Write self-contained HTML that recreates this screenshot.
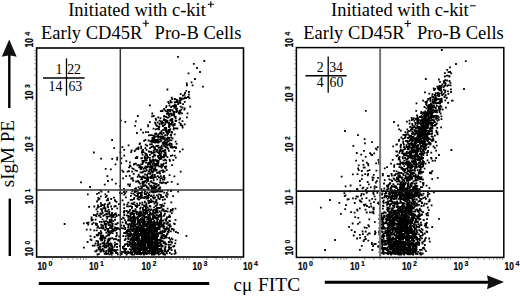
<!DOCTYPE html>
<html><head><meta charset="utf-8"><style>
html,body{margin:0;padding:0;background:#fff;width:520px;height:296px;overflow:hidden}
svg{position:absolute;left:0;top:0}
.tt{font-family:"Liberation Serif",serif;font-size:18.5px;fill:#000}
.sp{font-family:"Liberation Serif",serif;font-size:10px;fill:#000}
.qn{font-family:"Liberation Serif",serif;font-size:13.8px;fill:#000}
.tk{font-family:"Liberation Sans",sans-serif;font-weight:bold;font-size:10.3px;fill:#000;stroke:#000;stroke-width:0.2px}
.tks{font-family:"Liberation Sans",sans-serif;font-weight:bold;font-size:7px;fill:#000;stroke:#000;stroke-width:0.15px}
</style></head><body>
<svg width="520" height="296" viewBox="0 0 520 296">
<defs><filter id="bl" x="-5%" y="-5%" width="110%" height="110%"><feGaussianBlur stdDeviation="0.35"/></filter></defs>
<g fill="#000" filter="url(#bl)">
<path d="M190.6 81.4h1.8v1.8h-1.8zM185.9 82.6h1.8v1.8h-1.8zM186.0 84.4h1.8v1.8h-1.8zM191.7 84.4h1.8v1.8h-1.8zM185.4 89.9h1.8v1.8h-1.8zM184.1 92.1h1.8v1.8h-1.8zM179.8 93.2h1.8v1.8h-1.8zM183.6 93.9h1.8v1.8h-1.8zM188.0 93.7h1.8v1.8h-1.8zM182.0 94.7h1.8v1.8h-1.8zM187.1 96.1h1.8v1.8h-1.8zM170.8 96.7h1.8v1.8h-1.8zM184.1 96.5h1.8v1.8h-1.8zM185.1 97.1h1.8v1.8h-1.8zM187.7 96.2h1.8v1.8h-1.8zM179.0 97.3h1.8v1.8h-1.8zM180.8 97.6h1.8v1.8h-1.8zM182.8 97.8h1.8v1.8h-1.8zM183.7 97.3h1.8v1.8h-1.8zM188.5 97.2h1.8v1.8h-1.8zM171.4 98.2h1.8v1.8h-1.8zM173.8 98.1h1.8v1.8h-1.8zM174.5 98.5h1.8v1.8h-1.8zM180.0 98.1h1.8v1.8h-1.8zM180.9 98.2h1.8v1.8h-1.8zM169.5 99.8h1.8v1.8h-1.8zM176.1 99.1h1.8v1.8h-1.8zM178.7 99.5h1.8v1.8h-1.8zM179.8 99.3h1.8v1.8h-1.8zM176.0 100.4h1.8v1.8h-1.8zM176.8 100.4h1.8v1.8h-1.8zM179.1 100.9h1.8v1.8h-1.8zM183.9 100.9h1.8v1.8h-1.8zM167.4 101.1h1.8v1.8h-1.8zM170.0 101.5h1.8v1.8h-1.8zM170.8 101.5h1.8v1.8h-1.8zM173.9 101.2h1.8v1.8h-1.8zM175.5 101.2h1.8v1.8h-1.8zM176.9 101.1h1.8v1.8h-1.8zM178.9 101.7h1.8v1.8h-1.8zM168.0 102.3h1.8v1.8h-1.8zM179.6 102.2h1.8v1.8h-1.8zM173.9 103.6h1.8v1.8h-1.8zM177.2 103.1h1.8v1.8h-1.8zM182.2 103.3h1.8v1.8h-1.8zM168.6 104.6h1.8v1.8h-1.8zM173.2 104.9h1.8v1.8h-1.8zM174.2 104.7h1.8v1.8h-1.8zM175.2 104.4h1.8v1.8h-1.8zM165.6 105.3h1.8v1.8h-1.8zM171.8 105.2h1.8v1.8h-1.8zM173.4 105.8h1.8v1.8h-1.8zM175.0 106.0h1.8v1.8h-1.8zM179.6 105.7h1.8v1.8h-1.8zM189.3 105.8h1.8v1.8h-1.8zM165.3 106.4h1.8v1.8h-1.8zM170.3 106.1h1.8v1.8h-1.8zM173.5 107.0h1.8v1.8h-1.8zM181.5 106.6h1.8v1.8h-1.8zM163.1 108.0h1.8v1.8h-1.8zM175.6 107.7h1.8v1.8h-1.8zM176.2 107.8h1.8v1.8h-1.8zM183.8 107.4h1.8v1.8h-1.8zM166.8 109.0h1.8v1.8h-1.8zM168.1 108.9h1.8v1.8h-1.8zM170.0 108.9h1.8v1.8h-1.8zM175.1 108.4h1.8v1.8h-1.8zM180.4 108.7h1.8v1.8h-1.8zM183.4 108.8h1.8v1.8h-1.8zM161.7 109.8h1.8v1.8h-1.8zM164.3 109.4h1.8v1.8h-1.8zM166.9 109.6h1.8v1.8h-1.8zM171.8 109.6h1.8v1.8h-1.8zM176.1 109.8h1.8v1.8h-1.8zM179.0 109.7h1.8v1.8h-1.8zM159.9 110.2h1.8v1.8h-1.8zM161.6 110.3h1.8v1.8h-1.8zM165.2 110.5h1.8v1.8h-1.8zM169.2 110.5h1.8v1.8h-1.8zM172.8 111.0h1.8v1.8h-1.8zM173.5 110.9h1.8v1.8h-1.8zM175.5 111.1h1.8v1.8h-1.8zM176.3 110.4h1.8v1.8h-1.8zM178.6 110.5h1.8v1.8h-1.8zM167.1 111.3h1.8v1.8h-1.8zM172.8 111.6h1.8v1.8h-1.8zM177.8 111.9h1.8v1.8h-1.8zM178.3 111.5h1.8v1.8h-1.8zM179.6 111.4h1.8v1.8h-1.8zM151.4 112.6h1.8v1.8h-1.8zM166.0 112.7h1.8v1.8h-1.8zM166.2 113.0h1.8v1.8h-1.8zM167.7 113.1h1.8v1.8h-1.8zM169.7 112.8h1.8v1.8h-1.8zM170.6 112.7h1.8v1.8h-1.8zM173.3 113.1h1.8v1.8h-1.8zM177.9 112.4h1.8v1.8h-1.8zM178.9 112.8h1.8v1.8h-1.8zM181.1 112.5h1.8v1.8h-1.8zM186.6 112.4h1.8v1.8h-1.8zM167.7 113.9h1.8v1.8h-1.8zM168.2 113.5h1.8v1.8h-1.8zM171.3 114.0h1.8v1.8h-1.8zM172.8 113.1h1.8v1.8h-1.8zM173.3 113.4h1.8v1.8h-1.8zM136.9 115.1h1.8v1.8h-1.8zM152.8 115.1h1.8v1.8h-1.8zM163.5 115.1h1.8v1.8h-1.8zM170.5 114.6h1.8v1.8h-1.8zM173.1 114.5h1.8v1.8h-1.8zM151.2 115.5h1.8v1.8h-1.8zM163.0 115.7h1.8v1.8h-1.8zM165.3 116.1h1.8v1.8h-1.8zM168.5 115.7h1.8v1.8h-1.8zM173.8 116.0h1.8v1.8h-1.8zM174.8 115.8h1.8v1.8h-1.8zM157.3 116.4h1.8v1.8h-1.8zM166.7 116.8h1.8v1.8h-1.8zM167.4 116.7h1.8v1.8h-1.8zM186.0 116.5h1.8v1.8h-1.8zM154.8 117.8h1.8v1.8h-1.8zM159.5 117.2h1.8v1.8h-1.8zM171.2 118.0h1.8v1.8h-1.8zM174.8 117.7h1.8v1.8h-1.8zM179.2 117.6h1.8v1.8h-1.8zM155.0 118.7h1.8v1.8h-1.8zM155.2 119.0h1.8v1.8h-1.8zM163.0 119.0h1.8v1.8h-1.8zM163.2 118.3h1.8v1.8h-1.8zM164.7 118.9h1.8v1.8h-1.8zM169.6 118.9h1.8v1.8h-1.8zM170.4 118.6h1.8v1.8h-1.8zM171.6 118.6h1.8v1.8h-1.8zM178.4 118.8h1.8v1.8h-1.8zM119.9 119.7h1.8v1.8h-1.8zM158.6 119.7h1.8v1.8h-1.8zM164.0 119.6h1.8v1.8h-1.8zM166.1 119.8h1.8v1.8h-1.8zM169.3 119.7h1.8v1.8h-1.8zM175.4 119.9h1.8v1.8h-1.8zM135.0 120.5h1.8v1.8h-1.8zM160.2 120.6h1.8v1.8h-1.8zM161.5 120.4h1.8v1.8h-1.8zM166.7 120.3h1.8v1.8h-1.8zM171.1 120.4h1.8v1.8h-1.8zM174.6 120.1h1.8v1.8h-1.8zM181.6 120.2h1.8v1.8h-1.8zM149.0 121.2h1.8v1.8h-1.8zM154.3 121.8h1.8v1.8h-1.8zM156.8 121.6h1.8v1.8h-1.8zM160.7 121.4h1.8v1.8h-1.8zM162.5 122.0h1.8v1.8h-1.8zM164.9 121.2h1.8v1.8h-1.8zM166.4 121.7h1.8v1.8h-1.8zM168.3 121.9h1.8v1.8h-1.8zM171.1 122.0h1.8v1.8h-1.8zM171.8 121.2h1.8v1.8h-1.8zM178.5 121.7h1.8v1.8h-1.8zM154.5 122.7h1.8v1.8h-1.8zM158.9 122.8h1.8v1.8h-1.8zM161.0 123.0h1.8v1.8h-1.8zM168.2 122.7h1.8v1.8h-1.8zM169.5 122.9h1.8v1.8h-1.8zM173.9 123.0h1.8v1.8h-1.8zM179.9 122.9h1.8v1.8h-1.8zM158.7 123.5h1.8v1.8h-1.8zM164.3 123.2h1.8v1.8h-1.8zM168.2 124.0h1.8v1.8h-1.8zM170.7 123.6h1.8v1.8h-1.8zM172.6 123.6h1.8v1.8h-1.8zM183.8 123.4h1.8v1.8h-1.8zM134.2 125.0h1.8v1.8h-1.8zM147.2 124.2h1.8v1.8h-1.8zM155.4 124.3h1.8v1.8h-1.8zM161.8 125.1h1.8v1.8h-1.8zM162.4 124.7h1.8v1.8h-1.8zM163.5 124.3h1.8v1.8h-1.8zM168.0 124.8h1.8v1.8h-1.8zM168.7 124.4h1.8v1.8h-1.8zM172.4 125.0h1.8v1.8h-1.8zM173.7 124.2h1.8v1.8h-1.8zM179.8 124.2h1.8v1.8h-1.8zM181.4 124.7h1.8v1.8h-1.8zM147.3 125.5h1.8v1.8h-1.8zM156.1 125.1h1.8v1.8h-1.8zM158.0 125.8h1.8v1.8h-1.8zM158.4 125.9h1.8v1.8h-1.8zM168.7 125.4h1.8v1.8h-1.8zM163.8 127.0h1.8v1.8h-1.8zM165.3 127.0h1.8v1.8h-1.8zM168.2 126.1h1.8v1.8h-1.8zM181.7 126.6h1.8v1.8h-1.8zM152.6 127.7h1.8v1.8h-1.8zM156.4 128.0h1.8v1.8h-1.8zM157.8 127.4h1.8v1.8h-1.8zM163.9 127.9h1.8v1.8h-1.8zM164.3 127.2h1.8v1.8h-1.8zM173.0 127.2h1.8v1.8h-1.8zM174.7 127.5h1.8v1.8h-1.8zM176.5 127.6h1.8v1.8h-1.8zM140.0 128.7h1.8v1.8h-1.8zM154.8 128.4h1.8v1.8h-1.8zM158.2 128.5h1.8v1.8h-1.8zM162.2 128.9h1.8v1.8h-1.8zM165.3 128.1h1.8v1.8h-1.8zM167.6 129.0h1.8v1.8h-1.8zM169.4 128.2h1.8v1.8h-1.8zM172.7 128.4h1.8v1.8h-1.8zM164.3 129.3h1.8v1.8h-1.8zM165.5 129.9h1.8v1.8h-1.8zM168.9 129.3h1.8v1.8h-1.8zM160.7 130.3h1.8v1.8h-1.8zM165.1 130.3h1.8v1.8h-1.8zM166.8 130.7h1.8v1.8h-1.8zM167.1 130.7h1.8v1.8h-1.8zM168.5 130.9h1.8v1.8h-1.8zM170.6 131.0h1.8v1.8h-1.8zM142.2 131.8h1.8v1.8h-1.8zM145.0 131.2h1.8v1.8h-1.8zM147.3 131.3h1.8v1.8h-1.8zM159.5 131.4h1.8v1.8h-1.8zM165.6 131.1h1.8v1.8h-1.8zM166.2 131.8h1.8v1.8h-1.8zM168.3 131.2h1.8v1.8h-1.8zM171.2 131.6h1.8v1.8h-1.8zM154.2 132.9h1.8v1.8h-1.8zM155.2 132.4h1.8v1.8h-1.8zM159.1 132.6h1.8v1.8h-1.8zM159.6 132.8h1.8v1.8h-1.8zM160.4 132.1h1.8v1.8h-1.8zM162.7 132.1h1.8v1.8h-1.8zM166.3 132.3h1.8v1.8h-1.8zM167.3 133.0h1.8v1.8h-1.8zM154.8 133.3h1.8v1.8h-1.8zM155.2 133.2h1.8v1.8h-1.8zM157.4 133.3h1.8v1.8h-1.8zM161.0 133.4h1.8v1.8h-1.8zM170.1 133.8h1.8v1.8h-1.8zM173.8 133.5h1.8v1.8h-1.8zM148.0 134.4h1.8v1.8h-1.8zM149.8 134.3h1.8v1.8h-1.8zM150.5 134.2h1.8v1.8h-1.8zM151.8 134.5h1.8v1.8h-1.8zM153.4 134.9h1.8v1.8h-1.8zM157.0 135.1h1.8v1.8h-1.8zM164.2 134.3h1.8v1.8h-1.8zM166.2 134.3h1.8v1.8h-1.8zM169.8 134.5h1.8v1.8h-1.8zM170.2 134.5h1.8v1.8h-1.8zM153.1 135.4h1.8v1.8h-1.8zM153.1 135.6h1.8v1.8h-1.8zM155.3 135.5h1.8v1.8h-1.8zM158.7 136.0h1.8v1.8h-1.8zM159.3 135.6h1.8v1.8h-1.8zM160.9 136.0h1.8v1.8h-1.8zM162.1 135.5h1.8v1.8h-1.8zM151.5 137.1h1.8v1.8h-1.8zM153.8 136.4h1.8v1.8h-1.8zM157.2 136.8h1.8v1.8h-1.8zM160.0 137.1h1.8v1.8h-1.8zM162.1 136.2h1.8v1.8h-1.8zM163.8 136.4h1.8v1.8h-1.8zM166.7 136.6h1.8v1.8h-1.8zM167.3 136.9h1.8v1.8h-1.8zM168.2 137.1h1.8v1.8h-1.8zM170.4 136.7h1.8v1.8h-1.8zM151.9 138.0h1.8v1.8h-1.8zM152.3 137.8h1.8v1.8h-1.8zM153.2 137.5h1.8v1.8h-1.8zM160.4 138.0h1.8v1.8h-1.8zM162.0 137.9h1.8v1.8h-1.8zM162.9 137.7h1.8v1.8h-1.8zM165.9 138.1h1.8v1.8h-1.8zM167.1 137.4h1.8v1.8h-1.8zM171.7 137.4h1.8v1.8h-1.8zM144.5 139.0h1.8v1.8h-1.8zM152.8 138.5h1.8v1.8h-1.8zM154.6 139.1h1.8v1.8h-1.8zM156.5 139.0h1.8v1.8h-1.8zM157.1 139.0h1.8v1.8h-1.8zM158.8 138.4h1.8v1.8h-1.8zM164.0 138.6h1.8v1.8h-1.8zM166.7 138.9h1.8v1.8h-1.8zM143.2 139.9h1.8v1.8h-1.8zM147.7 139.6h1.8v1.8h-1.8zM151.1 139.2h1.8v1.8h-1.8zM152.7 139.9h1.8v1.8h-1.8zM153.6 139.6h1.8v1.8h-1.8zM154.2 139.6h1.8v1.8h-1.8zM156.3 139.2h1.8v1.8h-1.8zM160.3 140.0h1.8v1.8h-1.8zM164.8 139.5h1.8v1.8h-1.8zM168.8 139.2h1.8v1.8h-1.8zM170.6 139.4h1.8v1.8h-1.8zM149.6 140.2h1.8v1.8h-1.8zM150.2 140.9h1.8v1.8h-1.8zM151.8 140.1h1.8v1.8h-1.8zM154.6 141.1h1.8v1.8h-1.8zM155.1 140.7h1.8v1.8h-1.8zM156.9 140.8h1.8v1.8h-1.8zM158.7 140.7h1.8v1.8h-1.8zM163.3 140.8h1.8v1.8h-1.8zM167.7 140.4h1.8v1.8h-1.8zM174.7 140.7h1.8v1.8h-1.8zM152.1 141.3h1.8v1.8h-1.8zM153.8 141.3h1.8v1.8h-1.8zM154.1 141.6h1.8v1.8h-1.8zM156.0 141.3h1.8v1.8h-1.8zM156.7 141.6h1.8v1.8h-1.8zM157.6 141.6h1.8v1.8h-1.8zM161.7 141.7h1.8v1.8h-1.8zM163.9 141.6h1.8v1.8h-1.8zM165.5 141.4h1.8v1.8h-1.8zM166.3 141.3h1.8v1.8h-1.8zM139.2 142.5h1.8v1.8h-1.8zM163.0 142.3h1.8v1.8h-1.8zM169.1 142.6h1.8v1.8h-1.8zM170.5 143.0h1.8v1.8h-1.8zM175.7 142.9h1.8v1.8h-1.8zM138.6 143.2h1.8v1.8h-1.8zM144.8 143.7h1.8v1.8h-1.8zM149.1 143.5h1.8v1.8h-1.8zM151.0 143.3h1.8v1.8h-1.8zM162.3 143.2h1.8v1.8h-1.8zM163.7 143.6h1.8v1.8h-1.8zM164.4 143.2h1.8v1.8h-1.8zM166.0 143.2h1.8v1.8h-1.8zM167.9 143.4h1.8v1.8h-1.8zM170.8 143.7h1.8v1.8h-1.8zM127.7 144.5h1.8v1.8h-1.8zM145.7 144.8h1.8v1.8h-1.8zM146.4 144.8h1.8v1.8h-1.8zM157.4 144.7h1.8v1.8h-1.8zM160.9 144.7h1.8v1.8h-1.8zM163.1 144.9h1.8v1.8h-1.8zM166.2 144.2h1.8v1.8h-1.8zM168.4 144.5h1.8v1.8h-1.8zM169.9 145.0h1.8v1.8h-1.8zM140.2 145.6h1.8v1.8h-1.8zM151.2 145.5h1.8v1.8h-1.8zM152.4 145.3h1.8v1.8h-1.8zM155.4 145.1h1.8v1.8h-1.8zM156.5 145.3h1.8v1.8h-1.8zM160.6 145.7h1.8v1.8h-1.8zM164.3 145.5h1.8v1.8h-1.8zM171.1 145.8h1.8v1.8h-1.8zM121.5 146.3h1.8v1.8h-1.8zM137.6 146.6h1.8v1.8h-1.8zM150.6 146.3h1.8v1.8h-1.8zM153.0 146.2h1.8v1.8h-1.8zM154.0 146.8h1.8v1.8h-1.8zM157.7 147.0h1.8v1.8h-1.8zM159.0 146.4h1.8v1.8h-1.8zM159.4 146.7h1.8v1.8h-1.8zM160.3 146.8h1.8v1.8h-1.8zM164.8 146.4h1.8v1.8h-1.8zM166.1 146.2h1.8v1.8h-1.8zM166.6 147.0h1.8v1.8h-1.8zM169.8 146.2h1.8v1.8h-1.8zM170.8 146.7h1.8v1.8h-1.8zM172.0 146.7h1.8v1.8h-1.8zM173.5 146.1h1.8v1.8h-1.8zM175.2 146.6h1.8v1.8h-1.8zM136.3 147.5h1.8v1.8h-1.8zM140.3 147.5h1.8v1.8h-1.8zM144.5 147.2h1.8v1.8h-1.8zM149.2 147.3h1.8v1.8h-1.8zM153.5 147.8h1.8v1.8h-1.8zM160.3 148.0h1.8v1.8h-1.8zM161.6 147.6h1.8v1.8h-1.8zM167.3 148.0h1.8v1.8h-1.8zM175.1 147.1h1.8v1.8h-1.8zM123.3 149.0h1.8v1.8h-1.8zM135.1 148.4h1.8v1.8h-1.8zM137.5 148.2h1.8v1.8h-1.8zM142.2 148.9h1.8v1.8h-1.8zM145.6 149.0h1.8v1.8h-1.8zM153.6 148.8h1.8v1.8h-1.8zM154.5 148.3h1.8v1.8h-1.8zM156.5 149.0h1.8v1.8h-1.8zM159.1 148.9h1.8v1.8h-1.8zM164.2 148.9h1.8v1.8h-1.8zM181.8 148.4h1.8v1.8h-1.8zM130.7 149.4h1.8v1.8h-1.8zM133.8 150.1h1.8v1.8h-1.8zM141.4 149.9h1.8v1.8h-1.8zM152.8 150.0h1.8v1.8h-1.8zM155.9 149.9h1.8v1.8h-1.8zM164.5 149.2h1.8v1.8h-1.8zM168.0 150.0h1.8v1.8h-1.8zM173.6 149.9h1.8v1.8h-1.8zM141.6 150.6h1.8v1.8h-1.8zM147.9 150.5h1.8v1.8h-1.8zM148.5 151.0h1.8v1.8h-1.8zM150.4 150.8h1.8v1.8h-1.8zM155.5 150.5h1.8v1.8h-1.8zM158.5 150.3h1.8v1.8h-1.8zM159.9 150.2h1.8v1.8h-1.8zM160.4 150.8h1.8v1.8h-1.8zM162.1 150.1h1.8v1.8h-1.8zM162.5 150.3h1.8v1.8h-1.8zM163.6 150.5h1.8v1.8h-1.8zM179.0 150.8h1.8v1.8h-1.8zM119.5 151.5h1.8v1.8h-1.8zM130.3 151.2h1.8v1.8h-1.8zM140.9 151.6h1.8v1.8h-1.8zM142.6 151.3h1.8v1.8h-1.8zM152.3 151.9h1.8v1.8h-1.8zM153.7 151.6h1.8v1.8h-1.8zM156.7 151.4h1.8v1.8h-1.8zM158.2 151.6h1.8v1.8h-1.8zM160.5 152.0h1.8v1.8h-1.8zM163.5 151.7h1.8v1.8h-1.8zM164.6 151.5h1.8v1.8h-1.8zM144.2 152.5h1.8v1.8h-1.8zM150.6 152.5h1.8v1.8h-1.8zM158.0 152.2h1.8v1.8h-1.8zM160.2 152.5h1.8v1.8h-1.8zM164.8 152.6h1.8v1.8h-1.8zM141.7 153.7h1.8v1.8h-1.8zM145.5 153.1h1.8v1.8h-1.8zM149.0 153.9h1.8v1.8h-1.8zM153.6 154.1h1.8v1.8h-1.8zM158.7 153.8h1.8v1.8h-1.8zM163.1 154.1h1.8v1.8h-1.8zM164.5 153.6h1.8v1.8h-1.8zM123.3 154.7h1.8v1.8h-1.8zM144.9 154.5h1.8v1.8h-1.8zM146.2 154.5h1.8v1.8h-1.8zM153.1 154.3h1.8v1.8h-1.8zM154.4 154.8h1.8v1.8h-1.8zM158.4 154.7h1.8v1.8h-1.8zM159.8 154.2h1.8v1.8h-1.8zM165.1 154.7h1.8v1.8h-1.8zM169.9 154.9h1.8v1.8h-1.8zM171.4 154.4h1.8v1.8h-1.8zM173.8 154.7h1.8v1.8h-1.8zM136.0 155.9h1.8v1.8h-1.8zM143.8 155.8h1.8v1.8h-1.8zM151.8 155.9h1.8v1.8h-1.8zM152.6 155.8h1.8v1.8h-1.8zM157.1 155.7h1.8v1.8h-1.8zM157.3 155.1h1.8v1.8h-1.8zM159.9 155.4h1.8v1.8h-1.8zM160.4 155.6h1.8v1.8h-1.8zM163.8 155.2h1.8v1.8h-1.8zM135.3 156.8h1.8v1.8h-1.8zM136.5 156.4h1.8v1.8h-1.8zM146.2 156.5h1.8v1.8h-1.8zM147.1 156.2h1.8v1.8h-1.8zM149.0 157.0h1.8v1.8h-1.8zM157.9 157.0h1.8v1.8h-1.8zM158.6 156.9h1.8v1.8h-1.8zM160.1 156.2h1.8v1.8h-1.8zM162.0 156.1h1.8v1.8h-1.8zM162.9 156.4h1.8v1.8h-1.8zM166.5 156.3h1.8v1.8h-1.8zM174.9 156.8h1.8v1.8h-1.8zM100.2 157.7h1.8v1.8h-1.8zM111.3 157.9h1.8v1.8h-1.8zM120.5 157.5h1.8v1.8h-1.8zM134.8 157.2h1.8v1.8h-1.8zM136.1 157.3h1.8v1.8h-1.8zM140.4 157.4h1.8v1.8h-1.8zM141.2 157.3h1.8v1.8h-1.8zM143.9 157.6h1.8v1.8h-1.8zM144.2 157.3h1.8v1.8h-1.8zM146.5 157.3h1.8v1.8h-1.8zM159.2 157.7h1.8v1.8h-1.8zM160.5 157.9h1.8v1.8h-1.8zM116.2 158.7h1.8v1.8h-1.8zM144.7 158.5h1.8v1.8h-1.8zM149.0 159.0h1.8v1.8h-1.8zM152.1 158.6h1.8v1.8h-1.8zM154.7 158.8h1.8v1.8h-1.8zM158.9 158.1h1.8v1.8h-1.8zM164.2 158.7h1.8v1.8h-1.8zM168.7 158.8h1.8v1.8h-1.8zM141.5 160.0h1.8v1.8h-1.8zM144.8 159.2h1.8v1.8h-1.8zM145.8 159.3h1.8v1.8h-1.8zM151.0 159.6h1.8v1.8h-1.8zM152.0 159.9h1.8v1.8h-1.8zM153.4 159.3h1.8v1.8h-1.8zM155.4 160.0h1.8v1.8h-1.8zM156.7 159.5h1.8v1.8h-1.8zM157.8 159.8h1.8v1.8h-1.8zM162.7 159.4h1.8v1.8h-1.8zM165.3 159.6h1.8v1.8h-1.8zM169.0 160.0h1.8v1.8h-1.8zM172.4 159.3h1.8v1.8h-1.8zM125.4 160.2h1.8v1.8h-1.8zM142.2 160.1h1.8v1.8h-1.8zM143.1 160.1h1.8v1.8h-1.8zM149.2 160.8h1.8v1.8h-1.8zM153.0 160.4h1.8v1.8h-1.8zM155.9 160.1h1.8v1.8h-1.8zM129.0 161.5h1.8v1.8h-1.8zM141.8 161.8h1.8v1.8h-1.8zM142.5 161.5h1.8v1.8h-1.8zM145.1 161.6h1.8v1.8h-1.8zM145.8 161.7h1.8v1.8h-1.8zM147.9 161.9h1.8v1.8h-1.8zM149.0 161.9h1.8v1.8h-1.8zM150.1 161.5h1.8v1.8h-1.8zM152.8 161.8h1.8v1.8h-1.8zM156.5 161.2h1.8v1.8h-1.8zM157.6 161.5h1.8v1.8h-1.8zM165.2 162.1h1.8v1.8h-1.8zM120.3 162.2h1.8v1.8h-1.8zM135.0 162.7h1.8v1.8h-1.8zM149.3 162.8h1.8v1.8h-1.8zM151.6 162.4h1.8v1.8h-1.8zM156.0 162.8h1.8v1.8h-1.8zM157.4 163.0h1.8v1.8h-1.8zM162.9 162.7h1.8v1.8h-1.8zM133.0 163.6h1.8v1.8h-1.8zM133.6 163.1h1.8v1.8h-1.8zM137.8 164.0h1.8v1.8h-1.8zM140.3 163.5h1.8v1.8h-1.8zM141.5 163.2h1.8v1.8h-1.8zM147.0 163.6h1.8v1.8h-1.8zM148.1 163.4h1.8v1.8h-1.8zM149.1 163.4h1.8v1.8h-1.8zM152.0 163.7h1.8v1.8h-1.8zM154.0 163.1h1.8v1.8h-1.8zM155.2 163.2h1.8v1.8h-1.8zM157.0 164.0h1.8v1.8h-1.8zM160.4 163.6h1.8v1.8h-1.8zM161.6 163.8h1.8v1.8h-1.8zM129.0 164.6h1.8v1.8h-1.8zM136.5 164.4h1.8v1.8h-1.8zM138.9 164.9h1.8v1.8h-1.8zM149.7 164.4h1.8v1.8h-1.8zM153.3 164.9h1.8v1.8h-1.8zM154.5 164.8h1.8v1.8h-1.8zM156.2 164.8h1.8v1.8h-1.8zM161.7 164.9h1.8v1.8h-1.8zM162.2 164.2h1.8v1.8h-1.8zM171.2 164.3h1.8v1.8h-1.8zM129.7 165.5h1.8v1.8h-1.8zM139.8 166.1h1.8v1.8h-1.8zM144.7 165.5h1.8v1.8h-1.8zM147.2 165.7h1.8v1.8h-1.8zM149.2 166.0h1.8v1.8h-1.8zM151.0 165.2h1.8v1.8h-1.8zM151.3 165.9h1.8v1.8h-1.8zM158.2 165.4h1.8v1.8h-1.8zM159.8 165.8h1.8v1.8h-1.8zM160.4 165.4h1.8v1.8h-1.8zM164.0 165.9h1.8v1.8h-1.8zM165.4 165.4h1.8v1.8h-1.8zM128.2 166.5h1.8v1.8h-1.8zM138.3 166.5h1.8v1.8h-1.8zM141.3 166.6h1.8v1.8h-1.8zM143.7 166.7h1.8v1.8h-1.8zM145.7 166.6h1.8v1.8h-1.8zM146.5 166.1h1.8v1.8h-1.8zM149.1 166.6h1.8v1.8h-1.8zM150.1 166.5h1.8v1.8h-1.8zM150.5 166.5h1.8v1.8h-1.8zM151.5 167.0h1.8v1.8h-1.8zM154.4 166.7h1.8v1.8h-1.8zM160.8 166.8h1.8v1.8h-1.8zM164.7 166.9h1.8v1.8h-1.8zM131.5 167.4h1.8v1.8h-1.8zM132.6 168.0h1.8v1.8h-1.8zM139.6 167.8h1.8v1.8h-1.8zM142.7 167.9h1.8v1.8h-1.8zM144.9 167.8h1.8v1.8h-1.8zM151.0 167.4h1.8v1.8h-1.8zM152.2 167.5h1.8v1.8h-1.8zM154.1 168.0h1.8v1.8h-1.8zM164.5 167.5h1.8v1.8h-1.8zM140.2 168.3h1.8v1.8h-1.8zM148.7 168.8h1.8v1.8h-1.8zM150.4 168.8h1.8v1.8h-1.8zM152.7 169.0h1.8v1.8h-1.8zM155.8 169.0h1.8v1.8h-1.8zM121.5 169.7h1.8v1.8h-1.8zM134.5 169.5h1.8v1.8h-1.8zM136.1 170.0h1.8v1.8h-1.8zM145.9 169.5h1.8v1.8h-1.8zM153.9 169.7h1.8v1.8h-1.8zM154.8 169.4h1.8v1.8h-1.8zM160.8 169.8h1.8v1.8h-1.8zM162.0 169.4h1.8v1.8h-1.8zM165.9 169.3h1.8v1.8h-1.8zM122.5 171.0h1.8v1.8h-1.8zM126.7 170.7h1.8v1.8h-1.8zM128.1 170.2h1.8v1.8h-1.8zM131.3 170.7h1.8v1.8h-1.8zM142.3 170.7h1.8v1.8h-1.8zM143.5 170.2h1.8v1.8h-1.8zM144.6 170.5h1.8v1.8h-1.8zM147.9 170.5h1.8v1.8h-1.8zM148.5 170.7h1.8v1.8h-1.8zM150.7 170.4h1.8v1.8h-1.8zM152.3 170.4h1.8v1.8h-1.8zM158.9 170.4h1.8v1.8h-1.8zM163.7 170.4h1.8v1.8h-1.8zM179.8 170.7h1.8v1.8h-1.8zM139.7 171.5h1.8v1.8h-1.8zM141.5 171.6h1.8v1.8h-1.8zM151.8 171.2h1.8v1.8h-1.8zM156.1 171.6h1.8v1.8h-1.8zM157.6 171.4h1.8v1.8h-1.8zM158.6 171.3h1.8v1.8h-1.8zM162.3 171.1h1.8v1.8h-1.8zM132.8 172.9h1.8v1.8h-1.8zM147.2 172.7h1.8v1.8h-1.8zM149.1 172.9h1.8v1.8h-1.8zM149.6 172.2h1.8v1.8h-1.8zM156.6 172.2h1.8v1.8h-1.8zM159.2 172.8h1.8v1.8h-1.8zM137.9 173.7h1.8v1.8h-1.8zM144.1 173.6h1.8v1.8h-1.8zM146.1 174.0h1.8v1.8h-1.8zM151.8 173.6h1.8v1.8h-1.8zM153.9 173.9h1.8v1.8h-1.8zM128.8 174.9h1.8v1.8h-1.8zM137.7 174.5h1.8v1.8h-1.8zM150.8 174.8h1.8v1.8h-1.8zM151.5 175.0h1.8v1.8h-1.8zM163.2 175.1h1.8v1.8h-1.8zM168.7 174.2h1.8v1.8h-1.8zM125.3 175.3h1.8v1.8h-1.8zM136.8 176.0h1.8v1.8h-1.8zM139.0 175.7h1.8v1.8h-1.8zM139.8 175.9h1.8v1.8h-1.8zM142.3 175.4h1.8v1.8h-1.8zM146.4 175.8h1.8v1.8h-1.8zM149.9 175.8h1.8v1.8h-1.8zM150.8 175.2h1.8v1.8h-1.8zM153.9 175.3h1.8v1.8h-1.8zM156.9 175.3h1.8v1.8h-1.8zM160.0 175.2h1.8v1.8h-1.8zM173.5 175.4h1.8v1.8h-1.8zM131.6 177.1h1.8v1.8h-1.8zM140.9 176.7h1.8v1.8h-1.8zM142.0 176.2h1.8v1.8h-1.8zM142.7 176.2h1.8v1.8h-1.8zM143.6 176.3h1.8v1.8h-1.8zM147.9 176.4h1.8v1.8h-1.8zM151.7 176.7h1.8v1.8h-1.8zM153.2 176.4h1.8v1.8h-1.8zM154.8 176.3h1.8v1.8h-1.8zM158.0 176.4h1.8v1.8h-1.8zM158.4 176.4h1.8v1.8h-1.8zM162.6 176.2h1.8v1.8h-1.8zM163.7 176.9h1.8v1.8h-1.8zM122.2 177.5h1.8v1.8h-1.8zM130.3 177.6h1.8v1.8h-1.8zM143.8 177.2h1.8v1.8h-1.8zM145.1 177.3h1.8v1.8h-1.8zM147.0 177.2h1.8v1.8h-1.8zM149.6 177.2h1.8v1.8h-1.8zM150.2 177.2h1.8v1.8h-1.8zM152.5 177.5h1.8v1.8h-1.8zM159.6 177.8h1.8v1.8h-1.8zM160.7 177.2h1.8v1.8h-1.8zM131.8 178.3h1.8v1.8h-1.8zM140.2 178.5h1.8v1.8h-1.8zM141.4 178.4h1.8v1.8h-1.8zM145.8 179.0h1.8v1.8h-1.8zM146.3 178.8h1.8v1.8h-1.8zM147.2 178.9h1.8v1.8h-1.8zM156.3 178.5h1.8v1.8h-1.8zM162.0 178.7h1.8v1.8h-1.8zM163.4 178.8h1.8v1.8h-1.8zM107.0 180.1h1.8v1.8h-1.8zM132.3 180.0h1.8v1.8h-1.8zM144.5 179.9h1.8v1.8h-1.8zM152.8 179.4h1.8v1.8h-1.8zM159.4 179.7h1.8v1.8h-1.8zM135.2 180.6h1.8v1.8h-1.8zM137.1 180.1h1.8v1.8h-1.8zM141.8 181.0h1.8v1.8h-1.8zM143.3 180.8h1.8v1.8h-1.8zM144.5 180.3h1.8v1.8h-1.8zM146.9 180.1h1.8v1.8h-1.8zM149.6 181.0h1.8v1.8h-1.8zM150.3 180.2h1.8v1.8h-1.8zM170.8 180.9h1.8v1.8h-1.8zM137.6 181.4h1.8v1.8h-1.8zM138.3 181.3h1.8v1.8h-1.8zM142.1 182.1h1.8v1.8h-1.8zM143.2 181.8h1.8v1.8h-1.8zM145.6 181.6h1.8v1.8h-1.8zM151.3 181.8h1.8v1.8h-1.8zM159.1 181.8h1.8v1.8h-1.8zM161.7 181.4h1.8v1.8h-1.8zM162.6 181.6h1.8v1.8h-1.8zM164.6 182.1h1.8v1.8h-1.8zM166.8 181.3h1.8v1.8h-1.8zM139.1 182.8h1.8v1.8h-1.8zM141.4 182.4h1.8v1.8h-1.8zM142.3 182.7h1.8v1.8h-1.8zM148.0 183.0h1.8v1.8h-1.8zM152.6 182.2h1.8v1.8h-1.8zM153.8 182.5h1.8v1.8h-1.8zM155.7 182.9h1.8v1.8h-1.8zM160.9 182.1h1.8v1.8h-1.8zM165.3 182.4h1.8v1.8h-1.8zM127.2 183.6h1.8v1.8h-1.8zM129.2 183.5h1.8v1.8h-1.8zM141.9 183.9h1.8v1.8h-1.8zM154.9 183.4h1.8v1.8h-1.8zM176.8 183.2h1.8v1.8h-1.8zM142.9 185.1h1.8v1.8h-1.8zM144.1 184.2h1.8v1.8h-1.8zM145.1 184.8h1.8v1.8h-1.8zM149.1 184.7h1.8v1.8h-1.8zM149.9 184.7h1.8v1.8h-1.8zM150.6 184.8h1.8v1.8h-1.8zM153.2 184.5h1.8v1.8h-1.8zM156.6 184.9h1.8v1.8h-1.8zM157.8 184.1h1.8v1.8h-1.8zM119.2 185.3h1.8v1.8h-1.8zM128.8 185.3h1.8v1.8h-1.8zM140.2 185.4h1.8v1.8h-1.8zM145.6 185.4h1.8v1.8h-1.8zM150.3 185.7h1.8v1.8h-1.8zM152.7 185.7h1.8v1.8h-1.8zM154.4 185.9h1.8v1.8h-1.8zM155.6 185.8h1.8v1.8h-1.8zM137.7 186.2h1.8v1.8h-1.8zM140.7 186.8h1.8v1.8h-1.8zM141.1 186.2h1.8v1.8h-1.8zM146.0 186.5h1.8v1.8h-1.8zM147.0 186.6h1.8v1.8h-1.8zM150.6 186.5h1.8v1.8h-1.8zM151.6 186.7h1.8v1.8h-1.8zM153.0 186.1h1.8v1.8h-1.8zM153.7 186.5h1.8v1.8h-1.8zM154.7 186.9h1.8v1.8h-1.8zM155.2 186.4h1.8v1.8h-1.8zM158.8 186.5h1.8v1.8h-1.8zM159.3 186.5h1.8v1.8h-1.8zM123.0 187.9h1.8v1.8h-1.8zM134.1 188.0h1.8v1.8h-1.8zM135.1 187.2h1.8v1.8h-1.8zM139.5 188.0h1.8v1.8h-1.8zM141.0 187.2h1.8v1.8h-1.8zM141.1 187.2h1.8v1.8h-1.8zM147.0 187.7h1.8v1.8h-1.8zM147.9 187.5h1.8v1.8h-1.8zM151.2 187.1h1.8v1.8h-1.8zM152.7 188.1h1.8v1.8h-1.8zM154.3 188.0h1.8v1.8h-1.8zM157.6 187.7h1.8v1.8h-1.8zM158.9 187.2h1.8v1.8h-1.8zM131.3 189.0h1.8v1.8h-1.8zM138.6 188.2h1.8v1.8h-1.8zM143.0 188.7h1.8v1.8h-1.8zM143.7 188.7h1.8v1.8h-1.8zM147.9 188.4h1.8v1.8h-1.8zM151.0 188.2h1.8v1.8h-1.8zM155.0 189.1h1.8v1.8h-1.8zM157.2 189.1h1.8v1.8h-1.8zM159.0 188.9h1.8v1.8h-1.8zM99.5 189.4h1.8v1.8h-1.8zM131.2 189.9h1.8v1.8h-1.8zM135.3 189.3h1.8v1.8h-1.8zM137.0 190.0h1.8v1.8h-1.8zM141.3 189.8h1.8v1.8h-1.8zM144.1 190.1h1.8v1.8h-1.8zM150.9 189.3h1.8v1.8h-1.8zM153.4 189.3h1.8v1.8h-1.8zM154.9 189.9h1.8v1.8h-1.8zM157.1 189.6h1.8v1.8h-1.8zM161.2 190.1h1.8v1.8h-1.8zM166.9 189.8h1.8v1.8h-1.8zM170.5 189.5h1.8v1.8h-1.8zM100.5 190.8h1.8v1.8h-1.8zM107.5 191.0h1.8v1.8h-1.8zM125.5 190.7h1.8v1.8h-1.8zM133.6 190.3h1.8v1.8h-1.8zM135.3 190.1h1.8v1.8h-1.8zM150.4 190.5h1.8v1.8h-1.8zM151.8 190.9h1.8v1.8h-1.8zM152.3 190.2h1.8v1.8h-1.8zM153.6 190.9h1.8v1.8h-1.8zM156.6 190.6h1.8v1.8h-1.8zM158.5 190.4h1.8v1.8h-1.8zM159.2 190.8h1.8v1.8h-1.8zM160.1 190.6h1.8v1.8h-1.8zM161.4 190.4h1.8v1.8h-1.8zM169.9 190.2h1.8v1.8h-1.8zM177.3 190.7h1.8v1.8h-1.8zM98.0 191.9h1.8v1.8h-1.8zM119.0 192.0h1.8v1.8h-1.8zM123.2 191.1h1.8v1.8h-1.8zM134.1 191.2h1.8v1.8h-1.8zM139.2 192.1h1.8v1.8h-1.8zM141.1 191.7h1.8v1.8h-1.8zM143.7 192.0h1.8v1.8h-1.8zM146.2 191.4h1.8v1.8h-1.8zM148.7 191.4h1.8v1.8h-1.8zM151.3 191.3h1.8v1.8h-1.8zM152.7 191.8h1.8v1.8h-1.8zM154.7 191.2h1.8v1.8h-1.8zM163.3 191.8h1.8v1.8h-1.8zM165.9 191.9h1.8v1.8h-1.8zM96.1 193.0h1.8v1.8h-1.8zM121.0 192.5h1.8v1.8h-1.8zM124.3 192.5h1.8v1.8h-1.8zM130.5 192.4h1.8v1.8h-1.8zM132.6 192.7h1.8v1.8h-1.8zM136.4 192.3h1.8v1.8h-1.8zM137.4 192.3h1.8v1.8h-1.8zM140.3 192.7h1.8v1.8h-1.8zM143.9 193.1h1.8v1.8h-1.8zM147.5 192.8h1.8v1.8h-1.8zM86.9 193.4h1.8v1.8h-1.8zM104.5 193.5h1.8v1.8h-1.8zM123.4 193.8h1.8v1.8h-1.8zM133.8 194.0h1.8v1.8h-1.8zM137.0 194.0h1.8v1.8h-1.8zM145.2 193.2h1.8v1.8h-1.8zM148.0 194.1h1.8v1.8h-1.8zM148.1 193.9h1.8v1.8h-1.8zM158.1 193.5h1.8v1.8h-1.8zM160.0 194.1h1.8v1.8h-1.8zM166.8 193.6h1.8v1.8h-1.8zM105.8 195.0h1.8v1.8h-1.8zM130.0 194.9h1.8v1.8h-1.8zM135.3 194.9h1.8v1.8h-1.8zM139.8 194.6h1.8v1.8h-1.8zM141.2 194.4h1.8v1.8h-1.8zM146.4 195.1h1.8v1.8h-1.8zM150.5 194.5h1.8v1.8h-1.8zM152.9 194.4h1.8v1.8h-1.8zM156.0 194.4h1.8v1.8h-1.8zM164.9 194.5h1.8v1.8h-1.8zM99.9 195.5h1.8v1.8h-1.8zM137.0 195.7h1.8v1.8h-1.8zM139.1 196.0h1.8v1.8h-1.8zM139.8 195.2h1.8v1.8h-1.8zM143.9 196.0h1.8v1.8h-1.8zM145.0 195.7h1.8v1.8h-1.8zM147.4 195.8h1.8v1.8h-1.8zM150.0 195.3h1.8v1.8h-1.8zM157.4 195.5h1.8v1.8h-1.8zM160.2 195.7h1.8v1.8h-1.8zM162.4 196.1h1.8v1.8h-1.8zM166.1 196.0h1.8v1.8h-1.8zM172.2 195.3h1.8v1.8h-1.8zM97.5 196.9h1.8v1.8h-1.8zM104.8 196.2h1.8v1.8h-1.8zM113.0 196.7h1.8v1.8h-1.8zM125.0 196.4h1.8v1.8h-1.8zM133.4 197.0h1.8v1.8h-1.8zM138.6 196.2h1.8v1.8h-1.8zM140.9 196.6h1.8v1.8h-1.8zM141.4 196.7h1.8v1.8h-1.8zM142.4 196.8h1.8v1.8h-1.8zM146.7 196.7h1.8v1.8h-1.8zM147.9 196.4h1.8v1.8h-1.8zM152.0 196.2h1.8v1.8h-1.8zM154.2 196.5h1.8v1.8h-1.8zM157.4 196.1h1.8v1.8h-1.8zM160.1 196.3h1.8v1.8h-1.8zM161.8 196.4h1.8v1.8h-1.8zM98.5 198.0h1.8v1.8h-1.8zM107.0 197.7h1.8v1.8h-1.8zM110.3 198.1h1.8v1.8h-1.8zM136.6 197.8h1.8v1.8h-1.8zM137.3 197.9h1.8v1.8h-1.8zM139.7 197.5h1.8v1.8h-1.8zM143.4 197.3h1.8v1.8h-1.8zM145.6 197.8h1.8v1.8h-1.8zM147.1 197.7h1.8v1.8h-1.8zM152.6 197.6h1.8v1.8h-1.8zM153.5 197.1h1.8v1.8h-1.8zM157.5 197.5h1.8v1.8h-1.8zM158.8 198.1h1.8v1.8h-1.8zM97.4 198.9h1.8v1.8h-1.8zM129.7 199.0h1.8v1.8h-1.8zM131.3 199.0h1.8v1.8h-1.8zM133.0 198.2h1.8v1.8h-1.8zM138.2 198.8h1.8v1.8h-1.8zM150.0 198.4h1.8v1.8h-1.8zM155.5 199.0h1.8v1.8h-1.8zM161.9 199.0h1.8v1.8h-1.8zM164.0 198.5h1.8v1.8h-1.8zM106.0 199.5h1.8v1.8h-1.8zM107.1 199.2h1.8v1.8h-1.8zM114.0 199.2h1.8v1.8h-1.8zM121.6 199.4h1.8v1.8h-1.8zM147.3 200.0h1.8v1.8h-1.8zM148.6 199.9h1.8v1.8h-1.8zM155.6 199.8h1.8v1.8h-1.8zM96.1 200.6h1.8v1.8h-1.8zM114.5 200.2h1.8v1.8h-1.8zM115.6 201.0h1.8v1.8h-1.8zM143.9 200.7h1.8v1.8h-1.8zM149.6 201.0h1.8v1.8h-1.8zM150.6 200.3h1.8v1.8h-1.8zM151.5 200.6h1.8v1.8h-1.8zM152.3 200.8h1.8v1.8h-1.8zM154.5 200.7h1.8v1.8h-1.8zM108.6 201.8h1.8v1.8h-1.8zM127.5 201.8h1.8v1.8h-1.8zM133.5 201.4h1.8v1.8h-1.8zM141.4 201.8h1.8v1.8h-1.8zM143.9 201.4h1.8v1.8h-1.8zM148.0 202.1h1.8v1.8h-1.8zM149.3 201.1h1.8v1.8h-1.8zM150.2 201.2h1.8v1.8h-1.8zM155.4 201.5h1.8v1.8h-1.8zM170.4 201.4h1.8v1.8h-1.8zM100.0 202.3h1.8v1.8h-1.8zM108.7 202.8h1.8v1.8h-1.8zM130.7 202.6h1.8v1.8h-1.8zM132.0 202.4h1.8v1.8h-1.8zM136.2 202.8h1.8v1.8h-1.8zM139.0 202.3h1.8v1.8h-1.8zM145.6 202.6h1.8v1.8h-1.8zM153.6 202.6h1.8v1.8h-1.8zM156.5 202.4h1.8v1.8h-1.8zM163.7 202.5h1.8v1.8h-1.8zM100.4 204.1h1.8v1.8h-1.8zM104.0 203.3h1.8v1.8h-1.8zM106.9 203.5h1.8v1.8h-1.8zM118.0 203.3h1.8v1.8h-1.8zM123.2 203.6h1.8v1.8h-1.8zM126.4 203.4h1.8v1.8h-1.8zM131.9 203.2h1.8v1.8h-1.8zM133.8 203.7h1.8v1.8h-1.8zM141.4 203.8h1.8v1.8h-1.8zM145.6 203.5h1.8v1.8h-1.8zM159.3 204.0h1.8v1.8h-1.8zM161.3 203.7h1.8v1.8h-1.8zM97.0 204.6h1.8v1.8h-1.8zM101.8 204.3h1.8v1.8h-1.8zM103.2 204.3h1.8v1.8h-1.8zM135.0 204.9h1.8v1.8h-1.8zM136.7 204.7h1.8v1.8h-1.8zM138.5 204.2h1.8v1.8h-1.8zM143.2 204.5h1.8v1.8h-1.8zM145.0 204.8h1.8v1.8h-1.8zM154.8 204.9h1.8v1.8h-1.8zM156.0 204.2h1.8v1.8h-1.8zM88.2 205.9h1.8v1.8h-1.8zM93.4 205.6h1.8v1.8h-1.8zM97.9 205.9h1.8v1.8h-1.8zM100.0 205.3h1.8v1.8h-1.8zM103.5 205.7h1.8v1.8h-1.8zM106.8 205.2h1.8v1.8h-1.8zM110.2 205.6h1.8v1.8h-1.8zM113.5 205.6h1.8v1.8h-1.8zM114.7 205.1h1.8v1.8h-1.8zM126.2 205.4h1.8v1.8h-1.8zM128.0 205.4h1.8v1.8h-1.8zM129.7 205.2h1.8v1.8h-1.8zM134.9 205.1h1.8v1.8h-1.8zM136.4 205.4h1.8v1.8h-1.8zM143.3 205.4h1.8v1.8h-1.8zM144.3 205.2h1.8v1.8h-1.8zM145.7 205.5h1.8v1.8h-1.8zM148.8 205.1h1.8v1.8h-1.8zM149.5 205.6h1.8v1.8h-1.8zM160.6 205.3h1.8v1.8h-1.8zM162.7 205.1h1.8v1.8h-1.8zM96.7 206.8h1.8v1.8h-1.8zM107.2 206.4h1.8v1.8h-1.8zM131.2 206.1h1.8v1.8h-1.8zM136.0 206.2h1.8v1.8h-1.8zM139.8 206.7h1.8v1.8h-1.8zM142.0 207.0h1.8v1.8h-1.8zM144.9 207.1h1.8v1.8h-1.8zM146.8 206.7h1.8v1.8h-1.8zM153.2 206.5h1.8v1.8h-1.8zM156.1 206.8h1.8v1.8h-1.8zM157.9 206.9h1.8v1.8h-1.8zM158.7 206.9h1.8v1.8h-1.8zM160.5 206.4h1.8v1.8h-1.8zM102.3 207.4h1.8v1.8h-1.8zM103.1 207.2h1.8v1.8h-1.8zM104.6 207.2h1.8v1.8h-1.8zM116.4 207.4h1.8v1.8h-1.8zM123.3 207.2h1.8v1.8h-1.8zM130.9 207.5h1.8v1.8h-1.8zM139.2 207.7h1.8v1.8h-1.8zM156.6 207.2h1.8v1.8h-1.8zM159.0 207.2h1.8v1.8h-1.8zM166.7 207.7h1.8v1.8h-1.8zM171.9 208.0h1.8v1.8h-1.8zM174.6 207.7h1.8v1.8h-1.8zM95.6 208.4h1.8v1.8h-1.8zM100.1 208.2h1.8v1.8h-1.8zM104.5 208.1h1.8v1.8h-1.8zM107.9 209.0h1.8v1.8h-1.8zM111.1 208.1h1.8v1.8h-1.8zM129.1 209.1h1.8v1.8h-1.8zM134.6 208.3h1.8v1.8h-1.8zM142.0 208.2h1.8v1.8h-1.8zM144.9 208.2h1.8v1.8h-1.8zM145.6 208.7h1.8v1.8h-1.8zM148.0 208.7h1.8v1.8h-1.8zM148.2 208.5h1.8v1.8h-1.8zM150.1 209.0h1.8v1.8h-1.8zM150.5 208.6h1.8v1.8h-1.8zM153.0 208.9h1.8v1.8h-1.8zM154.9 208.3h1.8v1.8h-1.8zM161.8 208.2h1.8v1.8h-1.8zM162.7 208.7h1.8v1.8h-1.8zM169.9 209.1h1.8v1.8h-1.8zM100.9 209.1h1.8v1.8h-1.8zM104.4 209.8h1.8v1.8h-1.8zM123.6 210.1h1.8v1.8h-1.8zM125.8 210.0h1.8v1.8h-1.8zM131.8 209.9h1.8v1.8h-1.8zM132.6 209.8h1.8v1.8h-1.8zM134.8 209.6h1.8v1.8h-1.8zM142.2 210.1h1.8v1.8h-1.8zM143.6 209.2h1.8v1.8h-1.8zM144.6 209.3h1.8v1.8h-1.8zM146.0 210.0h1.8v1.8h-1.8zM147.0 209.5h1.8v1.8h-1.8zM152.2 209.8h1.8v1.8h-1.8zM154.8 209.6h1.8v1.8h-1.8zM156.6 209.2h1.8v1.8h-1.8zM161.1 209.6h1.8v1.8h-1.8zM161.9 209.4h1.8v1.8h-1.8zM165.0 210.1h1.8v1.8h-1.8zM171.7 209.7h1.8v1.8h-1.8zM96.7 210.8h1.8v1.8h-1.8zM101.3 210.4h1.8v1.8h-1.8zM104.5 210.4h1.8v1.8h-1.8zM105.8 210.2h1.8v1.8h-1.8zM106.4 210.6h1.8v1.8h-1.8zM108.5 211.0h1.8v1.8h-1.8zM123.0 210.9h1.8v1.8h-1.8zM127.3 210.7h1.8v1.8h-1.8zM128.7 210.8h1.8v1.8h-1.8zM132.9 210.5h1.8v1.8h-1.8zM133.9 210.3h1.8v1.8h-1.8zM136.1 211.1h1.8v1.8h-1.8zM139.1 210.6h1.8v1.8h-1.8zM139.9 210.7h1.8v1.8h-1.8zM144.6 210.9h1.8v1.8h-1.8zM146.6 210.2h1.8v1.8h-1.8zM148.9 210.8h1.8v1.8h-1.8zM152.2 211.1h1.8v1.8h-1.8zM154.9 210.6h1.8v1.8h-1.8zM155.6 210.7h1.8v1.8h-1.8zM156.5 210.7h1.8v1.8h-1.8zM159.0 210.6h1.8v1.8h-1.8zM163.5 210.5h1.8v1.8h-1.8zM166.8 210.8h1.8v1.8h-1.8zM169.5 210.8h1.8v1.8h-1.8zM101.8 211.9h1.8v1.8h-1.8zM108.2 211.8h1.8v1.8h-1.8zM111.3 212.1h1.8v1.8h-1.8zM123.2 211.7h1.8v1.8h-1.8zM126.9 211.9h1.8v1.8h-1.8zM127.7 211.6h1.8v1.8h-1.8zM131.7 211.5h1.8v1.8h-1.8zM135.3 211.9h1.8v1.8h-1.8zM136.7 211.3h1.8v1.8h-1.8zM140.8 212.0h1.8v1.8h-1.8zM142.9 212.0h1.8v1.8h-1.8zM143.2 211.9h1.8v1.8h-1.8zM144.5 211.6h1.8v1.8h-1.8zM146.6 211.2h1.8v1.8h-1.8zM149.4 211.9h1.8v1.8h-1.8zM152.8 211.7h1.8v1.8h-1.8zM153.7 211.8h1.8v1.8h-1.8zM155.2 211.7h1.8v1.8h-1.8zM156.9 211.6h1.8v1.8h-1.8zM96.4 212.9h1.8v1.8h-1.8zM99.4 212.5h1.8v1.8h-1.8zM101.0 212.7h1.8v1.8h-1.8zM105.4 213.0h1.8v1.8h-1.8zM108.2 212.9h1.8v1.8h-1.8zM110.7 213.0h1.8v1.8h-1.8zM114.1 213.0h1.8v1.8h-1.8zM114.8 212.5h1.8v1.8h-1.8zM129.6 212.9h1.8v1.8h-1.8zM130.3 212.2h1.8v1.8h-1.8zM131.8 212.7h1.8v1.8h-1.8zM133.3 212.7h1.8v1.8h-1.8zM137.7 212.4h1.8v1.8h-1.8zM138.6 212.3h1.8v1.8h-1.8zM139.5 212.8h1.8v1.8h-1.8zM140.2 212.1h1.8v1.8h-1.8zM145.2 212.6h1.8v1.8h-1.8zM146.2 212.7h1.8v1.8h-1.8zM148.9 213.0h1.8v1.8h-1.8zM149.6 212.5h1.8v1.8h-1.8zM151.8 213.1h1.8v1.8h-1.8zM154.4 212.1h1.8v1.8h-1.8zM160.1 212.1h1.8v1.8h-1.8zM164.0 212.7h1.8v1.8h-1.8zM170.9 212.2h1.8v1.8h-1.8zM93.0 214.1h1.8v1.8h-1.8zM99.5 213.7h1.8v1.8h-1.8zM103.7 213.9h1.8v1.8h-1.8zM106.2 213.3h1.8v1.8h-1.8zM113.2 214.0h1.8v1.8h-1.8zM115.1 213.6h1.8v1.8h-1.8zM117.7 213.9h1.8v1.8h-1.8zM123.4 214.1h1.8v1.8h-1.8zM131.2 213.3h1.8v1.8h-1.8zM136.0 213.5h1.8v1.8h-1.8zM136.8 213.4h1.8v1.8h-1.8zM138.9 214.0h1.8v1.8h-1.8zM140.9 214.0h1.8v1.8h-1.8zM142.0 213.6h1.8v1.8h-1.8zM142.1 213.7h1.8v1.8h-1.8zM144.2 213.5h1.8v1.8h-1.8zM148.6 214.1h1.8v1.8h-1.8zM150.2 213.7h1.8v1.8h-1.8zM151.2 213.2h1.8v1.8h-1.8zM152.2 214.1h1.8v1.8h-1.8zM159.2 213.9h1.8v1.8h-1.8zM160.3 213.6h1.8v1.8h-1.8zM163.5 214.1h1.8v1.8h-1.8zM94.9 214.3h1.8v1.8h-1.8zM97.9 214.7h1.8v1.8h-1.8zM98.4 214.7h1.8v1.8h-1.8zM102.4 215.0h1.8v1.8h-1.8zM109.3 214.3h1.8v1.8h-1.8zM110.6 214.5h1.8v1.8h-1.8zM112.1 214.2h1.8v1.8h-1.8zM115.7 215.1h1.8v1.8h-1.8zM118.7 214.4h1.8v1.8h-1.8zM125.9 214.5h1.8v1.8h-1.8zM127.6 215.0h1.8v1.8h-1.8zM129.7 214.6h1.8v1.8h-1.8zM132.9 214.5h1.8v1.8h-1.8zM137.8 214.6h1.8v1.8h-1.8zM139.0 214.6h1.8v1.8h-1.8zM140.6 214.5h1.8v1.8h-1.8zM141.8 214.3h1.8v1.8h-1.8zM143.4 215.0h1.8v1.8h-1.8zM147.3 214.1h1.8v1.8h-1.8zM153.8 214.2h1.8v1.8h-1.8zM155.9 214.3h1.8v1.8h-1.8zM157.0 214.7h1.8v1.8h-1.8zM157.8 214.4h1.8v1.8h-1.8zM159.0 215.1h1.8v1.8h-1.8zM163.0 214.9h1.8v1.8h-1.8zM168.6 214.5h1.8v1.8h-1.8zM95.5 215.5h1.8v1.8h-1.8zM105.6 215.5h1.8v1.8h-1.8zM106.8 215.8h1.8v1.8h-1.8zM108.6 215.5h1.8v1.8h-1.8zM110.7 215.4h1.8v1.8h-1.8zM112.0 215.9h1.8v1.8h-1.8zM112.3 215.6h1.8v1.8h-1.8zM127.5 215.8h1.8v1.8h-1.8zM129.2 216.0h1.8v1.8h-1.8zM131.7 216.1h1.8v1.8h-1.8zM133.6 215.6h1.8v1.8h-1.8zM136.6 215.9h1.8v1.8h-1.8zM138.8 215.7h1.8v1.8h-1.8zM139.3 215.3h1.8v1.8h-1.8zM142.8 215.3h1.8v1.8h-1.8zM145.4 215.9h1.8v1.8h-1.8zM147.6 215.3h1.8v1.8h-1.8zM152.7 215.4h1.8v1.8h-1.8zM153.1 215.6h1.8v1.8h-1.8zM154.3 215.9h1.8v1.8h-1.8zM160.0 215.3h1.8v1.8h-1.8zM160.7 215.4h1.8v1.8h-1.8zM167.9 216.1h1.8v1.8h-1.8zM169.2 215.9h1.8v1.8h-1.8zM90.7 216.6h1.8v1.8h-1.8zM99.7 216.2h1.8v1.8h-1.8zM110.6 216.9h1.8v1.8h-1.8zM114.3 216.5h1.8v1.8h-1.8zM122.2 216.7h1.8v1.8h-1.8zM127.4 216.1h1.8v1.8h-1.8zM130.1 216.9h1.8v1.8h-1.8zM131.9 216.1h1.8v1.8h-1.8zM133.1 216.6h1.8v1.8h-1.8zM134.0 216.5h1.8v1.8h-1.8zM136.0 217.1h1.8v1.8h-1.8zM137.4 216.8h1.8v1.8h-1.8zM141.4 216.6h1.8v1.8h-1.8zM143.7 216.6h1.8v1.8h-1.8zM144.1 216.6h1.8v1.8h-1.8zM145.9 216.2h1.8v1.8h-1.8zM146.5 216.2h1.8v1.8h-1.8zM147.7 216.5h1.8v1.8h-1.8zM149.3 216.3h1.8v1.8h-1.8zM152.0 216.1h1.8v1.8h-1.8zM153.3 216.9h1.8v1.8h-1.8zM155.0 216.6h1.8v1.8h-1.8zM155.3 216.6h1.8v1.8h-1.8zM156.2 217.1h1.8v1.8h-1.8zM157.7 216.2h1.8v1.8h-1.8zM166.0 216.6h1.8v1.8h-1.8zM106.1 217.6h1.8v1.8h-1.8zM123.0 217.4h1.8v1.8h-1.8zM130.5 217.7h1.8v1.8h-1.8zM132.1 217.5h1.8v1.8h-1.8zM135.2 217.2h1.8v1.8h-1.8zM136.9 217.8h1.8v1.8h-1.8zM140.1 217.9h1.8v1.8h-1.8zM142.0 218.0h1.8v1.8h-1.8zM142.5 217.7h1.8v1.8h-1.8zM143.4 217.9h1.8v1.8h-1.8zM146.6 217.7h1.8v1.8h-1.8zM147.8 217.7h1.8v1.8h-1.8zM148.8 218.0h1.8v1.8h-1.8zM149.1 217.4h1.8v1.8h-1.8zM151.5 217.7h1.8v1.8h-1.8zM155.0 217.5h1.8v1.8h-1.8zM155.1 217.3h1.8v1.8h-1.8zM156.2 217.6h1.8v1.8h-1.8zM160.1 218.1h1.8v1.8h-1.8zM160.3 217.3h1.8v1.8h-1.8zM165.9 217.7h1.8v1.8h-1.8zM90.6 218.2h1.8v1.8h-1.8zM91.9 218.9h1.8v1.8h-1.8zM94.7 218.7h1.8v1.8h-1.8zM101.6 218.4h1.8v1.8h-1.8zM108.8 219.1h1.8v1.8h-1.8zM110.8 219.0h1.8v1.8h-1.8zM114.1 218.9h1.8v1.8h-1.8zM120.6 218.2h1.8v1.8h-1.8zM127.7 218.3h1.8v1.8h-1.8zM128.7 218.2h1.8v1.8h-1.8zM132.7 218.2h1.8v1.8h-1.8zM134.2 218.1h1.8v1.8h-1.8zM136.5 218.7h1.8v1.8h-1.8zM137.2 218.6h1.8v1.8h-1.8zM139.0 218.9h1.8v1.8h-1.8zM141.0 218.9h1.8v1.8h-1.8zM141.4 219.0h1.8v1.8h-1.8zM142.3 218.8h1.8v1.8h-1.8zM143.4 218.3h1.8v1.8h-1.8zM146.2 218.6h1.8v1.8h-1.8zM148.0 218.9h1.8v1.8h-1.8zM148.9 218.9h1.8v1.8h-1.8zM149.4 219.0h1.8v1.8h-1.8zM151.0 218.2h1.8v1.8h-1.8zM152.1 218.1h1.8v1.8h-1.8zM156.2 218.4h1.8v1.8h-1.8zM157.3 218.4h1.8v1.8h-1.8zM164.4 218.4h1.8v1.8h-1.8zM165.2 218.6h1.8v1.8h-1.8zM174.6 218.9h1.8v1.8h-1.8zM90.7 219.6h1.8v1.8h-1.8zM109.3 220.0h1.8v1.8h-1.8zM110.3 219.5h1.8v1.8h-1.8zM124.1 219.4h1.8v1.8h-1.8zM127.1 219.5h1.8v1.8h-1.8zM128.2 219.7h1.8v1.8h-1.8zM129.8 219.4h1.8v1.8h-1.8zM130.9 219.7h1.8v1.8h-1.8zM131.7 219.7h1.8v1.8h-1.8zM132.3 219.9h1.8v1.8h-1.8zM134.1 219.9h1.8v1.8h-1.8zM137.5 220.0h1.8v1.8h-1.8zM140.7 219.4h1.8v1.8h-1.8zM141.6 219.2h1.8v1.8h-1.8zM143.3 219.1h1.8v1.8h-1.8zM148.1 219.4h1.8v1.8h-1.8zM148.4 220.0h1.8v1.8h-1.8zM149.7 219.9h1.8v1.8h-1.8zM150.3 219.3h1.8v1.8h-1.8zM153.4 219.8h1.8v1.8h-1.8zM156.4 220.0h1.8v1.8h-1.8zM159.0 220.0h1.8v1.8h-1.8zM160.3 219.4h1.8v1.8h-1.8zM162.0 219.5h1.8v1.8h-1.8zM162.4 219.7h1.8v1.8h-1.8zM165.2 219.9h1.8v1.8h-1.8zM168.4 219.7h1.8v1.8h-1.8zM98.9 220.9h1.8v1.8h-1.8zM100.9 220.9h1.8v1.8h-1.8zM103.1 220.4h1.8v1.8h-1.8zM105.1 220.2h1.8v1.8h-1.8zM106.7 221.1h1.8v1.8h-1.8zM108.9 220.8h1.8v1.8h-1.8zM109.9 221.0h1.8v1.8h-1.8zM112.4 220.2h1.8v1.8h-1.8zM130.0 220.5h1.8v1.8h-1.8zM132.3 221.0h1.8v1.8h-1.8zM134.3 220.2h1.8v1.8h-1.8zM136.9 220.2h1.8v1.8h-1.8zM140.7 220.3h1.8v1.8h-1.8zM142.8 220.6h1.8v1.8h-1.8zM143.2 220.7h1.8v1.8h-1.8zM144.5 220.4h1.8v1.8h-1.8zM146.5 221.1h1.8v1.8h-1.8zM147.2 220.9h1.8v1.8h-1.8zM148.9 221.1h1.8v1.8h-1.8zM149.2 221.1h1.8v1.8h-1.8zM150.3 221.0h1.8v1.8h-1.8zM153.1 220.5h1.8v1.8h-1.8zM153.4 220.9h1.8v1.8h-1.8zM156.4 220.9h1.8v1.8h-1.8zM160.5 221.1h1.8v1.8h-1.8zM168.7 220.2h1.8v1.8h-1.8zM169.1 220.2h1.8v1.8h-1.8zM86.1 222.1h1.8v1.8h-1.8zM87.7 221.8h1.8v1.8h-1.8zM92.6 221.9h1.8v1.8h-1.8zM103.6 221.6h1.8v1.8h-1.8zM107.9 222.0h1.8v1.8h-1.8zM109.9 221.8h1.8v1.8h-1.8zM110.7 221.6h1.8v1.8h-1.8zM116.8 222.1h1.8v1.8h-1.8zM121.6 221.4h1.8v1.8h-1.8zM124.8 222.0h1.8v1.8h-1.8zM125.2 221.3h1.8v1.8h-1.8zM131.0 221.7h1.8v1.8h-1.8zM133.7 221.2h1.8v1.8h-1.8zM134.1 221.5h1.8v1.8h-1.8zM136.8 222.0h1.8v1.8h-1.8zM138.5 221.1h1.8v1.8h-1.8zM139.2 221.4h1.8v1.8h-1.8zM140.5 221.3h1.8v1.8h-1.8zM141.3 221.8h1.8v1.8h-1.8zM142.5 221.6h1.8v1.8h-1.8zM143.9 222.1h1.8v1.8h-1.8zM146.7 221.6h1.8v1.8h-1.8zM147.9 221.5h1.8v1.8h-1.8zM150.9 221.6h1.8v1.8h-1.8zM151.4 221.3h1.8v1.8h-1.8zM154.0 221.7h1.8v1.8h-1.8zM155.8 221.6h1.8v1.8h-1.8zM156.8 221.9h1.8v1.8h-1.8zM158.7 221.3h1.8v1.8h-1.8zM159.9 221.4h1.8v1.8h-1.8zM160.7 221.7h1.8v1.8h-1.8zM163.7 221.9h1.8v1.8h-1.8zM166.4 221.4h1.8v1.8h-1.8zM167.1 222.0h1.8v1.8h-1.8zM82.9 222.5h1.8v1.8h-1.8zM94.9 222.6h1.8v1.8h-1.8zM96.0 223.0h1.8v1.8h-1.8zM103.7 223.1h1.8v1.8h-1.8zM105.5 222.9h1.8v1.8h-1.8zM107.7 222.1h1.8v1.8h-1.8zM111.7 222.9h1.8v1.8h-1.8zM125.1 222.4h1.8v1.8h-1.8zM128.7 223.0h1.8v1.8h-1.8zM131.0 222.4h1.8v1.8h-1.8zM131.8 223.0h1.8v1.8h-1.8zM133.4 222.6h1.8v1.8h-1.8zM137.2 222.1h1.8v1.8h-1.8zM138.5 222.6h1.8v1.8h-1.8zM139.3 222.9h1.8v1.8h-1.8zM142.0 223.0h1.8v1.8h-1.8zM142.2 222.9h1.8v1.8h-1.8zM144.0 222.5h1.8v1.8h-1.8zM145.6 222.9h1.8v1.8h-1.8zM146.9 222.9h1.8v1.8h-1.8zM147.7 222.9h1.8v1.8h-1.8zM150.0 222.9h1.8v1.8h-1.8zM152.1 222.7h1.8v1.8h-1.8zM157.4 222.6h1.8v1.8h-1.8zM158.7 222.7h1.8v1.8h-1.8zM163.0 222.6h1.8v1.8h-1.8zM165.7 223.0h1.8v1.8h-1.8zM173.2 222.7h1.8v1.8h-1.8zM87.3 223.7h1.8v1.8h-1.8zM91.2 223.2h1.8v1.8h-1.8zM95.1 223.8h1.8v1.8h-1.8zM95.7 224.1h1.8v1.8h-1.8zM100.3 223.7h1.8v1.8h-1.8zM104.8 223.9h1.8v1.8h-1.8zM111.5 223.4h1.8v1.8h-1.8zM114.5 223.3h1.8v1.8h-1.8zM115.6 223.4h1.8v1.8h-1.8zM126.4 223.4h1.8v1.8h-1.8zM127.8 223.8h1.8v1.8h-1.8zM130.0 223.8h1.8v1.8h-1.8zM130.4 223.6h1.8v1.8h-1.8zM133.1 223.5h1.8v1.8h-1.8zM135.3 223.4h1.8v1.8h-1.8zM136.2 223.3h1.8v1.8h-1.8zM142.9 223.9h1.8v1.8h-1.8zM144.6 223.4h1.8v1.8h-1.8zM145.8 223.9h1.8v1.8h-1.8zM148.0 223.6h1.8v1.8h-1.8zM149.6 223.2h1.8v1.8h-1.8zM150.8 224.0h1.8v1.8h-1.8zM152.1 223.2h1.8v1.8h-1.8zM152.2 223.4h1.8v1.8h-1.8zM154.0 223.5h1.8v1.8h-1.8zM154.2 223.5h1.8v1.8h-1.8zM155.7 223.8h1.8v1.8h-1.8zM156.1 224.0h1.8v1.8h-1.8zM158.3 224.0h1.8v1.8h-1.8zM160.3 223.5h1.8v1.8h-1.8zM161.1 223.9h1.8v1.8h-1.8zM162.2 223.7h1.8v1.8h-1.8zM169.0 223.6h1.8v1.8h-1.8zM173.8 223.1h1.8v1.8h-1.8zM101.4 224.6h1.8v1.8h-1.8zM102.5 224.9h1.8v1.8h-1.8zM104.9 224.5h1.8v1.8h-1.8zM107.7 224.1h1.8v1.8h-1.8zM109.5 224.3h1.8v1.8h-1.8zM111.5 224.8h1.8v1.8h-1.8zM120.4 224.6h1.8v1.8h-1.8zM123.1 224.7h1.8v1.8h-1.8zM129.8 224.3h1.8v1.8h-1.8zM130.7 224.9h1.8v1.8h-1.8zM131.7 224.9h1.8v1.8h-1.8zM133.3 225.0h1.8v1.8h-1.8zM134.4 224.2h1.8v1.8h-1.8zM137.6 224.4h1.8v1.8h-1.8zM138.8 224.7h1.8v1.8h-1.8zM139.8 224.4h1.8v1.8h-1.8zM140.6 224.9h1.8v1.8h-1.8zM141.7 224.2h1.8v1.8h-1.8zM142.7 225.0h1.8v1.8h-1.8zM143.7 224.7h1.8v1.8h-1.8zM144.2 224.9h1.8v1.8h-1.8zM146.6 224.7h1.8v1.8h-1.8zM148.9 224.4h1.8v1.8h-1.8zM149.6 224.9h1.8v1.8h-1.8zM151.1 225.0h1.8v1.8h-1.8zM151.5 224.1h1.8v1.8h-1.8zM153.4 225.0h1.8v1.8h-1.8zM157.8 224.6h1.8v1.8h-1.8zM158.8 224.8h1.8v1.8h-1.8zM162.7 224.5h1.8v1.8h-1.8zM167.5 224.2h1.8v1.8h-1.8zM97.1 225.6h1.8v1.8h-1.8zM100.6 226.0h1.8v1.8h-1.8zM109.6 225.2h1.8v1.8h-1.8zM111.7 225.6h1.8v1.8h-1.8zM123.2 225.4h1.8v1.8h-1.8zM127.6 225.5h1.8v1.8h-1.8zM129.8 226.0h1.8v1.8h-1.8zM130.3 226.0h1.8v1.8h-1.8zM132.0 225.4h1.8v1.8h-1.8zM134.0 225.6h1.8v1.8h-1.8zM135.7 225.9h1.8v1.8h-1.8zM136.2 226.0h1.8v1.8h-1.8zM140.0 225.6h1.8v1.8h-1.8zM140.1 225.4h1.8v1.8h-1.8zM141.9 225.4h1.8v1.8h-1.8zM142.9 225.2h1.8v1.8h-1.8zM145.2 225.1h1.8v1.8h-1.8zM147.8 225.7h1.8v1.8h-1.8zM149.0 225.7h1.8v1.8h-1.8zM149.2 226.0h1.8v1.8h-1.8zM150.8 226.1h1.8v1.8h-1.8zM151.7 225.2h1.8v1.8h-1.8zM152.4 225.3h1.8v1.8h-1.8zM153.3 225.3h1.8v1.8h-1.8zM154.2 225.4h1.8v1.8h-1.8zM157.7 225.2h1.8v1.8h-1.8zM159.3 225.7h1.8v1.8h-1.8zM160.2 225.6h1.8v1.8h-1.8zM162.0 225.6h1.8v1.8h-1.8zM163.5 225.7h1.8v1.8h-1.8zM169.0 225.5h1.8v1.8h-1.8zM170.0 225.5h1.8v1.8h-1.8zM96.5 226.7h1.8v1.8h-1.8zM102.7 226.9h1.8v1.8h-1.8zM105.0 226.3h1.8v1.8h-1.8zM109.0 227.0h1.8v1.8h-1.8zM110.6 226.1h1.8v1.8h-1.8zM114.0 226.4h1.8v1.8h-1.8zM114.7 227.1h1.8v1.8h-1.8zM116.6 226.9h1.8v1.8h-1.8zM124.3 227.0h1.8v1.8h-1.8zM127.2 226.5h1.8v1.8h-1.8zM135.6 226.9h1.8v1.8h-1.8zM136.3 227.0h1.8v1.8h-1.8zM137.1 226.2h1.8v1.8h-1.8zM138.4 226.8h1.8v1.8h-1.8zM139.9 226.2h1.8v1.8h-1.8zM140.4 226.4h1.8v1.8h-1.8zM141.2 226.2h1.8v1.8h-1.8zM142.8 226.6h1.8v1.8h-1.8zM147.0 226.6h1.8v1.8h-1.8zM148.4 226.6h1.8v1.8h-1.8zM149.2 226.7h1.8v1.8h-1.8zM150.6 226.6h1.8v1.8h-1.8zM152.2 226.7h1.8v1.8h-1.8zM153.2 226.1h1.8v1.8h-1.8zM154.2 226.2h1.8v1.8h-1.8zM155.4 226.9h1.8v1.8h-1.8zM156.1 226.7h1.8v1.8h-1.8zM157.3 226.7h1.8v1.8h-1.8zM158.9 226.6h1.8v1.8h-1.8zM162.7 227.0h1.8v1.8h-1.8zM166.0 226.5h1.8v1.8h-1.8zM168.6 226.5h1.8v1.8h-1.8zM98.6 227.2h1.8v1.8h-1.8zM100.6 227.3h1.8v1.8h-1.8zM101.4 227.2h1.8v1.8h-1.8zM102.6 227.7h1.8v1.8h-1.8zM105.5 227.9h1.8v1.8h-1.8zM107.2 227.9h1.8v1.8h-1.8zM110.8 227.6h1.8v1.8h-1.8zM116.1 227.7h1.8v1.8h-1.8zM116.9 227.7h1.8v1.8h-1.8zM117.3 227.8h1.8v1.8h-1.8zM119.0 227.9h1.8v1.8h-1.8zM121.1 227.3h1.8v1.8h-1.8zM122.4 227.7h1.8v1.8h-1.8zM129.6 227.6h1.8v1.8h-1.8zM132.5 227.1h1.8v1.8h-1.8zM133.4 227.8h1.8v1.8h-1.8zM134.8 228.0h1.8v1.8h-1.8zM136.0 227.9h1.8v1.8h-1.8zM136.4 227.8h1.8v1.8h-1.8zM138.8 227.6h1.8v1.8h-1.8zM139.7 227.3h1.8v1.8h-1.8zM140.6 227.9h1.8v1.8h-1.8zM141.9 227.4h1.8v1.8h-1.8zM142.2 227.4h1.8v1.8h-1.8zM143.2 227.5h1.8v1.8h-1.8zM145.7 227.3h1.8v1.8h-1.8zM148.1 227.4h1.8v1.8h-1.8zM148.5 227.6h1.8v1.8h-1.8zM150.5 227.4h1.8v1.8h-1.8zM153.0 227.7h1.8v1.8h-1.8zM153.7 227.2h1.8v1.8h-1.8zM154.2 227.5h1.8v1.8h-1.8zM155.9 227.4h1.8v1.8h-1.8zM157.7 227.3h1.8v1.8h-1.8zM158.6 227.1h1.8v1.8h-1.8zM163.0 227.5h1.8v1.8h-1.8zM165.7 228.1h1.8v1.8h-1.8zM167.6 228.1h1.8v1.8h-1.8zM171.4 228.0h1.8v1.8h-1.8zM85.8 228.7h1.8v1.8h-1.8zM89.6 228.8h1.8v1.8h-1.8zM107.3 228.5h1.8v1.8h-1.8zM112.0 228.2h1.8v1.8h-1.8zM112.1 228.4h1.8v1.8h-1.8zM113.5 228.2h1.8v1.8h-1.8zM115.8 228.5h1.8v1.8h-1.8zM119.0 228.4h1.8v1.8h-1.8zM124.3 228.1h1.8v1.8h-1.8zM127.3 228.8h1.8v1.8h-1.8zM128.6 228.5h1.8v1.8h-1.8zM129.8 228.9h1.8v1.8h-1.8zM130.4 228.3h1.8v1.8h-1.8zM131.7 228.3h1.8v1.8h-1.8zM132.7 228.5h1.8v1.8h-1.8zM133.8 228.8h1.8v1.8h-1.8zM134.8 228.7h1.8v1.8h-1.8zM135.2 228.8h1.8v1.8h-1.8zM136.9 228.5h1.8v1.8h-1.8zM137.6 228.2h1.8v1.8h-1.8zM138.3 228.7h1.8v1.8h-1.8zM139.3 228.2h1.8v1.8h-1.8zM140.7 228.5h1.8v1.8h-1.8zM142.0 228.7h1.8v1.8h-1.8zM142.8 229.0h1.8v1.8h-1.8zM143.8 228.2h1.8v1.8h-1.8zM145.4 228.5h1.8v1.8h-1.8zM147.0 228.8h1.8v1.8h-1.8zM148.1 228.3h1.8v1.8h-1.8zM148.8 229.0h1.8v1.8h-1.8zM149.5 228.5h1.8v1.8h-1.8zM150.8 228.7h1.8v1.8h-1.8zM151.4 228.9h1.8v1.8h-1.8zM152.4 228.7h1.8v1.8h-1.8zM155.9 228.3h1.8v1.8h-1.8zM157.1 228.2h1.8v1.8h-1.8zM158.7 228.3h1.8v1.8h-1.8zM164.0 228.1h1.8v1.8h-1.8zM164.8 228.8h1.8v1.8h-1.8zM165.2 228.5h1.8v1.8h-1.8zM168.0 228.6h1.8v1.8h-1.8zM170.9 228.2h1.8v1.8h-1.8zM172.8 228.4h1.8v1.8h-1.8zM93.4 229.5h1.8v1.8h-1.8zM95.8 229.4h1.8v1.8h-1.8zM104.1 229.3h1.8v1.8h-1.8zM110.2 229.9h1.8v1.8h-1.8zM112.2 230.1h1.8v1.8h-1.8zM113.7 229.6h1.8v1.8h-1.8zM114.7 229.4h1.8v1.8h-1.8zM125.9 229.8h1.8v1.8h-1.8zM126.6 229.6h1.8v1.8h-1.8zM131.3 229.4h1.8v1.8h-1.8zM132.2 229.3h1.8v1.8h-1.8zM134.6 229.6h1.8v1.8h-1.8zM136.1 229.8h1.8v1.8h-1.8zM136.9 230.1h1.8v1.8h-1.8zM138.5 230.0h1.8v1.8h-1.8zM139.7 230.0h1.8v1.8h-1.8zM140.7 229.9h1.8v1.8h-1.8zM141.3 229.3h1.8v1.8h-1.8zM143.9 229.5h1.8v1.8h-1.8zM144.3 229.9h1.8v1.8h-1.8zM145.4 230.0h1.8v1.8h-1.8zM146.4 229.4h1.8v1.8h-1.8zM147.7 229.5h1.8v1.8h-1.8zM149.4 230.1h1.8v1.8h-1.8zM150.9 229.7h1.8v1.8h-1.8zM152.0 230.0h1.8v1.8h-1.8zM153.5 229.2h1.8v1.8h-1.8zM155.1 229.1h1.8v1.8h-1.8zM156.3 230.0h1.8v1.8h-1.8zM161.8 229.8h1.8v1.8h-1.8zM164.3 230.1h1.8v1.8h-1.8zM168.1 229.4h1.8v1.8h-1.8zM172.9 229.6h1.8v1.8h-1.8zM99.9 230.3h1.8v1.8h-1.8zM106.8 230.1h1.8v1.8h-1.8zM107.6 230.5h1.8v1.8h-1.8zM108.2 230.6h1.8v1.8h-1.8zM111.1 230.2h1.8v1.8h-1.8zM126.4 230.6h1.8v1.8h-1.8zM128.2 230.6h1.8v1.8h-1.8zM129.4 230.9h1.8v1.8h-1.8zM131.5 230.2h1.8v1.8h-1.8zM133.4 231.0h1.8v1.8h-1.8zM135.4 230.9h1.8v1.8h-1.8zM138.0 230.5h1.8v1.8h-1.8zM138.8 230.4h1.8v1.8h-1.8zM140.1 230.3h1.8v1.8h-1.8zM141.3 230.6h1.8v1.8h-1.8zM142.3 231.1h1.8v1.8h-1.8zM143.2 230.5h1.8v1.8h-1.8zM145.5 230.7h1.8v1.8h-1.8zM148.1 231.1h1.8v1.8h-1.8zM149.2 231.1h1.8v1.8h-1.8zM150.9 230.6h1.8v1.8h-1.8zM152.0 230.1h1.8v1.8h-1.8zM152.6 230.7h1.8v1.8h-1.8zM153.5 230.5h1.8v1.8h-1.8zM154.9 230.3h1.8v1.8h-1.8zM156.0 231.0h1.8v1.8h-1.8zM159.5 230.6h1.8v1.8h-1.8zM162.0 231.0h1.8v1.8h-1.8zM163.9 230.1h1.8v1.8h-1.8zM166.8 230.7h1.8v1.8h-1.8zM169.9 230.4h1.8v1.8h-1.8zM98.1 232.0h1.8v1.8h-1.8zM105.4 231.8h1.8v1.8h-1.8zM107.6 231.1h1.8v1.8h-1.8zM110.2 231.8h1.8v1.8h-1.8zM115.8 232.1h1.8v1.8h-1.8zM123.3 232.1h1.8v1.8h-1.8zM125.3 231.1h1.8v1.8h-1.8zM133.4 232.0h1.8v1.8h-1.8zM134.9 231.5h1.8v1.8h-1.8zM135.3 231.9h1.8v1.8h-1.8zM137.1 231.7h1.8v1.8h-1.8zM140.0 231.5h1.8v1.8h-1.8zM140.8 231.6h1.8v1.8h-1.8zM141.2 231.6h1.8v1.8h-1.8zM143.1 231.4h1.8v1.8h-1.8zM143.7 231.2h1.8v1.8h-1.8zM144.1 231.3h1.8v1.8h-1.8zM146.3 231.5h1.8v1.8h-1.8zM147.2 231.7h1.8v1.8h-1.8zM148.1 232.1h1.8v1.8h-1.8zM150.9 231.6h1.8v1.8h-1.8zM152.3 232.0h1.8v1.8h-1.8zM153.6 231.6h1.8v1.8h-1.8zM158.3 231.9h1.8v1.8h-1.8zM159.8 232.0h1.8v1.8h-1.8zM160.6 231.3h1.8v1.8h-1.8zM163.5 231.3h1.8v1.8h-1.8zM167.6 231.2h1.8v1.8h-1.8zM175.1 231.1h1.8v1.8h-1.8zM177.1 232.0h1.8v1.8h-1.8zM98.4 232.6h1.8v1.8h-1.8zM99.8 232.8h1.8v1.8h-1.8zM100.5 232.1h1.8v1.8h-1.8zM109.1 232.6h1.8v1.8h-1.8zM111.7 232.2h1.8v1.8h-1.8zM125.1 232.4h1.8v1.8h-1.8zM126.1 232.6h1.8v1.8h-1.8zM127.4 232.9h1.8v1.8h-1.8zM129.8 232.2h1.8v1.8h-1.8zM130.3 233.0h1.8v1.8h-1.8zM133.7 232.3h1.8v1.8h-1.8zM134.7 232.4h1.8v1.8h-1.8zM135.6 232.9h1.8v1.8h-1.8zM138.6 232.9h1.8v1.8h-1.8zM139.6 232.9h1.8v1.8h-1.8zM140.6 232.4h1.8v1.8h-1.8zM141.5 232.8h1.8v1.8h-1.8zM142.8 233.1h1.8v1.8h-1.8zM143.6 232.5h1.8v1.8h-1.8zM144.8 232.7h1.8v1.8h-1.8zM145.6 232.2h1.8v1.8h-1.8zM147.0 232.3h1.8v1.8h-1.8zM147.5 232.1h1.8v1.8h-1.8zM148.5 232.8h1.8v1.8h-1.8zM150.5 233.0h1.8v1.8h-1.8zM151.9 232.2h1.8v1.8h-1.8zM153.0 232.8h1.8v1.8h-1.8zM153.7 233.0h1.8v1.8h-1.8zM155.4 232.5h1.8v1.8h-1.8zM156.9 232.8h1.8v1.8h-1.8zM158.4 232.6h1.8v1.8h-1.8zM159.4 232.8h1.8v1.8h-1.8zM161.3 232.9h1.8v1.8h-1.8zM166.8 232.7h1.8v1.8h-1.8zM95.8 233.9h1.8v1.8h-1.8zM97.4 233.5h1.8v1.8h-1.8zM107.3 233.3h1.8v1.8h-1.8zM129.0 233.2h1.8v1.8h-1.8zM130.6 233.6h1.8v1.8h-1.8zM132.5 233.2h1.8v1.8h-1.8zM134.0 234.1h1.8v1.8h-1.8zM135.4 233.7h1.8v1.8h-1.8zM136.7 233.1h1.8v1.8h-1.8zM137.5 233.1h1.8v1.8h-1.8zM138.6 233.8h1.8v1.8h-1.8zM140.1 233.3h1.8v1.8h-1.8zM140.9 234.0h1.8v1.8h-1.8zM141.7 233.9h1.8v1.8h-1.8zM144.2 233.8h1.8v1.8h-1.8zM146.2 234.0h1.8v1.8h-1.8zM148.7 233.9h1.8v1.8h-1.8zM152.2 233.7h1.8v1.8h-1.8zM153.4 233.6h1.8v1.8h-1.8zM155.0 233.8h1.8v1.8h-1.8zM155.1 233.3h1.8v1.8h-1.8zM157.0 233.2h1.8v1.8h-1.8zM161.8 234.0h1.8v1.8h-1.8zM162.9 234.0h1.8v1.8h-1.8zM166.0 233.5h1.8v1.8h-1.8zM166.1 233.7h1.8v1.8h-1.8zM96.4 234.8h1.8v1.8h-1.8zM97.5 234.2h1.8v1.8h-1.8zM100.0 234.7h1.8v1.8h-1.8zM101.1 234.8h1.8v1.8h-1.8zM101.4 234.5h1.8v1.8h-1.8zM102.2 235.0h1.8v1.8h-1.8zM107.3 234.5h1.8v1.8h-1.8zM108.1 234.5h1.8v1.8h-1.8zM115.9 234.3h1.8v1.8h-1.8zM122.5 235.1h1.8v1.8h-1.8zM126.7 234.8h1.8v1.8h-1.8zM127.8 235.1h1.8v1.8h-1.8zM128.9 235.0h1.8v1.8h-1.8zM131.7 235.1h1.8v1.8h-1.8zM132.9 234.3h1.8v1.8h-1.8zM135.2 234.9h1.8v1.8h-1.8zM136.1 234.3h1.8v1.8h-1.8zM137.2 235.1h1.8v1.8h-1.8zM139.9 234.3h1.8v1.8h-1.8zM140.6 234.3h1.8v1.8h-1.8zM142.0 234.8h1.8v1.8h-1.8zM142.9 234.9h1.8v1.8h-1.8zM143.3 234.6h1.8v1.8h-1.8zM144.9 235.0h1.8v1.8h-1.8zM145.4 234.9h1.8v1.8h-1.8zM146.9 234.2h1.8v1.8h-1.8zM148.1 235.0h1.8v1.8h-1.8zM150.9 234.5h1.8v1.8h-1.8zM152.8 234.8h1.8v1.8h-1.8zM153.9 234.7h1.8v1.8h-1.8zM154.8 234.6h1.8v1.8h-1.8zM156.2 234.8h1.8v1.8h-1.8zM157.2 235.0h1.8v1.8h-1.8zM162.0 235.0h1.8v1.8h-1.8zM163.7 234.7h1.8v1.8h-1.8zM185.5 235.0h1.8v1.8h-1.8zM89.6 235.2h1.8v1.8h-1.8zM93.7 236.1h1.8v1.8h-1.8zM100.2 235.2h1.8v1.8h-1.8zM105.6 235.2h1.8v1.8h-1.8zM115.3 235.4h1.8v1.8h-1.8zM118.3 235.6h1.8v1.8h-1.8zM125.0 235.4h1.8v1.8h-1.8zM127.9 235.3h1.8v1.8h-1.8zM128.1 235.6h1.8v1.8h-1.8zM129.4 235.1h1.8v1.8h-1.8zM131.6 235.7h1.8v1.8h-1.8zM135.3 235.3h1.8v1.8h-1.8zM137.1 236.0h1.8v1.8h-1.8zM138.3 235.7h1.8v1.8h-1.8zM140.6 235.9h1.8v1.8h-1.8zM141.6 235.5h1.8v1.8h-1.8zM142.3 235.7h1.8v1.8h-1.8zM143.4 235.8h1.8v1.8h-1.8zM145.0 235.7h1.8v1.8h-1.8zM146.5 236.0h1.8v1.8h-1.8zM147.6 235.2h1.8v1.8h-1.8zM149.5 235.8h1.8v1.8h-1.8zM151.7 235.8h1.8v1.8h-1.8zM152.3 235.8h1.8v1.8h-1.8zM153.9 235.3h1.8v1.8h-1.8zM154.2 235.6h1.8v1.8h-1.8zM156.0 235.7h1.8v1.8h-1.8zM156.2 235.8h1.8v1.8h-1.8zM157.2 235.3h1.8v1.8h-1.8zM160.6 235.1h1.8v1.8h-1.8zM163.3 235.1h1.8v1.8h-1.8zM164.2 235.6h1.8v1.8h-1.8zM165.2 235.2h1.8v1.8h-1.8zM99.9 236.6h1.8v1.8h-1.8zM101.5 236.1h1.8v1.8h-1.8zM102.7 236.8h1.8v1.8h-1.8zM103.1 236.5h1.8v1.8h-1.8zM104.1 236.4h1.8v1.8h-1.8zM131.3 236.7h1.8v1.8h-1.8zM132.7 236.9h1.8v1.8h-1.8zM133.2 236.1h1.8v1.8h-1.8zM134.9 236.8h1.8v1.8h-1.8zM135.8 236.4h1.8v1.8h-1.8zM137.2 236.5h1.8v1.8h-1.8zM141.1 237.0h1.8v1.8h-1.8zM143.0 236.3h1.8v1.8h-1.8zM143.7 236.5h1.8v1.8h-1.8zM145.3 236.5h1.8v1.8h-1.8zM146.9 236.7h1.8v1.8h-1.8zM147.6 236.8h1.8v1.8h-1.8zM148.8 236.3h1.8v1.8h-1.8zM149.3 237.1h1.8v1.8h-1.8zM150.2 236.4h1.8v1.8h-1.8zM151.6 236.3h1.8v1.8h-1.8zM152.2 236.4h1.8v1.8h-1.8zM153.4 236.3h1.8v1.8h-1.8zM155.4 236.9h1.8v1.8h-1.8zM159.8 236.8h1.8v1.8h-1.8zM161.1 236.7h1.8v1.8h-1.8zM161.2 236.4h1.8v1.8h-1.8zM165.0 236.6h1.8v1.8h-1.8zM165.9 236.7h1.8v1.8h-1.8zM168.2 237.1h1.8v1.8h-1.8zM99.2 237.8h1.8v1.8h-1.8zM100.7 237.9h1.8v1.8h-1.8zM101.5 237.9h1.8v1.8h-1.8zM103.6 237.7h1.8v1.8h-1.8zM104.6 237.5h1.8v1.8h-1.8zM108.2 237.8h1.8v1.8h-1.8zM109.6 237.6h1.8v1.8h-1.8zM111.5 237.2h1.8v1.8h-1.8zM114.3 237.9h1.8v1.8h-1.8zM127.1 237.2h1.8v1.8h-1.8zM129.6 237.9h1.8v1.8h-1.8zM130.2 237.5h1.8v1.8h-1.8zM131.2 237.1h1.8v1.8h-1.8zM132.5 238.0h1.8v1.8h-1.8zM134.8 237.9h1.8v1.8h-1.8zM135.3 237.6h1.8v1.8h-1.8zM136.7 237.6h1.8v1.8h-1.8zM137.8 237.7h1.8v1.8h-1.8zM138.5 237.9h1.8v1.8h-1.8zM141.0 237.5h1.8v1.8h-1.8zM142.7 237.8h1.8v1.8h-1.8zM143.6 237.9h1.8v1.8h-1.8zM144.5 237.2h1.8v1.8h-1.8zM146.0 237.6h1.8v1.8h-1.8zM146.7 237.7h1.8v1.8h-1.8zM149.7 237.5h1.8v1.8h-1.8zM150.9 237.7h1.8v1.8h-1.8zM152.6 237.7h1.8v1.8h-1.8zM153.9 237.3h1.8v1.8h-1.8zM155.0 237.2h1.8v1.8h-1.8zM156.2 237.5h1.8v1.8h-1.8zM161.3 237.4h1.8v1.8h-1.8zM162.7 237.4h1.8v1.8h-1.8zM163.5 237.5h1.8v1.8h-1.8zM170.6 237.4h1.8v1.8h-1.8zM89.7 238.6h1.8v1.8h-1.8zM100.0 238.1h1.8v1.8h-1.8zM107.3 238.6h1.8v1.8h-1.8zM108.8 238.2h1.8v1.8h-1.8zM112.8 238.5h1.8v1.8h-1.8zM115.3 238.4h1.8v1.8h-1.8zM117.6 239.0h1.8v1.8h-1.8zM124.7 238.1h1.8v1.8h-1.8zM127.5 238.3h1.8v1.8h-1.8zM129.9 239.0h1.8v1.8h-1.8zM130.1 238.4h1.8v1.8h-1.8zM131.7 239.0h1.8v1.8h-1.8zM132.7 238.8h1.8v1.8h-1.8zM134.0 238.2h1.8v1.8h-1.8zM134.4 238.9h1.8v1.8h-1.8zM135.2 238.7h1.8v1.8h-1.8zM136.6 238.3h1.8v1.8h-1.8zM138.5 238.5h1.8v1.8h-1.8zM140.8 238.3h1.8v1.8h-1.8zM141.3 238.4h1.8v1.8h-1.8zM142.5 238.1h1.8v1.8h-1.8zM143.4 239.0h1.8v1.8h-1.8zM144.7 239.0h1.8v1.8h-1.8zM145.7 239.1h1.8v1.8h-1.8zM147.5 238.1h1.8v1.8h-1.8zM148.9 238.2h1.8v1.8h-1.8zM149.1 238.5h1.8v1.8h-1.8zM151.1 238.6h1.8v1.8h-1.8zM152.1 238.1h1.8v1.8h-1.8zM152.5 238.8h1.8v1.8h-1.8zM153.8 238.4h1.8v1.8h-1.8zM155.0 238.7h1.8v1.8h-1.8zM156.0 238.2h1.8v1.8h-1.8zM156.5 238.9h1.8v1.8h-1.8zM157.9 239.1h1.8v1.8h-1.8zM158.5 238.7h1.8v1.8h-1.8zM159.8 238.8h1.8v1.8h-1.8zM169.3 239.0h1.8v1.8h-1.8zM171.6 238.4h1.8v1.8h-1.8zM90.6 239.2h1.8v1.8h-1.8zM95.6 240.0h1.8v1.8h-1.8zM100.2 239.5h1.8v1.8h-1.8zM101.3 239.4h1.8v1.8h-1.8zM103.9 239.7h1.8v1.8h-1.8zM108.5 239.6h1.8v1.8h-1.8zM117.1 239.4h1.8v1.8h-1.8zM117.7 239.8h1.8v1.8h-1.8zM118.8 239.6h1.8v1.8h-1.8zM123.9 239.3h1.8v1.8h-1.8zM129.5 239.4h1.8v1.8h-1.8zM130.3 239.1h1.8v1.8h-1.8zM132.5 240.0h1.8v1.8h-1.8zM133.7 239.3h1.8v1.8h-1.8zM135.8 239.7h1.8v1.8h-1.8zM138.2 239.1h1.8v1.8h-1.8zM139.2 239.7h1.8v1.8h-1.8zM141.1 239.9h1.8v1.8h-1.8zM141.8 239.7h1.8v1.8h-1.8zM143.3 239.7h1.8v1.8h-1.8zM145.3 239.1h1.8v1.8h-1.8zM146.4 239.3h1.8v1.8h-1.8zM147.9 240.0h1.8v1.8h-1.8zM149.0 239.4h1.8v1.8h-1.8zM149.6 239.2h1.8v1.8h-1.8zM150.5 239.6h1.8v1.8h-1.8zM151.5 239.5h1.8v1.8h-1.8zM156.0 240.0h1.8v1.8h-1.8zM156.9 239.1h1.8v1.8h-1.8zM159.2 239.8h1.8v1.8h-1.8zM160.9 240.1h1.8v1.8h-1.8zM174.7 239.4h1.8v1.8h-1.8zM86.7 241.1h1.8v1.8h-1.8zM97.3 240.4h1.8v1.8h-1.8zM106.8 240.6h1.8v1.8h-1.8zM107.1 240.6h1.8v1.8h-1.8zM118.9 240.8h1.8v1.8h-1.8zM126.8 240.7h1.8v1.8h-1.8zM127.3 241.0h1.8v1.8h-1.8zM128.3 240.9h1.8v1.8h-1.8zM131.4 240.5h1.8v1.8h-1.8zM132.4 241.1h1.8v1.8h-1.8zM136.5 240.3h1.8v1.8h-1.8zM137.6 240.9h1.8v1.8h-1.8zM140.2 240.2h1.8v1.8h-1.8zM141.3 240.4h1.8v1.8h-1.8zM143.1 240.1h1.8v1.8h-1.8zM143.8 240.5h1.8v1.8h-1.8zM145.0 240.2h1.8v1.8h-1.8zM146.4 240.6h1.8v1.8h-1.8zM147.3 240.5h1.8v1.8h-1.8zM148.7 240.6h1.8v1.8h-1.8zM150.8 240.6h1.8v1.8h-1.8zM151.9 240.9h1.8v1.8h-1.8zM153.9 241.0h1.8v1.8h-1.8zM154.3 240.3h1.8v1.8h-1.8zM155.9 240.4h1.8v1.8h-1.8zM156.5 241.1h1.8v1.8h-1.8zM161.1 240.2h1.8v1.8h-1.8zM162.6 240.5h1.8v1.8h-1.8zM167.9 241.0h1.8v1.8h-1.8zM170.5 240.9h1.8v1.8h-1.8zM97.1 241.9h1.8v1.8h-1.8zM103.2 241.4h1.8v1.8h-1.8zM107.0 241.7h1.8v1.8h-1.8zM113.9 241.7h1.8v1.8h-1.8zM129.2 241.6h1.8v1.8h-1.8zM131.2 241.9h1.8v1.8h-1.8zM132.8 241.8h1.8v1.8h-1.8zM133.4 241.1h1.8v1.8h-1.8zM134.6 241.9h1.8v1.8h-1.8zM137.4 242.0h1.8v1.8h-1.8zM138.3 241.9h1.8v1.8h-1.8zM139.4 241.7h1.8v1.8h-1.8zM140.8 241.8h1.8v1.8h-1.8zM141.2 241.7h1.8v1.8h-1.8zM142.8 241.3h1.8v1.8h-1.8zM144.4 241.9h1.8v1.8h-1.8zM145.3 241.6h1.8v1.8h-1.8zM147.6 241.4h1.8v1.8h-1.8zM148.9 241.4h1.8v1.8h-1.8zM149.8 241.5h1.8v1.8h-1.8zM151.3 241.5h1.8v1.8h-1.8zM152.8 241.9h1.8v1.8h-1.8zM154.5 241.7h1.8v1.8h-1.8zM156.0 241.6h1.8v1.8h-1.8zM157.5 241.6h1.8v1.8h-1.8zM159.6 241.6h1.8v1.8h-1.8zM164.1 241.5h1.8v1.8h-1.8zM168.0 241.2h1.8v1.8h-1.8zM168.5 241.3h1.8v1.8h-1.8zM171.1 241.8h1.8v1.8h-1.8zM94.6 242.6h1.8v1.8h-1.8zM101.6 242.3h1.8v1.8h-1.8zM103.5 242.7h1.8v1.8h-1.8zM105.5 242.4h1.8v1.8h-1.8zM107.5 243.1h1.8v1.8h-1.8zM108.2 242.8h1.8v1.8h-1.8zM109.9 242.4h1.8v1.8h-1.8zM126.7 242.9h1.8v1.8h-1.8zM129.1 242.7h1.8v1.8h-1.8zM130.2 243.0h1.8v1.8h-1.8zM134.3 242.8h1.8v1.8h-1.8zM136.8 242.3h1.8v1.8h-1.8zM137.1 243.1h1.8v1.8h-1.8zM139.1 242.8h1.8v1.8h-1.8zM140.0 242.2h1.8v1.8h-1.8zM140.4 242.2h1.8v1.8h-1.8zM141.4 242.6h1.8v1.8h-1.8zM142.2 243.1h1.8v1.8h-1.8zM144.4 242.5h1.8v1.8h-1.8zM146.6 242.6h1.8v1.8h-1.8zM147.8 243.1h1.8v1.8h-1.8zM148.4 242.8h1.8v1.8h-1.8zM149.4 243.0h1.8v1.8h-1.8zM154.0 242.2h1.8v1.8h-1.8zM154.7 242.6h1.8v1.8h-1.8zM155.1 242.7h1.8v1.8h-1.8zM156.6 242.8h1.8v1.8h-1.8zM159.2 242.1h1.8v1.8h-1.8zM162.6 242.2h1.8v1.8h-1.8zM164.5 242.5h1.8v1.8h-1.8zM174.4 242.5h1.8v1.8h-1.8zM97.5 243.7h1.8v1.8h-1.8zM99.6 243.2h1.8v1.8h-1.8zM109.4 243.4h1.8v1.8h-1.8zM110.8 243.4h1.8v1.8h-1.8zM114.0 243.9h1.8v1.8h-1.8zM115.6 243.1h1.8v1.8h-1.8zM116.4 243.2h1.8v1.8h-1.8zM124.1 243.5h1.8v1.8h-1.8zM125.3 243.3h1.8v1.8h-1.8zM128.7 244.1h1.8v1.8h-1.8zM130.9 243.1h1.8v1.8h-1.8zM131.4 243.7h1.8v1.8h-1.8zM132.5 243.9h1.8v1.8h-1.8zM133.5 243.4h1.8v1.8h-1.8zM134.2 243.2h1.8v1.8h-1.8zM135.9 243.5h1.8v1.8h-1.8zM136.9 243.5h1.8v1.8h-1.8zM138.0 243.8h1.8v1.8h-1.8zM138.9 243.2h1.8v1.8h-1.8zM139.5 243.5h1.8v1.8h-1.8zM140.2 243.6h1.8v1.8h-1.8zM141.7 244.0h1.8v1.8h-1.8zM142.9 244.0h1.8v1.8h-1.8zM143.5 243.3h1.8v1.8h-1.8zM144.4 243.9h1.8v1.8h-1.8zM147.1 244.0h1.8v1.8h-1.8zM148.3 243.9h1.8v1.8h-1.8zM149.2 243.3h1.8v1.8h-1.8zM151.2 243.3h1.8v1.8h-1.8zM153.3 243.1h1.8v1.8h-1.8zM156.2 244.0h1.8v1.8h-1.8zM157.4 243.2h1.8v1.8h-1.8zM159.8 244.0h1.8v1.8h-1.8zM160.3 243.4h1.8v1.8h-1.8zM164.5 243.6h1.8v1.8h-1.8zM165.7 243.5h1.8v1.8h-1.8zM167.9 243.7h1.8v1.8h-1.8zM169.8 243.7h1.8v1.8h-1.8zM91.8 244.7h1.8v1.8h-1.8zM93.7 244.8h1.8v1.8h-1.8zM96.6 244.5h1.8v1.8h-1.8zM102.4 244.6h1.8v1.8h-1.8zM104.3 244.5h1.8v1.8h-1.8zM105.6 244.6h1.8v1.8h-1.8zM107.9 244.3h1.8v1.8h-1.8zM109.6 245.0h1.8v1.8h-1.8zM119.0 245.1h1.8v1.8h-1.8zM124.0 244.3h1.8v1.8h-1.8zM127.0 244.8h1.8v1.8h-1.8zM131.9 244.9h1.8v1.8h-1.8zM133.2 244.6h1.8v1.8h-1.8zM134.3 244.4h1.8v1.8h-1.8zM135.3 244.6h1.8v1.8h-1.8zM139.0 244.7h1.8v1.8h-1.8zM140.1 244.9h1.8v1.8h-1.8zM143.0 244.7h1.8v1.8h-1.8zM143.1 245.0h1.8v1.8h-1.8zM144.9 244.7h1.8v1.8h-1.8zM147.0 244.6h1.8v1.8h-1.8zM147.2 244.9h1.8v1.8h-1.8zM149.7 244.5h1.8v1.8h-1.8zM151.0 244.5h1.8v1.8h-1.8zM151.2 244.2h1.8v1.8h-1.8zM152.6 245.1h1.8v1.8h-1.8zM153.9 244.6h1.8v1.8h-1.8zM155.8 244.3h1.8v1.8h-1.8zM157.1 244.8h1.8v1.8h-1.8zM158.7 244.9h1.8v1.8h-1.8zM160.2 244.5h1.8v1.8h-1.8zM161.6 244.7h1.8v1.8h-1.8zM173.4 245.1h1.8v1.8h-1.8zM98.7 245.3h1.8v1.8h-1.8zM99.7 245.7h1.8v1.8h-1.8zM102.2 245.2h1.8v1.8h-1.8zM103.3 245.2h1.8v1.8h-1.8zM105.9 245.2h1.8v1.8h-1.8zM107.3 245.5h1.8v1.8h-1.8zM111.0 245.2h1.8v1.8h-1.8zM111.3 245.8h1.8v1.8h-1.8zM113.6 245.6h1.8v1.8h-1.8zM122.0 245.9h1.8v1.8h-1.8zM123.2 245.5h1.8v1.8h-1.8zM127.1 245.3h1.8v1.8h-1.8zM129.8 245.6h1.8v1.8h-1.8zM131.5 245.5h1.8v1.8h-1.8zM132.1 245.9h1.8v1.8h-1.8zM134.5 245.7h1.8v1.8h-1.8zM137.0 245.6h1.8v1.8h-1.8zM138.8 245.5h1.8v1.8h-1.8zM141.0 245.7h1.8v1.8h-1.8zM143.5 246.0h1.8v1.8h-1.8zM144.3 245.8h1.8v1.8h-1.8zM147.1 245.9h1.8v1.8h-1.8zM148.0 245.8h1.8v1.8h-1.8zM150.1 245.2h1.8v1.8h-1.8zM153.0 246.0h1.8v1.8h-1.8zM153.7 245.7h1.8v1.8h-1.8zM154.2 245.2h1.8v1.8h-1.8zM156.1 245.2h1.8v1.8h-1.8zM156.2 246.0h1.8v1.8h-1.8zM157.9 245.1h1.8v1.8h-1.8zM158.8 245.1h1.8v1.8h-1.8zM160.9 245.1h1.8v1.8h-1.8zM161.8 245.5h1.8v1.8h-1.8zM164.5 246.1h1.8v1.8h-1.8zM168.2 245.8h1.8v1.8h-1.8zM172.4 245.6h1.8v1.8h-1.8zM83.0 246.7h1.8v1.8h-1.8zM97.6 246.8h1.8v1.8h-1.8zM98.9 246.9h1.8v1.8h-1.8zM103.8 246.8h1.8v1.8h-1.8zM105.3 246.5h1.8v1.8h-1.8zM108.5 247.1h1.8v1.8h-1.8zM111.8 247.0h1.8v1.8h-1.8zM116.1 246.1h1.8v1.8h-1.8zM122.0 246.9h1.8v1.8h-1.8zM131.4 246.2h1.8v1.8h-1.8zM134.2 246.6h1.8v1.8h-1.8zM135.6 247.0h1.8v1.8h-1.8zM136.8 246.4h1.8v1.8h-1.8zM139.9 246.7h1.8v1.8h-1.8zM140.6 246.5h1.8v1.8h-1.8zM141.3 246.6h1.8v1.8h-1.8zM142.9 247.0h1.8v1.8h-1.8zM143.7 247.0h1.8v1.8h-1.8zM144.6 246.1h1.8v1.8h-1.8zM145.9 247.0h1.8v1.8h-1.8zM146.4 246.9h1.8v1.8h-1.8zM147.7 247.1h1.8v1.8h-1.8zM148.4 246.1h1.8v1.8h-1.8zM149.9 246.2h1.8v1.8h-1.8zM150.2 246.6h1.8v1.8h-1.8zM151.8 246.5h1.8v1.8h-1.8zM153.6 246.3h1.8v1.8h-1.8zM154.5 246.3h1.8v1.8h-1.8zM156.8 246.7h1.8v1.8h-1.8zM167.9 246.4h1.8v1.8h-1.8zM170.2 246.8h1.8v1.8h-1.8zM97.9 247.4h1.8v1.8h-1.8zM101.7 247.7h1.8v1.8h-1.8zM110.0 247.6h1.8v1.8h-1.8zM110.2 247.7h1.8v1.8h-1.8zM122.8 247.8h1.8v1.8h-1.8zM124.1 247.9h1.8v1.8h-1.8zM125.3 248.0h1.8v1.8h-1.8zM131.9 248.0h1.8v1.8h-1.8zM132.4 247.7h1.8v1.8h-1.8zM133.6 247.5h1.8v1.8h-1.8zM134.6 247.4h1.8v1.8h-1.8zM135.6 247.1h1.8v1.8h-1.8zM136.7 247.3h1.8v1.8h-1.8zM137.9 247.4h1.8v1.8h-1.8zM138.7 247.5h1.8v1.8h-1.8zM140.1 247.2h1.8v1.8h-1.8zM140.8 247.4h1.8v1.8h-1.8zM142.0 247.6h1.8v1.8h-1.8zM142.9 247.3h1.8v1.8h-1.8zM143.2 247.3h1.8v1.8h-1.8zM144.7 247.1h1.8v1.8h-1.8zM146.5 247.3h1.8v1.8h-1.8zM148.4 247.3h1.8v1.8h-1.8zM149.7 247.2h1.8v1.8h-1.8zM150.2 247.4h1.8v1.8h-1.8zM151.1 247.6h1.8v1.8h-1.8zM152.5 247.5h1.8v1.8h-1.8zM153.8 247.4h1.8v1.8h-1.8zM154.8 247.8h1.8v1.8h-1.8zM155.4 247.1h1.8v1.8h-1.8zM156.9 248.1h1.8v1.8h-1.8zM157.9 247.9h1.8v1.8h-1.8zM158.8 248.0h1.8v1.8h-1.8zM159.9 247.9h1.8v1.8h-1.8zM160.4 247.3h1.8v1.8h-1.8zM163.9 247.4h1.8v1.8h-1.8zM169.1 247.6h1.8v1.8h-1.8zM98.0 248.5h1.8v1.8h-1.8zM98.4 249.0h1.8v1.8h-1.8zM99.4 248.8h1.8v1.8h-1.8zM100.9 249.0h1.8v1.8h-1.8zM107.4 248.6h1.8v1.8h-1.8zM108.1 248.2h1.8v1.8h-1.8zM110.0 249.0h1.8v1.8h-1.8zM111.3 248.7h1.8v1.8h-1.8zM113.4 249.0h1.8v1.8h-1.8zM116.6 249.0h1.8v1.8h-1.8zM123.7 248.3h1.8v1.8h-1.8zM124.7 248.8h1.8v1.8h-1.8zM128.9 248.2h1.8v1.8h-1.8zM130.1 249.0h1.8v1.8h-1.8zM131.0 248.3h1.8v1.8h-1.8zM131.2 248.7h1.8v1.8h-1.8zM132.5 248.8h1.8v1.8h-1.8zM133.9 248.1h1.8v1.8h-1.8zM134.6 248.5h1.8v1.8h-1.8zM135.4 248.7h1.8v1.8h-1.8zM136.6 248.4h1.8v1.8h-1.8zM138.1 248.9h1.8v1.8h-1.8zM139.0 248.8h1.8v1.8h-1.8zM139.7 248.2h1.8v1.8h-1.8zM142.1 248.8h1.8v1.8h-1.8zM143.3 248.1h1.8v1.8h-1.8zM145.1 248.8h1.8v1.8h-1.8zM146.1 248.4h1.8v1.8h-1.8zM149.0 248.1h1.8v1.8h-1.8zM149.9 248.8h1.8v1.8h-1.8zM150.4 248.5h1.8v1.8h-1.8zM151.9 248.9h1.8v1.8h-1.8zM152.6 248.8h1.8v1.8h-1.8zM153.3 248.4h1.8v1.8h-1.8zM154.3 249.0h1.8v1.8h-1.8zM155.1 248.3h1.8v1.8h-1.8zM157.2 248.8h1.8v1.8h-1.8zM158.6 248.5h1.8v1.8h-1.8zM160.0 248.9h1.8v1.8h-1.8zM164.1 248.1h1.8v1.8h-1.8zM168.0 248.5h1.8v1.8h-1.8zM170.7 249.1h1.8v1.8h-1.8zM95.8 249.2h1.8v1.8h-1.8zM100.6 249.2h1.8v1.8h-1.8zM102.7 249.2h1.8v1.8h-1.8zM107.7 250.0h1.8v1.8h-1.8zM108.6 249.6h1.8v1.8h-1.8zM109.2 249.9h1.8v1.8h-1.8zM111.6 249.5h1.8v1.8h-1.8zM112.1 249.5h1.8v1.8h-1.8zM114.0 249.8h1.8v1.8h-1.8zM114.7 249.3h1.8v1.8h-1.8zM123.6 249.1h1.8v1.8h-1.8zM133.1 249.2h1.8v1.8h-1.8zM135.3 249.8h1.8v1.8h-1.8zM138.7 249.3h1.8v1.8h-1.8zM139.5 249.3h1.8v1.8h-1.8zM140.2 249.1h1.8v1.8h-1.8zM142.1 249.3h1.8v1.8h-1.8zM142.2 249.6h1.8v1.8h-1.8zM143.7 249.3h1.8v1.8h-1.8zM144.8 249.2h1.8v1.8h-1.8zM146.1 249.3h1.8v1.8h-1.8zM147.1 249.8h1.8v1.8h-1.8zM148.4 249.8h1.8v1.8h-1.8zM149.3 250.1h1.8v1.8h-1.8zM150.9 249.2h1.8v1.8h-1.8zM151.9 250.1h1.8v1.8h-1.8zM152.7 249.8h1.8v1.8h-1.8zM154.0 249.6h1.8v1.8h-1.8zM154.8 249.6h1.8v1.8h-1.8zM155.6 249.7h1.8v1.8h-1.8zM156.3 249.8h1.8v1.8h-1.8zM158.8 249.8h1.8v1.8h-1.8zM159.4 250.1h1.8v1.8h-1.8zM161.8 249.5h1.8v1.8h-1.8zM164.2 249.3h1.8v1.8h-1.8zM166.6 249.6h1.8v1.8h-1.8zM167.3 249.6h1.8v1.8h-1.8zM174.1 249.4h1.8v1.8h-1.8zM94.3 250.4h1.8v1.8h-1.8zM95.6 250.4h1.8v1.8h-1.8zM99.6 250.9h1.8v1.8h-1.8zM100.7 250.3h1.8v1.8h-1.8zM103.0 250.8h1.8v1.8h-1.8zM105.4 250.1h1.8v1.8h-1.8zM108.5 250.2h1.8v1.8h-1.8zM109.9 250.6h1.8v1.8h-1.8zM110.8 250.8h1.8v1.8h-1.8zM113.4 250.1h1.8v1.8h-1.8zM115.0 250.6h1.8v1.8h-1.8zM120.7 251.0h1.8v1.8h-1.8zM123.7 250.6h1.8v1.8h-1.8zM125.0 250.9h1.8v1.8h-1.8zM127.1 250.8h1.8v1.8h-1.8zM130.0 250.8h1.8v1.8h-1.8zM132.1 250.9h1.8v1.8h-1.8zM133.4 250.3h1.8v1.8h-1.8zM134.7 250.9h1.8v1.8h-1.8zM135.5 250.4h1.8v1.8h-1.8zM136.3 250.5h1.8v1.8h-1.8zM137.4 250.6h1.8v1.8h-1.8zM138.5 251.1h1.8v1.8h-1.8zM139.1 250.4h1.8v1.8h-1.8zM143.0 250.9h1.8v1.8h-1.8zM143.4 250.3h1.8v1.8h-1.8zM144.2 250.2h1.8v1.8h-1.8zM146.5 250.6h1.8v1.8h-1.8zM147.8 250.6h1.8v1.8h-1.8zM150.7 250.4h1.8v1.8h-1.8zM151.5 250.9h1.8v1.8h-1.8zM153.0 250.3h1.8v1.8h-1.8zM154.3 250.8h1.8v1.8h-1.8zM156.4 251.0h1.8v1.8h-1.8zM158.6 250.1h1.8v1.8h-1.8zM161.0 250.6h1.8v1.8h-1.8zM163.9 250.3h1.8v1.8h-1.8zM165.4 251.0h1.8v1.8h-1.8zM166.9 250.2h1.8v1.8h-1.8zM174.3 250.8h1.8v1.8h-1.8zM104.9 251.8h1.8v1.8h-1.8zM107.6 251.4h1.8v1.8h-1.8zM115.0 251.8h1.8v1.8h-1.8zM115.3 252.1h1.8v1.8h-1.8zM116.4 251.9h1.8v1.8h-1.8zM122.2 251.3h1.8v1.8h-1.8zM125.3 251.7h1.8v1.8h-1.8zM128.8 251.6h1.8v1.8h-1.8zM129.9 252.0h1.8v1.8h-1.8zM130.5 251.7h1.8v1.8h-1.8zM131.2 252.1h1.8v1.8h-1.8zM134.3 251.2h1.8v1.8h-1.8zM135.7 251.8h1.8v1.8h-1.8zM136.4 251.7h1.8v1.8h-1.8zM137.5 251.2h1.8v1.8h-1.8zM138.2 251.2h1.8v1.8h-1.8zM139.3 251.7h1.8v1.8h-1.8zM140.2 251.9h1.8v1.8h-1.8zM142.0 251.7h1.8v1.8h-1.8zM142.5 251.9h1.8v1.8h-1.8zM143.8 251.4h1.8v1.8h-1.8zM144.5 251.7h1.8v1.8h-1.8zM145.9 251.9h1.8v1.8h-1.8zM146.4 251.8h1.8v1.8h-1.8zM147.9 251.9h1.8v1.8h-1.8zM148.3 252.0h1.8v1.8h-1.8zM150.7 251.9h1.8v1.8h-1.8zM151.8 251.7h1.8v1.8h-1.8zM152.9 251.7h1.8v1.8h-1.8zM157.8 251.1h1.8v1.8h-1.8zM160.8 251.9h1.8v1.8h-1.8zM161.9 251.5h1.8v1.8h-1.8zM168.9 251.9h1.8v1.8h-1.8zM103.8 253.0h1.8v1.8h-1.8zM106.8 252.7h1.8v1.8h-1.8zM109.9 252.3h1.8v1.8h-1.8zM111.7 252.2h1.8v1.8h-1.8zM120.8 253.1h1.8v1.8h-1.8zM124.2 252.2h1.8v1.8h-1.8zM126.2 252.8h1.8v1.8h-1.8zM127.3 252.2h1.8v1.8h-1.8zM129.6 252.8h1.8v1.8h-1.8zM133.9 252.3h1.8v1.8h-1.8zM134.9 252.7h1.8v1.8h-1.8zM137.0 253.0h1.8v1.8h-1.8zM137.8 252.6h1.8v1.8h-1.8zM138.8 252.5h1.8v1.8h-1.8zM139.3 252.5h1.8v1.8h-1.8zM140.6 252.9h1.8v1.8h-1.8zM141.4 252.2h1.8v1.8h-1.8zM142.6 252.2h1.8v1.8h-1.8zM144.1 252.2h1.8v1.8h-1.8zM145.2 252.8h1.8v1.8h-1.8zM146.2 252.3h1.8v1.8h-1.8zM148.3 252.6h1.8v1.8h-1.8zM149.7 252.5h1.8v1.8h-1.8zM152.1 252.2h1.8v1.8h-1.8zM153.4 252.9h1.8v1.8h-1.8zM154.6 252.6h1.8v1.8h-1.8zM156.1 252.5h1.8v1.8h-1.8zM156.6 252.3h1.8v1.8h-1.8zM157.4 252.5h1.8v1.8h-1.8zM159.5 252.6h1.8v1.8h-1.8zM162.3 252.8h1.8v1.8h-1.8zM163.2 252.4h1.8v1.8h-1.8zM166.1 252.5h1.8v1.8h-1.8zM173.6 253.0h1.8v1.8h-1.8zM174.8 252.3h1.8v1.8h-1.8zM96.6 253.6h1.8v1.8h-1.8zM98.0 253.3h1.8v1.8h-1.8zM105.6 253.2h1.8v1.8h-1.8zM108.6 253.4h1.8v1.8h-1.8zM110.8 253.6h1.8v1.8h-1.8zM117.0 253.5h1.8v1.8h-1.8zM125.6 253.6h1.8v1.8h-1.8zM131.2 253.6h1.8v1.8h-1.8zM133.1 253.7h1.8v1.8h-1.8zM136.2 253.2h1.8v1.8h-1.8zM138.4 253.2h1.8v1.8h-1.8zM139.8 253.5h1.8v1.8h-1.8zM142.9 253.7h1.8v1.8h-1.8zM143.3 253.6h1.8v1.8h-1.8zM145.9 253.3h1.8v1.8h-1.8zM151.0 253.6h1.8v1.8h-1.8zM151.8 253.7h1.8v1.8h-1.8zM153.1 253.4h1.8v1.8h-1.8zM153.6 253.8h1.8v1.8h-1.8zM157.8 253.7h1.8v1.8h-1.8zM162.5 253.5h1.8v1.8h-1.8zM164.0 253.7h1.8v1.8h-1.8zM164.2 253.6h1.8v1.8h-1.8zM170.7 253.2h1.8v1.8h-1.8zM177.1 55.9h1.8v1.8h-1.8zM203.4 60.1h1.8v1.8h-1.8zM192.9 62.9h1.8v1.8h-1.8zM196.1 67.1h1.8v1.8h-1.8zM187.6 72.4h1.8v1.8h-1.8zM199.1 71.1h1.8v1.8h-1.8zM194.1 78.1h1.8v1.8h-1.8zM202.1 85.7h1.8v1.8h-1.8zM188.1 91.1h1.8v1.8h-1.8zM63.7 223.1h1.8v1.8h-1.8zM166.5 88.6h1.8v1.8h-1.8zM149.0 104.4h1.8v1.8h-1.8zM124.4 120.9h1.8v1.8h-1.8zM136.0 132.1h1.8v1.8h-1.8zM111.2 139.1h1.8v1.8h-1.8zM113.3 147.2h1.8v1.8h-1.8zM93.0 151.6h1.8v1.8h-1.8zM116.3 156.7h1.8v1.8h-1.8zM104.8 167.9h1.8v1.8h-1.8zM109.9 168.5h1.8v1.8h-1.8zM106.5 175.3h1.8v1.8h-1.8zM114.6 163.5h1.8v1.8h-1.8zM80.1 181.4h1.8v1.8h-1.8zM89.2 186.1h1.8v1.8h-1.8zM103.8 183.8h1.8v1.8h-1.8zM111.2 178.7h1.8v1.8h-1.8zM114.9 182.8h1.8v1.8h-1.8z"/>
<path d="M449.1 66.5h1.8v1.8h-1.8zM446.3 69.0h1.8v1.8h-1.8zM449.3 71.1h1.8v1.8h-1.8zM447.5 71.3h1.8v1.8h-1.8zM444.0 72.2h1.8v1.8h-1.8zM450.3 72.5h1.8v1.8h-1.8zM445.8 74.8h1.8v1.8h-1.8zM446.3 74.8h1.8v1.8h-1.8zM448.3 75.1h1.8v1.8h-1.8zM443.9 75.6h1.8v1.8h-1.8zM448.6 75.6h1.8v1.8h-1.8zM438.0 78.6h1.8v1.8h-1.8zM444.2 79.2h1.8v1.8h-1.8zM446.1 79.6h1.8v1.8h-1.8zM439.1 81.0h1.8v1.8h-1.8zM442.9 80.3h1.8v1.8h-1.8zM443.2 80.3h1.8v1.8h-1.8zM448.6 80.1h1.8v1.8h-1.8zM443.1 82.0h1.8v1.8h-1.8zM444.3 81.8h1.8v1.8h-1.8zM449.5 82.0h1.8v1.8h-1.8zM444.7 83.0h1.8v1.8h-1.8zM441.4 83.4h1.8v1.8h-1.8zM438.7 85.1h1.8v1.8h-1.8zM440.7 85.0h1.8v1.8h-1.8zM444.2 84.5h1.8v1.8h-1.8zM446.4 85.0h1.8v1.8h-1.8zM447.6 84.2h1.8v1.8h-1.8zM449.7 84.5h1.8v1.8h-1.8zM436.4 85.7h1.8v1.8h-1.8zM438.4 85.2h1.8v1.8h-1.8zM440.3 85.6h1.8v1.8h-1.8zM443.3 85.3h1.8v1.8h-1.8zM437.6 86.4h1.8v1.8h-1.8zM438.2 86.2h1.8v1.8h-1.8zM440.2 86.5h1.8v1.8h-1.8zM442.6 86.5h1.8v1.8h-1.8zM432.8 87.5h1.8v1.8h-1.8zM434.2 88.0h1.8v1.8h-1.8zM436.9 87.8h1.8v1.8h-1.8zM438.0 87.8h1.8v1.8h-1.8zM439.9 87.3h1.8v1.8h-1.8zM438.1 88.2h1.8v1.8h-1.8zM439.9 88.4h1.8v1.8h-1.8zM442.9 89.0h1.8v1.8h-1.8zM450.0 88.5h1.8v1.8h-1.8zM433.3 89.1h1.8v1.8h-1.8zM438.4 89.4h1.8v1.8h-1.8zM440.2 89.6h1.8v1.8h-1.8zM444.5 89.7h1.8v1.8h-1.8zM441.0 90.9h1.8v1.8h-1.8zM447.0 90.4h1.8v1.8h-1.8zM424.0 91.5h1.8v1.8h-1.8zM436.8 92.0h1.8v1.8h-1.8zM444.1 91.5h1.8v1.8h-1.8zM450.1 91.1h1.8v1.8h-1.8zM428.4 92.7h1.8v1.8h-1.8zM434.8 92.2h1.8v1.8h-1.8zM437.4 92.8h1.8v1.8h-1.8zM438.2 92.4h1.8v1.8h-1.8zM440.2 92.5h1.8v1.8h-1.8zM442.7 93.0h1.8v1.8h-1.8zM447.5 92.9h1.8v1.8h-1.8zM431.6 93.2h1.8v1.8h-1.8zM433.8 94.0h1.8v1.8h-1.8zM434.2 94.1h1.8v1.8h-1.8zM436.9 93.2h1.8v1.8h-1.8zM438.1 93.1h1.8v1.8h-1.8zM441.7 93.5h1.8v1.8h-1.8zM434.2 95.0h1.8v1.8h-1.8zM436.2 94.7h1.8v1.8h-1.8zM438.4 94.7h1.8v1.8h-1.8zM441.3 94.3h1.8v1.8h-1.8zM444.7 94.2h1.8v1.8h-1.8zM431.3 95.2h1.8v1.8h-1.8zM432.2 96.1h1.8v1.8h-1.8zM438.1 95.1h1.8v1.8h-1.8zM443.8 95.7h1.8v1.8h-1.8zM429.8 97.0h1.8v1.8h-1.8zM434.8 96.8h1.8v1.8h-1.8zM443.5 96.3h1.8v1.8h-1.8zM445.8 96.7h1.8v1.8h-1.8zM427.2 97.9h1.8v1.8h-1.8zM429.1 97.2h1.8v1.8h-1.8zM433.6 97.3h1.8v1.8h-1.8zM435.6 97.6h1.8v1.8h-1.8zM440.8 97.8h1.8v1.8h-1.8zM445.8 97.2h1.8v1.8h-1.8zM427.3 98.8h1.8v1.8h-1.8zM429.4 98.8h1.8v1.8h-1.8zM432.0 98.5h1.8v1.8h-1.8zM434.1 98.5h1.8v1.8h-1.8zM436.1 98.2h1.8v1.8h-1.8zM437.7 98.5h1.8v1.8h-1.8zM438.2 98.3h1.8v1.8h-1.8zM439.9 98.2h1.8v1.8h-1.8zM422.2 99.8h1.8v1.8h-1.8zM429.5 99.9h1.8v1.8h-1.8zM431.7 99.9h1.8v1.8h-1.8zM433.9 99.2h1.8v1.8h-1.8zM435.5 99.4h1.8v1.8h-1.8zM439.4 99.2h1.8v1.8h-1.8zM440.8 99.6h1.8v1.8h-1.8zM444.4 99.5h1.8v1.8h-1.8zM451.1 99.7h1.8v1.8h-1.8zM451.8 99.7h1.8v1.8h-1.8zM426.1 100.5h1.8v1.8h-1.8zM433.1 100.9h1.8v1.8h-1.8zM434.0 101.0h1.8v1.8h-1.8zM438.9 100.9h1.8v1.8h-1.8zM439.9 100.4h1.8v1.8h-1.8zM441.0 101.0h1.8v1.8h-1.8zM424.5 101.1h1.8v1.8h-1.8zM425.8 101.8h1.8v1.8h-1.8zM431.9 101.8h1.8v1.8h-1.8zM432.6 102.1h1.8v1.8h-1.8zM434.5 101.9h1.8v1.8h-1.8zM435.6 102.0h1.8v1.8h-1.8zM437.6 101.8h1.8v1.8h-1.8zM439.4 101.4h1.8v1.8h-1.8zM447.2 102.0h1.8v1.8h-1.8zM415.6 102.5h1.8v1.8h-1.8zM425.2 103.1h1.8v1.8h-1.8zM429.9 102.4h1.8v1.8h-1.8zM430.1 102.9h1.8v1.8h-1.8zM435.3 102.6h1.8v1.8h-1.8zM436.6 102.3h1.8v1.8h-1.8zM438.4 102.5h1.8v1.8h-1.8zM439.2 102.7h1.8v1.8h-1.8zM429.0 103.9h1.8v1.8h-1.8zM426.0 104.4h1.8v1.8h-1.8zM428.0 104.2h1.8v1.8h-1.8zM428.9 104.9h1.8v1.8h-1.8zM430.8 104.2h1.8v1.8h-1.8zM431.2 104.3h1.8v1.8h-1.8zM432.5 104.5h1.8v1.8h-1.8zM433.1 104.5h1.8v1.8h-1.8zM436.0 105.0h1.8v1.8h-1.8zM439.7 105.0h1.8v1.8h-1.8zM427.1 105.5h1.8v1.8h-1.8zM427.5 105.6h1.8v1.8h-1.8zM429.0 105.7h1.8v1.8h-1.8zM429.4 105.9h1.8v1.8h-1.8zM431.5 105.5h1.8v1.8h-1.8zM432.8 105.9h1.8v1.8h-1.8zM438.1 105.8h1.8v1.8h-1.8zM439.1 105.7h1.8v1.8h-1.8zM440.4 105.9h1.8v1.8h-1.8zM423.6 106.1h1.8v1.8h-1.8zM427.5 107.0h1.8v1.8h-1.8zM428.5 107.0h1.8v1.8h-1.8zM429.6 106.9h1.8v1.8h-1.8zM431.1 106.6h1.8v1.8h-1.8zM431.5 106.9h1.8v1.8h-1.8zM432.8 106.5h1.8v1.8h-1.8zM434.6 106.6h1.8v1.8h-1.8zM445.0 106.8h1.8v1.8h-1.8zM425.5 107.5h1.8v1.8h-1.8zM427.6 107.5h1.8v1.8h-1.8zM430.0 107.5h1.8v1.8h-1.8zM434.9 107.5h1.8v1.8h-1.8zM438.1 107.6h1.8v1.8h-1.8zM428.0 108.7h1.8v1.8h-1.8zM428.6 109.0h1.8v1.8h-1.8zM430.0 108.8h1.8v1.8h-1.8zM430.3 108.1h1.8v1.8h-1.8zM432.3 109.1h1.8v1.8h-1.8zM438.8 108.5h1.8v1.8h-1.8zM439.4 108.1h1.8v1.8h-1.8zM441.7 108.6h1.8v1.8h-1.8zM415.3 110.0h1.8v1.8h-1.8zM427.1 109.5h1.8v1.8h-1.8zM431.2 109.3h1.8v1.8h-1.8zM432.5 109.1h1.8v1.8h-1.8zM433.8 109.8h1.8v1.8h-1.8zM435.6 109.4h1.8v1.8h-1.8zM436.5 109.5h1.8v1.8h-1.8zM438.7 109.5h1.8v1.8h-1.8zM420.4 110.9h1.8v1.8h-1.8zM424.4 110.5h1.8v1.8h-1.8zM426.8 110.3h1.8v1.8h-1.8zM427.2 110.1h1.8v1.8h-1.8zM429.0 111.0h1.8v1.8h-1.8zM429.4 110.8h1.8v1.8h-1.8zM430.9 110.4h1.8v1.8h-1.8zM431.1 110.4h1.8v1.8h-1.8zM433.3 110.4h1.8v1.8h-1.8zM434.7 111.1h1.8v1.8h-1.8zM435.7 110.5h1.8v1.8h-1.8zM420.5 111.4h1.8v1.8h-1.8zM422.9 111.4h1.8v1.8h-1.8zM423.6 111.4h1.8v1.8h-1.8zM424.3 111.8h1.8v1.8h-1.8zM425.7 111.8h1.8v1.8h-1.8zM426.8 111.2h1.8v1.8h-1.8zM428.0 111.9h1.8v1.8h-1.8zM428.1 111.9h1.8v1.8h-1.8zM429.7 111.3h1.8v1.8h-1.8zM431.5 111.9h1.8v1.8h-1.8zM432.5 111.4h1.8v1.8h-1.8zM436.0 111.5h1.8v1.8h-1.8zM438.7 111.3h1.8v1.8h-1.8zM420.2 112.3h1.8v1.8h-1.8zM422.3 112.3h1.8v1.8h-1.8zM423.7 112.7h1.8v1.8h-1.8zM424.6 112.2h1.8v1.8h-1.8zM426.5 112.3h1.8v1.8h-1.8zM427.8 113.0h1.8v1.8h-1.8zM428.4 112.7h1.8v1.8h-1.8zM429.6 112.1h1.8v1.8h-1.8zM430.6 112.4h1.8v1.8h-1.8zM439.8 112.8h1.8v1.8h-1.8zM421.7 113.1h1.8v1.8h-1.8zM424.0 113.5h1.8v1.8h-1.8zM425.0 113.6h1.8v1.8h-1.8zM426.1 113.6h1.8v1.8h-1.8zM429.9 113.3h1.8v1.8h-1.8zM431.1 113.5h1.8v1.8h-1.8zM416.2 114.5h1.8v1.8h-1.8zM420.6 115.0h1.8v1.8h-1.8zM423.1 114.9h1.8v1.8h-1.8zM425.2 115.1h1.8v1.8h-1.8zM427.2 114.6h1.8v1.8h-1.8zM429.6 114.6h1.8v1.8h-1.8zM433.2 115.0h1.8v1.8h-1.8zM435.0 114.9h1.8v1.8h-1.8zM435.5 114.8h1.8v1.8h-1.8zM416.4 115.3h1.8v1.8h-1.8zM419.5 116.1h1.8v1.8h-1.8zM420.7 115.1h1.8v1.8h-1.8zM423.1 115.5h1.8v1.8h-1.8zM424.4 115.3h1.8v1.8h-1.8zM425.4 115.5h1.8v1.8h-1.8zM426.8 115.1h1.8v1.8h-1.8zM427.4 115.9h1.8v1.8h-1.8zM429.3 115.2h1.8v1.8h-1.8zM430.7 115.2h1.8v1.8h-1.8zM431.8 115.3h1.8v1.8h-1.8zM433.5 115.7h1.8v1.8h-1.8zM435.1 116.0h1.8v1.8h-1.8zM436.9 115.2h1.8v1.8h-1.8zM440.5 115.5h1.8v1.8h-1.8zM410.7 116.9h1.8v1.8h-1.8zM416.9 117.0h1.8v1.8h-1.8zM418.9 116.1h1.8v1.8h-1.8zM420.9 116.4h1.8v1.8h-1.8zM421.6 116.6h1.8v1.8h-1.8zM423.6 116.6h1.8v1.8h-1.8zM425.0 116.7h1.8v1.8h-1.8zM427.4 116.2h1.8v1.8h-1.8zM428.6 116.8h1.8v1.8h-1.8zM429.3 116.4h1.8v1.8h-1.8zM430.4 116.9h1.8v1.8h-1.8zM431.5 116.2h1.8v1.8h-1.8zM432.9 116.8h1.8v1.8h-1.8zM435.5 116.4h1.8v1.8h-1.8zM437.9 116.5h1.8v1.8h-1.8zM413.0 117.4h1.8v1.8h-1.8zM415.5 117.6h1.8v1.8h-1.8zM417.2 118.0h1.8v1.8h-1.8zM422.7 117.9h1.8v1.8h-1.8zM426.1 117.9h1.8v1.8h-1.8zM426.3 118.1h1.8v1.8h-1.8zM427.8 117.4h1.8v1.8h-1.8zM428.4 117.8h1.8v1.8h-1.8zM430.4 117.5h1.8v1.8h-1.8zM435.1 118.0h1.8v1.8h-1.8zM436.8 117.5h1.8v1.8h-1.8zM412.4 118.3h1.8v1.8h-1.8zM415.0 118.3h1.8v1.8h-1.8zM415.2 118.4h1.8v1.8h-1.8zM417.8 119.0h1.8v1.8h-1.8zM420.9 119.0h1.8v1.8h-1.8zM421.7 118.3h1.8v1.8h-1.8zM422.4 118.4h1.8v1.8h-1.8zM423.6 118.8h1.8v1.8h-1.8zM424.6 118.2h1.8v1.8h-1.8zM425.3 118.1h1.8v1.8h-1.8zM427.1 119.1h1.8v1.8h-1.8zM431.3 118.7h1.8v1.8h-1.8zM437.9 118.9h1.8v1.8h-1.8zM440.6 118.2h1.8v1.8h-1.8zM408.6 119.7h1.8v1.8h-1.8zM411.0 119.1h1.8v1.8h-1.8zM413.4 119.9h1.8v1.8h-1.8zM416.6 119.6h1.8v1.8h-1.8zM417.3 120.1h1.8v1.8h-1.8zM419.6 119.5h1.8v1.8h-1.8zM421.4 119.9h1.8v1.8h-1.8zM424.5 119.7h1.8v1.8h-1.8zM425.3 119.4h1.8v1.8h-1.8zM426.2 119.1h1.8v1.8h-1.8zM427.3 119.2h1.8v1.8h-1.8zM428.9 119.2h1.8v1.8h-1.8zM429.8 119.7h1.8v1.8h-1.8zM431.3 119.3h1.8v1.8h-1.8zM433.1 119.3h1.8v1.8h-1.8zM436.5 119.8h1.8v1.8h-1.8zM406.0 120.8h1.8v1.8h-1.8zM416.3 120.4h1.8v1.8h-1.8zM420.1 120.3h1.8v1.8h-1.8zM421.5 120.2h1.8v1.8h-1.8zM422.7 120.3h1.8v1.8h-1.8zM424.0 120.6h1.8v1.8h-1.8zM425.9 120.4h1.8v1.8h-1.8zM426.6 120.7h1.8v1.8h-1.8zM427.4 120.5h1.8v1.8h-1.8zM429.4 120.2h1.8v1.8h-1.8zM433.4 120.2h1.8v1.8h-1.8zM414.4 121.9h1.8v1.8h-1.8zM416.6 121.6h1.8v1.8h-1.8zM417.6 121.8h1.8v1.8h-1.8zM419.1 121.8h1.8v1.8h-1.8zM419.6 121.7h1.8v1.8h-1.8zM421.6 122.1h1.8v1.8h-1.8zM423.3 121.8h1.8v1.8h-1.8zM425.0 121.9h1.8v1.8h-1.8zM426.8 121.6h1.8v1.8h-1.8zM427.2 121.4h1.8v1.8h-1.8zM428.2 121.8h1.8v1.8h-1.8zM429.5 121.2h1.8v1.8h-1.8zM430.8 121.9h1.8v1.8h-1.8zM431.9 121.8h1.8v1.8h-1.8zM434.0 121.3h1.8v1.8h-1.8zM408.7 122.6h1.8v1.8h-1.8zM414.8 122.8h1.8v1.8h-1.8zM417.0 123.0h1.8v1.8h-1.8zM419.3 122.6h1.8v1.8h-1.8zM421.0 122.9h1.8v1.8h-1.8zM421.7 122.3h1.8v1.8h-1.8zM422.8 122.8h1.8v1.8h-1.8zM424.8 122.5h1.8v1.8h-1.8zM425.1 122.7h1.8v1.8h-1.8zM428.4 122.9h1.8v1.8h-1.8zM430.1 122.4h1.8v1.8h-1.8zM432.3 122.3h1.8v1.8h-1.8zM436.0 122.4h1.8v1.8h-1.8zM411.4 123.1h1.8v1.8h-1.8zM414.7 123.2h1.8v1.8h-1.8zM420.0 123.4h1.8v1.8h-1.8zM421.1 123.5h1.8v1.8h-1.8zM422.0 124.0h1.8v1.8h-1.8zM422.3 123.2h1.8v1.8h-1.8zM425.8 123.6h1.8v1.8h-1.8zM426.7 123.4h1.8v1.8h-1.8zM427.3 123.8h1.8v1.8h-1.8zM431.2 123.9h1.8v1.8h-1.8zM434.2 124.0h1.8v1.8h-1.8zM435.3 123.2h1.8v1.8h-1.8zM397.3 124.6h1.8v1.8h-1.8zM411.6 124.5h1.8v1.8h-1.8zM413.7 125.1h1.8v1.8h-1.8zM416.3 125.0h1.8v1.8h-1.8zM420.5 124.2h1.8v1.8h-1.8zM421.6 124.1h1.8v1.8h-1.8zM422.6 124.6h1.8v1.8h-1.8zM424.5 124.5h1.8v1.8h-1.8zM425.4 124.9h1.8v1.8h-1.8zM426.5 124.3h1.8v1.8h-1.8zM427.5 124.3h1.8v1.8h-1.8zM430.3 124.2h1.8v1.8h-1.8zM433.1 124.7h1.8v1.8h-1.8zM434.6 124.8h1.8v1.8h-1.8zM409.2 125.9h1.8v1.8h-1.8zM416.4 125.6h1.8v1.8h-1.8zM418.2 126.1h1.8v1.8h-1.8zM420.4 126.0h1.8v1.8h-1.8zM421.2 125.9h1.8v1.8h-1.8zM422.8 125.1h1.8v1.8h-1.8zM423.4 126.0h1.8v1.8h-1.8zM424.3 125.5h1.8v1.8h-1.8zM427.0 125.7h1.8v1.8h-1.8zM431.5 125.4h1.8v1.8h-1.8zM411.2 126.6h1.8v1.8h-1.8zM412.6 126.4h1.8v1.8h-1.8zM413.5 126.1h1.8v1.8h-1.8zM415.1 127.1h1.8v1.8h-1.8zM417.0 127.0h1.8v1.8h-1.8zM418.6 126.6h1.8v1.8h-1.8zM420.9 126.9h1.8v1.8h-1.8zM421.7 126.3h1.8v1.8h-1.8zM423.0 126.6h1.8v1.8h-1.8zM423.9 126.8h1.8v1.8h-1.8zM425.1 126.5h1.8v1.8h-1.8zM426.0 126.5h1.8v1.8h-1.8zM427.1 127.0h1.8v1.8h-1.8zM429.5 126.5h1.8v1.8h-1.8zM431.0 126.6h1.8v1.8h-1.8zM436.3 126.9h1.8v1.8h-1.8zM440.2 126.4h1.8v1.8h-1.8zM410.6 127.6h1.8v1.8h-1.8zM414.8 127.1h1.8v1.8h-1.8zM417.4 127.7h1.8v1.8h-1.8zM420.1 127.8h1.8v1.8h-1.8zM420.9 128.0h1.8v1.8h-1.8zM421.9 127.6h1.8v1.8h-1.8zM423.0 127.4h1.8v1.8h-1.8zM423.1 127.5h1.8v1.8h-1.8zM424.1 128.0h1.8v1.8h-1.8zM425.5 127.5h1.8v1.8h-1.8zM426.5 127.1h1.8v1.8h-1.8zM429.0 127.7h1.8v1.8h-1.8zM430.7 128.0h1.8v1.8h-1.8zM431.7 127.4h1.8v1.8h-1.8zM398.2 128.5h1.8v1.8h-1.8zM406.4 128.4h1.8v1.8h-1.8zM409.9 129.0h1.8v1.8h-1.8zM411.5 128.3h1.8v1.8h-1.8zM417.9 128.2h1.8v1.8h-1.8zM418.3 128.5h1.8v1.8h-1.8zM420.0 128.4h1.8v1.8h-1.8zM420.5 128.1h1.8v1.8h-1.8zM421.1 129.0h1.8v1.8h-1.8zM423.0 128.6h1.8v1.8h-1.8zM423.3 128.4h1.8v1.8h-1.8zM424.8 128.4h1.8v1.8h-1.8zM400.0 129.7h1.8v1.8h-1.8zM407.5 129.9h1.8v1.8h-1.8zM413.5 129.3h1.8v1.8h-1.8zM414.3 129.3h1.8v1.8h-1.8zM415.3 129.4h1.8v1.8h-1.8zM417.9 129.1h1.8v1.8h-1.8zM420.3 129.7h1.8v1.8h-1.8zM422.3 130.0h1.8v1.8h-1.8zM423.7 129.6h1.8v1.8h-1.8zM424.9 129.4h1.8v1.8h-1.8zM426.6 129.8h1.8v1.8h-1.8zM427.8 129.9h1.8v1.8h-1.8zM429.3 129.3h1.8v1.8h-1.8zM431.1 130.1h1.8v1.8h-1.8zM435.4 129.8h1.8v1.8h-1.8zM408.9 130.3h1.8v1.8h-1.8zM411.3 130.5h1.8v1.8h-1.8zM413.8 130.5h1.8v1.8h-1.8zM415.5 130.9h1.8v1.8h-1.8zM417.0 130.2h1.8v1.8h-1.8zM418.1 130.4h1.8v1.8h-1.8zM418.7 131.0h1.8v1.8h-1.8zM419.7 130.5h1.8v1.8h-1.8zM420.3 131.0h1.8v1.8h-1.8zM421.1 130.6h1.8v1.8h-1.8zM423.1 131.1h1.8v1.8h-1.8zM424.3 130.2h1.8v1.8h-1.8zM425.2 130.3h1.8v1.8h-1.8zM428.0 130.1h1.8v1.8h-1.8zM429.3 130.2h1.8v1.8h-1.8zM431.0 130.5h1.8v1.8h-1.8zM435.5 130.8h1.8v1.8h-1.8zM404.5 131.3h1.8v1.8h-1.8zM406.8 131.6h1.8v1.8h-1.8zM412.2 131.7h1.8v1.8h-1.8zM415.2 131.3h1.8v1.8h-1.8zM416.5 132.1h1.8v1.8h-1.8zM417.1 131.9h1.8v1.8h-1.8zM418.5 131.5h1.8v1.8h-1.8zM420.0 131.1h1.8v1.8h-1.8zM421.7 131.2h1.8v1.8h-1.8zM422.3 131.4h1.8v1.8h-1.8zM424.8 131.6h1.8v1.8h-1.8zM426.9 131.7h1.8v1.8h-1.8zM428.3 131.9h1.8v1.8h-1.8zM435.9 131.7h1.8v1.8h-1.8zM436.5 131.5h1.8v1.8h-1.8zM411.0 132.8h1.8v1.8h-1.8zM412.1 132.8h1.8v1.8h-1.8zM414.0 132.8h1.8v1.8h-1.8zM415.6 132.1h1.8v1.8h-1.8zM416.3 133.0h1.8v1.8h-1.8zM417.3 132.7h1.8v1.8h-1.8zM418.6 133.1h1.8v1.8h-1.8zM420.1 132.2h1.8v1.8h-1.8zM420.6 132.5h1.8v1.8h-1.8zM422.0 133.1h1.8v1.8h-1.8zM423.0 132.2h1.8v1.8h-1.8zM423.9 132.8h1.8v1.8h-1.8zM424.2 133.0h1.8v1.8h-1.8zM425.3 132.9h1.8v1.8h-1.8zM426.9 132.1h1.8v1.8h-1.8zM428.1 132.5h1.8v1.8h-1.8zM428.1 132.2h1.8v1.8h-1.8zM430.5 133.0h1.8v1.8h-1.8zM431.3 132.6h1.8v1.8h-1.8zM402.5 134.0h1.8v1.8h-1.8zM404.8 134.1h1.8v1.8h-1.8zM405.1 133.6h1.8v1.8h-1.8zM407.1 133.8h1.8v1.8h-1.8zM411.8 133.2h1.8v1.8h-1.8zM414.1 133.8h1.8v1.8h-1.8zM417.8 133.8h1.8v1.8h-1.8zM418.6 133.3h1.8v1.8h-1.8zM419.1 133.7h1.8v1.8h-1.8zM420.6 133.8h1.8v1.8h-1.8zM422.4 133.5h1.8v1.8h-1.8zM423.7 134.0h1.8v1.8h-1.8zM424.7 133.9h1.8v1.8h-1.8zM427.0 133.3h1.8v1.8h-1.8zM428.6 133.3h1.8v1.8h-1.8zM436.7 133.5h1.8v1.8h-1.8zM357.0 134.3h1.8v1.8h-1.8zM357.1 134.2h1.8v1.8h-1.8zM404.3 134.1h1.8v1.8h-1.8zM408.5 134.4h1.8v1.8h-1.8zM410.1 135.0h1.8v1.8h-1.8zM416.8 134.3h1.8v1.8h-1.8zM418.4 134.8h1.8v1.8h-1.8zM419.7 134.7h1.8v1.8h-1.8zM422.0 134.2h1.8v1.8h-1.8zM422.2 134.2h1.8v1.8h-1.8zM423.2 134.3h1.8v1.8h-1.8zM424.5 134.1h1.8v1.8h-1.8zM425.8 134.3h1.8v1.8h-1.8zM434.0 134.7h1.8v1.8h-1.8zM404.6 136.0h1.8v1.8h-1.8zM409.4 135.7h1.8v1.8h-1.8zM410.2 135.1h1.8v1.8h-1.8zM411.9 136.0h1.8v1.8h-1.8zM412.6 135.4h1.8v1.8h-1.8zM416.4 135.8h1.8v1.8h-1.8zM417.1 135.6h1.8v1.8h-1.8zM418.8 135.6h1.8v1.8h-1.8zM421.1 135.4h1.8v1.8h-1.8zM423.3 136.0h1.8v1.8h-1.8zM424.3 135.5h1.8v1.8h-1.8zM425.6 135.5h1.8v1.8h-1.8zM426.6 135.1h1.8v1.8h-1.8zM430.7 135.6h1.8v1.8h-1.8zM431.8 135.8h1.8v1.8h-1.8zM400.5 136.6h1.8v1.8h-1.8zM403.9 137.1h1.8v1.8h-1.8zM406.9 136.9h1.8v1.8h-1.8zM408.5 136.3h1.8v1.8h-1.8zM410.1 136.1h1.8v1.8h-1.8zM415.7 136.9h1.8v1.8h-1.8zM418.3 136.1h1.8v1.8h-1.8zM419.3 136.1h1.8v1.8h-1.8zM422.7 136.5h1.8v1.8h-1.8zM425.7 136.9h1.8v1.8h-1.8zM427.5 137.1h1.8v1.8h-1.8zM402.0 137.9h1.8v1.8h-1.8zM407.6 137.1h1.8v1.8h-1.8zM410.1 137.9h1.8v1.8h-1.8zM411.8 137.4h1.8v1.8h-1.8zM412.7 137.2h1.8v1.8h-1.8zM413.9 137.7h1.8v1.8h-1.8zM414.8 137.2h1.8v1.8h-1.8zM416.3 137.7h1.8v1.8h-1.8zM418.1 137.5h1.8v1.8h-1.8zM418.8 137.4h1.8v1.8h-1.8zM420.2 137.4h1.8v1.8h-1.8zM422.0 137.2h1.8v1.8h-1.8zM423.9 137.2h1.8v1.8h-1.8zM425.1 137.9h1.8v1.8h-1.8zM425.6 138.0h1.8v1.8h-1.8zM432.2 137.7h1.8v1.8h-1.8zM363.7 138.3h1.8v1.8h-1.8zM398.3 138.8h1.8v1.8h-1.8zM409.8 138.1h1.8v1.8h-1.8zM410.3 138.3h1.8v1.8h-1.8zM411.5 138.8h1.8v1.8h-1.8zM414.2 138.2h1.8v1.8h-1.8zM415.8 138.8h1.8v1.8h-1.8zM417.6 138.7h1.8v1.8h-1.8zM418.2 138.9h1.8v1.8h-1.8zM419.2 138.9h1.8v1.8h-1.8zM420.5 138.1h1.8v1.8h-1.8zM423.4 139.1h1.8v1.8h-1.8zM427.2 138.9h1.8v1.8h-1.8zM428.7 138.2h1.8v1.8h-1.8zM429.3 138.2h1.8v1.8h-1.8zM398.0 140.0h1.8v1.8h-1.8zM405.0 139.9h1.8v1.8h-1.8zM406.3 139.9h1.8v1.8h-1.8zM408.6 139.5h1.8v1.8h-1.8zM409.6 139.4h1.8v1.8h-1.8zM411.1 139.2h1.8v1.8h-1.8zM412.6 139.2h1.8v1.8h-1.8zM415.0 140.0h1.8v1.8h-1.8zM416.6 139.8h1.8v1.8h-1.8zM417.7 139.7h1.8v1.8h-1.8zM418.4 139.8h1.8v1.8h-1.8zM420.8 139.2h1.8v1.8h-1.8zM421.5 140.0h1.8v1.8h-1.8zM423.0 139.2h1.8v1.8h-1.8zM423.3 139.7h1.8v1.8h-1.8zM425.5 139.5h1.8v1.8h-1.8zM430.6 139.2h1.8v1.8h-1.8zM431.3 139.3h1.8v1.8h-1.8zM432.7 139.4h1.8v1.8h-1.8zM402.4 140.4h1.8v1.8h-1.8zM408.4 140.3h1.8v1.8h-1.8zM411.4 140.5h1.8v1.8h-1.8zM413.6 140.7h1.8v1.8h-1.8zM414.6 140.2h1.8v1.8h-1.8zM417.0 140.4h1.8v1.8h-1.8zM417.7 140.8h1.8v1.8h-1.8zM418.5 140.8h1.8v1.8h-1.8zM420.1 140.9h1.8v1.8h-1.8zM422.2 140.2h1.8v1.8h-1.8zM423.2 140.1h1.8v1.8h-1.8zM424.2 140.7h1.8v1.8h-1.8zM426.6 140.5h1.8v1.8h-1.8zM431.2 140.2h1.8v1.8h-1.8zM434.9 141.1h1.8v1.8h-1.8zM371.1 141.3h1.8v1.8h-1.8zM402.3 141.8h1.8v1.8h-1.8zM406.7 141.4h1.8v1.8h-1.8zM410.4 142.0h1.8v1.8h-1.8zM413.6 141.8h1.8v1.8h-1.8zM415.8 141.6h1.8v1.8h-1.8zM416.6 141.3h1.8v1.8h-1.8zM418.0 141.3h1.8v1.8h-1.8zM419.2 141.4h1.8v1.8h-1.8zM420.2 141.9h1.8v1.8h-1.8zM421.8 141.9h1.8v1.8h-1.8zM422.9 141.7h1.8v1.8h-1.8zM423.9 141.4h1.8v1.8h-1.8zM428.0 141.3h1.8v1.8h-1.8zM428.9 142.0h1.8v1.8h-1.8zM429.1 142.1h1.8v1.8h-1.8zM364.1 142.5h1.8v1.8h-1.8zM407.4 142.6h1.8v1.8h-1.8zM409.0 142.7h1.8v1.8h-1.8zM410.9 142.5h1.8v1.8h-1.8zM411.2 142.8h1.8v1.8h-1.8zM413.6 142.1h1.8v1.8h-1.8zM414.3 142.9h1.8v1.8h-1.8zM415.4 142.1h1.8v1.8h-1.8zM419.0 142.5h1.8v1.8h-1.8zM419.3 142.7h1.8v1.8h-1.8zM420.3 142.3h1.8v1.8h-1.8zM422.8 142.1h1.8v1.8h-1.8zM424.0 142.3h1.8v1.8h-1.8zM427.9 143.0h1.8v1.8h-1.8zM429.8 142.8h1.8v1.8h-1.8zM395.4 143.7h1.8v1.8h-1.8zM396.1 143.5h1.8v1.8h-1.8zM400.1 143.8h1.8v1.8h-1.8zM403.0 143.6h1.8v1.8h-1.8zM408.8 143.1h1.8v1.8h-1.8zM409.2 143.7h1.8v1.8h-1.8zM410.2 143.6h1.8v1.8h-1.8zM411.7 143.7h1.8v1.8h-1.8zM412.7 143.3h1.8v1.8h-1.8zM414.2 143.3h1.8v1.8h-1.8zM417.6 143.9h1.8v1.8h-1.8zM421.8 143.4h1.8v1.8h-1.8zM422.4 143.9h1.8v1.8h-1.8zM423.5 143.2h1.8v1.8h-1.8zM424.4 144.1h1.8v1.8h-1.8zM425.8 143.3h1.8v1.8h-1.8zM426.1 143.4h1.8v1.8h-1.8zM429.4 143.8h1.8v1.8h-1.8zM352.4 144.9h1.8v1.8h-1.8zM399.9 144.8h1.8v1.8h-1.8zM405.6 144.2h1.8v1.8h-1.8zM408.2 144.7h1.8v1.8h-1.8zM411.0 144.7h1.8v1.8h-1.8zM411.7 144.8h1.8v1.8h-1.8zM412.8 144.6h1.8v1.8h-1.8zM413.3 144.8h1.8v1.8h-1.8zM415.0 144.4h1.8v1.8h-1.8zM416.8 144.6h1.8v1.8h-1.8zM419.8 144.7h1.8v1.8h-1.8zM425.2 144.7h1.8v1.8h-1.8zM435.9 144.8h1.8v1.8h-1.8zM392.3 145.5h1.8v1.8h-1.8zM399.6 145.2h1.8v1.8h-1.8zM403.7 146.0h1.8v1.8h-1.8zM406.0 146.1h1.8v1.8h-1.8zM407.5 145.7h1.8v1.8h-1.8zM409.0 145.9h1.8v1.8h-1.8zM412.0 145.1h1.8v1.8h-1.8zM412.3 145.7h1.8v1.8h-1.8zM413.4 145.9h1.8v1.8h-1.8zM415.7 146.1h1.8v1.8h-1.8zM416.3 145.7h1.8v1.8h-1.8zM417.2 145.8h1.8v1.8h-1.8zM419.8 145.3h1.8v1.8h-1.8zM420.1 145.7h1.8v1.8h-1.8zM421.5 145.3h1.8v1.8h-1.8zM423.9 145.4h1.8v1.8h-1.8zM424.2 145.6h1.8v1.8h-1.8zM432.7 145.6h1.8v1.8h-1.8zM376.9 146.2h1.8v1.8h-1.8zM399.8 146.7h1.8v1.8h-1.8zM403.1 146.3h1.8v1.8h-1.8zM408.9 146.6h1.8v1.8h-1.8zM410.5 146.9h1.8v1.8h-1.8zM412.5 146.4h1.8v1.8h-1.8zM414.7 146.6h1.8v1.8h-1.8zM415.8 147.0h1.8v1.8h-1.8zM419.8 147.0h1.8v1.8h-1.8zM422.4 146.1h1.8v1.8h-1.8zM423.2 147.0h1.8v1.8h-1.8zM427.5 146.3h1.8v1.8h-1.8zM433.9 146.9h1.8v1.8h-1.8zM375.0 147.8h1.8v1.8h-1.8zM404.3 147.4h1.8v1.8h-1.8zM407.1 147.5h1.8v1.8h-1.8zM411.2 147.4h1.8v1.8h-1.8zM416.3 147.4h1.8v1.8h-1.8zM417.7 148.1h1.8v1.8h-1.8zM418.6 147.5h1.8v1.8h-1.8zM420.7 147.8h1.8v1.8h-1.8zM423.1 147.9h1.8v1.8h-1.8zM425.2 147.3h1.8v1.8h-1.8zM375.9 148.6h1.8v1.8h-1.8zM399.9 148.9h1.8v1.8h-1.8zM402.4 148.8h1.8v1.8h-1.8zM404.0 148.2h1.8v1.8h-1.8zM406.7 148.4h1.8v1.8h-1.8zM407.9 148.5h1.8v1.8h-1.8zM410.7 148.5h1.8v1.8h-1.8zM411.4 148.2h1.8v1.8h-1.8zM413.0 148.9h1.8v1.8h-1.8zM413.2 148.5h1.8v1.8h-1.8zM415.3 148.9h1.8v1.8h-1.8zM417.2 148.4h1.8v1.8h-1.8zM419.6 148.9h1.8v1.8h-1.8zM422.1 148.9h1.8v1.8h-1.8zM423.2 148.1h1.8v1.8h-1.8zM424.6 148.6h1.8v1.8h-1.8zM363.0 149.9h1.8v1.8h-1.8zM400.2 149.9h1.8v1.8h-1.8zM401.9 149.9h1.8v1.8h-1.8zM410.6 149.7h1.8v1.8h-1.8zM411.1 149.2h1.8v1.8h-1.8zM413.0 150.0h1.8v1.8h-1.8zM413.4 150.0h1.8v1.8h-1.8zM414.3 149.4h1.8v1.8h-1.8zM415.5 149.2h1.8v1.8h-1.8zM422.0 149.8h1.8v1.8h-1.8zM422.4 149.6h1.8v1.8h-1.8zM427.1 150.0h1.8v1.8h-1.8zM435.2 149.7h1.8v1.8h-1.8zM395.4 150.4h1.8v1.8h-1.8zM396.1 150.8h1.8v1.8h-1.8zM399.0 150.2h1.8v1.8h-1.8zM401.9 151.0h1.8v1.8h-1.8zM406.0 151.1h1.8v1.8h-1.8zM409.1 150.5h1.8v1.8h-1.8zM410.4 150.4h1.8v1.8h-1.8zM411.9 150.5h1.8v1.8h-1.8zM414.3 150.1h1.8v1.8h-1.8zM415.8 150.6h1.8v1.8h-1.8zM416.8 150.1h1.8v1.8h-1.8zM417.7 150.5h1.8v1.8h-1.8zM419.9 150.7h1.8v1.8h-1.8zM420.6 150.9h1.8v1.8h-1.8zM423.1 150.7h1.8v1.8h-1.8zM426.9 150.7h1.8v1.8h-1.8zM398.5 151.9h1.8v1.8h-1.8zM408.0 151.4h1.8v1.8h-1.8zM408.7 152.0h1.8v1.8h-1.8zM410.2 151.7h1.8v1.8h-1.8zM411.9 151.3h1.8v1.8h-1.8zM412.8 151.8h1.8v1.8h-1.8zM414.2 151.1h1.8v1.8h-1.8zM415.6 151.6h1.8v1.8h-1.8zM416.5 151.4h1.8v1.8h-1.8zM421.0 151.6h1.8v1.8h-1.8zM423.7 152.0h1.8v1.8h-1.8zM426.1 152.0h1.8v1.8h-1.8zM427.0 151.2h1.8v1.8h-1.8zM430.4 151.7h1.8v1.8h-1.8zM355.9 152.1h1.8v1.8h-1.8zM369.2 152.3h1.8v1.8h-1.8zM373.3 152.4h1.8v1.8h-1.8zM401.2 152.2h1.8v1.8h-1.8zM402.4 153.0h1.8v1.8h-1.8zM404.1 152.6h1.8v1.8h-1.8zM405.8 152.8h1.8v1.8h-1.8zM406.6 152.6h1.8v1.8h-1.8zM407.2 152.2h1.8v1.8h-1.8zM409.2 153.0h1.8v1.8h-1.8zM410.6 152.7h1.8v1.8h-1.8zM415.0 152.5h1.8v1.8h-1.8zM416.0 152.2h1.8v1.8h-1.8zM420.8 152.4h1.8v1.8h-1.8zM422.6 152.7h1.8v1.8h-1.8zM360.3 153.8h1.8v1.8h-1.8zM370.1 153.5h1.8v1.8h-1.8zM371.3 154.1h1.8v1.8h-1.8zM403.2 153.7h1.8v1.8h-1.8zM404.2 153.9h1.8v1.8h-1.8zM416.2 153.8h1.8v1.8h-1.8zM418.9 153.1h1.8v1.8h-1.8zM420.5 153.3h1.8v1.8h-1.8zM395.7 155.1h1.8v1.8h-1.8zM396.9 154.3h1.8v1.8h-1.8zM403.0 154.1h1.8v1.8h-1.8zM403.8 154.8h1.8v1.8h-1.8zM404.7 154.3h1.8v1.8h-1.8zM405.9 154.7h1.8v1.8h-1.8zM407.5 155.0h1.8v1.8h-1.8zM408.9 154.1h1.8v1.8h-1.8zM410.3 154.1h1.8v1.8h-1.8zM413.4 154.2h1.8v1.8h-1.8zM414.7 154.1h1.8v1.8h-1.8zM417.2 154.6h1.8v1.8h-1.8zM420.5 154.8h1.8v1.8h-1.8zM422.5 154.1h1.8v1.8h-1.8zM426.2 154.3h1.8v1.8h-1.8zM364.8 156.0h1.8v1.8h-1.8zM395.8 155.2h1.8v1.8h-1.8zM398.7 156.0h1.8v1.8h-1.8zM407.8 155.2h1.8v1.8h-1.8zM409.1 155.8h1.8v1.8h-1.8zM410.2 155.3h1.8v1.8h-1.8zM411.4 155.1h1.8v1.8h-1.8zM412.6 155.7h1.8v1.8h-1.8zM413.4 155.7h1.8v1.8h-1.8zM414.8 155.7h1.8v1.8h-1.8zM416.4 155.6h1.8v1.8h-1.8zM417.6 155.4h1.8v1.8h-1.8zM418.2 155.7h1.8v1.8h-1.8zM420.8 156.0h1.8v1.8h-1.8zM378.9 156.5h1.8v1.8h-1.8zM397.9 157.0h1.8v1.8h-1.8zM401.8 156.3h1.8v1.8h-1.8zM404.2 157.1h1.8v1.8h-1.8zM407.2 156.2h1.8v1.8h-1.8zM408.4 156.7h1.8v1.8h-1.8zM409.4 156.5h1.8v1.8h-1.8zM410.4 156.4h1.8v1.8h-1.8zM411.9 156.8h1.8v1.8h-1.8zM412.6 157.1h1.8v1.8h-1.8zM413.1 157.0h1.8v1.8h-1.8zM414.2 156.8h1.8v1.8h-1.8zM417.0 156.3h1.8v1.8h-1.8zM417.7 156.7h1.8v1.8h-1.8zM418.2 156.9h1.8v1.8h-1.8zM420.0 156.7h1.8v1.8h-1.8zM420.2 156.4h1.8v1.8h-1.8zM430.2 157.0h1.8v1.8h-1.8zM435.3 157.1h1.8v1.8h-1.8zM398.4 157.8h1.8v1.8h-1.8zM402.0 157.5h1.8v1.8h-1.8zM407.1 157.5h1.8v1.8h-1.8zM410.3 157.5h1.8v1.8h-1.8zM411.6 158.0h1.8v1.8h-1.8zM419.0 157.7h1.8v1.8h-1.8zM419.6 157.8h1.8v1.8h-1.8zM420.7 157.2h1.8v1.8h-1.8zM422.2 157.1h1.8v1.8h-1.8zM430.7 157.7h1.8v1.8h-1.8zM377.5 158.9h1.8v1.8h-1.8zM391.8 159.0h1.8v1.8h-1.8zM397.8 158.4h1.8v1.8h-1.8zM398.7 158.8h1.8v1.8h-1.8zM405.4 158.6h1.8v1.8h-1.8zM406.4 158.2h1.8v1.8h-1.8zM413.7 158.4h1.8v1.8h-1.8zM415.6 158.3h1.8v1.8h-1.8zM416.9 158.2h1.8v1.8h-1.8zM417.3 159.0h1.8v1.8h-1.8zM420.0 158.5h1.8v1.8h-1.8zM420.9 158.4h1.8v1.8h-1.8zM355.2 159.7h1.8v1.8h-1.8zM362.0 159.7h1.8v1.8h-1.8zM379.1 160.0h1.8v1.8h-1.8zM403.5 159.8h1.8v1.8h-1.8zM412.7 159.8h1.8v1.8h-1.8zM413.8 159.4h1.8v1.8h-1.8zM414.3 159.6h1.8v1.8h-1.8zM416.8 159.2h1.8v1.8h-1.8zM418.8 159.3h1.8v1.8h-1.8zM422.0 159.8h1.8v1.8h-1.8zM426.6 159.4h1.8v1.8h-1.8zM431.7 160.0h1.8v1.8h-1.8zM434.2 159.8h1.8v1.8h-1.8zM399.4 160.6h1.8v1.8h-1.8zM405.9 161.1h1.8v1.8h-1.8zM406.3 160.4h1.8v1.8h-1.8zM408.0 160.6h1.8v1.8h-1.8zM410.8 160.3h1.8v1.8h-1.8zM411.1 161.0h1.8v1.8h-1.8zM412.2 160.8h1.8v1.8h-1.8zM413.4 161.0h1.8v1.8h-1.8zM414.8 160.4h1.8v1.8h-1.8zM419.3 160.4h1.8v1.8h-1.8zM365.9 161.7h1.8v1.8h-1.8zM377.9 161.3h1.8v1.8h-1.8zM402.0 161.4h1.8v1.8h-1.8zM404.4 162.1h1.8v1.8h-1.8zM405.7 161.5h1.8v1.8h-1.8zM409.0 161.9h1.8v1.8h-1.8zM411.9 161.1h1.8v1.8h-1.8zM413.7 161.4h1.8v1.8h-1.8zM414.4 161.9h1.8v1.8h-1.8zM415.2 161.5h1.8v1.8h-1.8zM418.0 161.8h1.8v1.8h-1.8zM419.0 161.4h1.8v1.8h-1.8zM421.0 161.5h1.8v1.8h-1.8zM421.6 161.7h1.8v1.8h-1.8zM423.0 161.1h1.8v1.8h-1.8zM428.0 161.7h1.8v1.8h-1.8zM367.1 162.9h1.8v1.8h-1.8zM375.3 162.5h1.8v1.8h-1.8zM390.1 162.8h1.8v1.8h-1.8zM398.5 163.0h1.8v1.8h-1.8zM399.8 162.3h1.8v1.8h-1.8zM401.3 162.3h1.8v1.8h-1.8zM402.3 162.9h1.8v1.8h-1.8zM403.3 162.5h1.8v1.8h-1.8zM404.6 162.6h1.8v1.8h-1.8zM405.5 163.0h1.8v1.8h-1.8zM407.2 162.3h1.8v1.8h-1.8zM409.7 163.0h1.8v1.8h-1.8zM412.8 162.1h1.8v1.8h-1.8zM413.5 162.7h1.8v1.8h-1.8zM418.8 162.5h1.8v1.8h-1.8zM421.4 163.0h1.8v1.8h-1.8zM422.6 162.5h1.8v1.8h-1.8zM424.7 162.7h1.8v1.8h-1.8zM362.5 163.9h1.8v1.8h-1.8zM378.5 163.1h1.8v1.8h-1.8zM396.5 163.3h1.8v1.8h-1.8zM398.4 163.5h1.8v1.8h-1.8zM399.3 164.0h1.8v1.8h-1.8zM402.2 163.2h1.8v1.8h-1.8zM404.8 163.2h1.8v1.8h-1.8zM406.1 163.7h1.8v1.8h-1.8zM407.7 163.5h1.8v1.8h-1.8zM408.7 164.0h1.8v1.8h-1.8zM410.7 163.6h1.8v1.8h-1.8zM412.8 163.3h1.8v1.8h-1.8zM413.2 163.2h1.8v1.8h-1.8zM414.9 163.7h1.8v1.8h-1.8zM415.2 163.2h1.8v1.8h-1.8zM416.7 163.2h1.8v1.8h-1.8zM419.8 163.4h1.8v1.8h-1.8zM420.6 163.6h1.8v1.8h-1.8zM422.4 163.9h1.8v1.8h-1.8zM357.8 164.5h1.8v1.8h-1.8zM367.5 164.4h1.8v1.8h-1.8zM393.4 164.2h1.8v1.8h-1.8zM407.0 164.8h1.8v1.8h-1.8zM407.5 164.4h1.8v1.8h-1.8zM408.5 164.7h1.8v1.8h-1.8zM411.5 164.6h1.8v1.8h-1.8zM415.2 164.9h1.8v1.8h-1.8zM417.6 164.8h1.8v1.8h-1.8zM419.3 165.0h1.8v1.8h-1.8zM393.2 166.0h1.8v1.8h-1.8zM403.4 165.3h1.8v1.8h-1.8zM406.8 165.8h1.8v1.8h-1.8zM410.1 165.3h1.8v1.8h-1.8zM411.8 165.3h1.8v1.8h-1.8zM413.4 165.5h1.8v1.8h-1.8zM417.4 165.7h1.8v1.8h-1.8zM418.7 165.2h1.8v1.8h-1.8zM422.3 165.5h1.8v1.8h-1.8zM362.8 166.8h1.8v1.8h-1.8zM363.8 166.6h1.8v1.8h-1.8zM386.2 166.2h1.8v1.8h-1.8zM398.5 166.2h1.8v1.8h-1.8zM400.3 166.6h1.8v1.8h-1.8zM401.3 166.9h1.8v1.8h-1.8zM407.0 166.8h1.8v1.8h-1.8zM408.3 166.2h1.8v1.8h-1.8zM410.1 166.9h1.8v1.8h-1.8zM410.6 166.9h1.8v1.8h-1.8zM411.3 166.3h1.8v1.8h-1.8zM415.0 166.3h1.8v1.8h-1.8zM415.8 166.7h1.8v1.8h-1.8zM418.9 166.2h1.8v1.8h-1.8zM420.8 166.3h1.8v1.8h-1.8zM357.2 167.6h1.8v1.8h-1.8zM383.8 167.5h1.8v1.8h-1.8zM400.6 168.0h1.8v1.8h-1.8zM401.4 167.4h1.8v1.8h-1.8zM402.2 168.1h1.8v1.8h-1.8zM404.9 168.0h1.8v1.8h-1.8zM406.4 167.3h1.8v1.8h-1.8zM409.3 167.5h1.8v1.8h-1.8zM410.5 167.2h1.8v1.8h-1.8zM414.0 167.4h1.8v1.8h-1.8zM419.8 167.6h1.8v1.8h-1.8zM423.7 167.7h1.8v1.8h-1.8zM402.0 169.0h1.8v1.8h-1.8zM403.0 168.2h1.8v1.8h-1.8zM406.9 168.8h1.8v1.8h-1.8zM409.5 168.4h1.8v1.8h-1.8zM413.4 169.0h1.8v1.8h-1.8zM418.9 168.9h1.8v1.8h-1.8zM419.9 168.7h1.8v1.8h-1.8zM357.9 169.2h1.8v1.8h-1.8zM360.9 170.1h1.8v1.8h-1.8zM366.8 170.0h1.8v1.8h-1.8zM368.6 169.3h1.8v1.8h-1.8zM375.5 169.8h1.8v1.8h-1.8zM378.8 169.8h1.8v1.8h-1.8zM393.2 170.0h1.8v1.8h-1.8zM403.2 170.0h1.8v1.8h-1.8zM404.3 169.3h1.8v1.8h-1.8zM408.5 170.1h1.8v1.8h-1.8zM409.8 169.9h1.8v1.8h-1.8zM411.5 169.3h1.8v1.8h-1.8zM414.3 169.8h1.8v1.8h-1.8zM416.8 169.2h1.8v1.8h-1.8zM395.7 170.5h1.8v1.8h-1.8zM406.9 170.7h1.8v1.8h-1.8zM407.5 170.2h1.8v1.8h-1.8zM409.1 171.1h1.8v1.8h-1.8zM409.2 170.7h1.8v1.8h-1.8zM418.9 170.6h1.8v1.8h-1.8zM420.2 170.9h1.8v1.8h-1.8zM422.3 170.9h1.8v1.8h-1.8zM431.4 170.3h1.8v1.8h-1.8zM397.7 171.5h1.8v1.8h-1.8zM398.2 172.0h1.8v1.8h-1.8zM400.0 171.9h1.8v1.8h-1.8zM400.5 171.9h1.8v1.8h-1.8zM403.8 171.6h1.8v1.8h-1.8zM405.0 171.6h1.8v1.8h-1.8zM409.2 171.5h1.8v1.8h-1.8zM410.9 171.7h1.8v1.8h-1.8zM411.4 171.4h1.8v1.8h-1.8zM412.7 171.6h1.8v1.8h-1.8zM417.7 171.2h1.8v1.8h-1.8zM419.7 171.7h1.8v1.8h-1.8zM421.1 171.8h1.8v1.8h-1.8zM429.0 172.1h1.8v1.8h-1.8zM429.9 171.5h1.8v1.8h-1.8zM367.3 173.1h1.8v1.8h-1.8zM381.9 172.9h1.8v1.8h-1.8zM390.6 173.1h1.8v1.8h-1.8zM396.8 172.9h1.8v1.8h-1.8zM398.1 172.8h1.8v1.8h-1.8zM400.7 172.2h1.8v1.8h-1.8zM406.3 172.7h1.8v1.8h-1.8zM409.9 172.8h1.8v1.8h-1.8zM410.2 172.3h1.8v1.8h-1.8zM412.2 172.8h1.8v1.8h-1.8zM413.7 172.4h1.8v1.8h-1.8zM417.8 172.7h1.8v1.8h-1.8zM419.0 172.3h1.8v1.8h-1.8zM419.6 172.8h1.8v1.8h-1.8zM430.5 172.4h1.8v1.8h-1.8zM351.9 173.4h1.8v1.8h-1.8zM356.6 173.2h1.8v1.8h-1.8zM364.3 173.2h1.8v1.8h-1.8zM372.8 173.9h1.8v1.8h-1.8zM394.9 173.3h1.8v1.8h-1.8zM402.2 173.2h1.8v1.8h-1.8zM407.2 173.2h1.8v1.8h-1.8zM409.2 174.0h1.8v1.8h-1.8zM411.0 173.8h1.8v1.8h-1.8zM411.6 173.6h1.8v1.8h-1.8zM414.9 174.1h1.8v1.8h-1.8zM361.4 174.4h1.8v1.8h-1.8zM366.9 174.4h1.8v1.8h-1.8zM382.0 174.5h1.8v1.8h-1.8zM386.9 174.9h1.8v1.8h-1.8zM387.8 175.1h1.8v1.8h-1.8zM391.0 174.8h1.8v1.8h-1.8zM393.4 174.4h1.8v1.8h-1.8zM394.2 174.2h1.8v1.8h-1.8zM397.4 174.9h1.8v1.8h-1.8zM399.1 174.7h1.8v1.8h-1.8zM402.7 174.2h1.8v1.8h-1.8zM404.8 174.5h1.8v1.8h-1.8zM409.0 174.9h1.8v1.8h-1.8zM409.5 174.7h1.8v1.8h-1.8zM412.9 174.9h1.8v1.8h-1.8zM417.2 174.7h1.8v1.8h-1.8zM340.8 175.7h1.8v1.8h-1.8zM388.0 175.1h1.8v1.8h-1.8zM399.0 176.1h1.8v1.8h-1.8zM399.3 175.9h1.8v1.8h-1.8zM407.5 175.4h1.8v1.8h-1.8zM408.9 175.3h1.8v1.8h-1.8zM410.7 175.7h1.8v1.8h-1.8zM413.0 175.1h1.8v1.8h-1.8zM414.8 175.4h1.8v1.8h-1.8zM416.6 176.0h1.8v1.8h-1.8zM417.8 176.0h1.8v1.8h-1.8zM371.6 176.6h1.8v1.8h-1.8zM372.6 176.9h1.8v1.8h-1.8zM377.1 176.9h1.8v1.8h-1.8zM396.0 176.7h1.8v1.8h-1.8zM397.7 176.5h1.8v1.8h-1.8zM400.4 176.5h1.8v1.8h-1.8zM401.6 176.6h1.8v1.8h-1.8zM404.8 176.2h1.8v1.8h-1.8zM406.0 176.5h1.8v1.8h-1.8zM407.6 176.9h1.8v1.8h-1.8zM408.6 176.6h1.8v1.8h-1.8zM409.5 176.6h1.8v1.8h-1.8zM411.4 176.4h1.8v1.8h-1.8zM414.5 176.8h1.8v1.8h-1.8zM416.3 176.2h1.8v1.8h-1.8zM418.0 176.1h1.8v1.8h-1.8zM418.4 177.0h1.8v1.8h-1.8zM419.2 176.4h1.8v1.8h-1.8zM420.6 176.3h1.8v1.8h-1.8zM436.8 176.9h1.8v1.8h-1.8zM392.7 177.5h1.8v1.8h-1.8zM395.9 178.1h1.8v1.8h-1.8zM397.6 177.6h1.8v1.8h-1.8zM400.9 177.4h1.8v1.8h-1.8zM403.9 177.8h1.8v1.8h-1.8zM404.8 177.8h1.8v1.8h-1.8zM406.2 177.3h1.8v1.8h-1.8zM408.7 177.4h1.8v1.8h-1.8zM411.4 177.4h1.8v1.8h-1.8zM416.7 177.3h1.8v1.8h-1.8zM418.4 178.1h1.8v1.8h-1.8zM420.2 177.4h1.8v1.8h-1.8zM361.0 178.3h1.8v1.8h-1.8zM371.8 179.1h1.8v1.8h-1.8zM388.4 178.4h1.8v1.8h-1.8zM393.4 178.4h1.8v1.8h-1.8zM397.5 178.4h1.8v1.8h-1.8zM401.7 178.9h1.8v1.8h-1.8zM406.5 178.4h1.8v1.8h-1.8zM409.0 178.9h1.8v1.8h-1.8zM410.7 178.2h1.8v1.8h-1.8zM414.8 178.3h1.8v1.8h-1.8zM420.2 178.2h1.8v1.8h-1.8zM422.0 178.6h1.8v1.8h-1.8zM431.3 178.3h1.8v1.8h-1.8zM359.0 180.1h1.8v1.8h-1.8zM383.8 179.3h1.8v1.8h-1.8zM390.4 179.2h1.8v1.8h-1.8zM394.5 179.5h1.8v1.8h-1.8zM397.7 180.1h1.8v1.8h-1.8zM398.6 179.7h1.8v1.8h-1.8zM402.8 179.2h1.8v1.8h-1.8zM403.5 180.1h1.8v1.8h-1.8zM406.0 179.7h1.8v1.8h-1.8zM407.5 179.1h1.8v1.8h-1.8zM408.5 179.2h1.8v1.8h-1.8zM413.8 179.7h1.8v1.8h-1.8zM414.9 179.6h1.8v1.8h-1.8zM415.7 179.4h1.8v1.8h-1.8zM416.7 179.3h1.8v1.8h-1.8zM366.8 181.1h1.8v1.8h-1.8zM376.0 180.3h1.8v1.8h-1.8zM391.2 180.1h1.8v1.8h-1.8zM395.9 180.7h1.8v1.8h-1.8zM398.5 180.8h1.8v1.8h-1.8zM401.2 181.0h1.8v1.8h-1.8zM403.4 180.4h1.8v1.8h-1.8zM407.2 180.1h1.8v1.8h-1.8zM412.5 180.4h1.8v1.8h-1.8zM419.5 180.7h1.8v1.8h-1.8zM374.9 181.6h1.8v1.8h-1.8zM399.7 181.5h1.8v1.8h-1.8zM402.6 182.1h1.8v1.8h-1.8zM405.0 181.8h1.8v1.8h-1.8zM407.5 181.5h1.8v1.8h-1.8zM410.6 182.0h1.8v1.8h-1.8zM422.1 181.9h1.8v1.8h-1.8zM422.6 182.1h1.8v1.8h-1.8zM383.1 182.6h1.8v1.8h-1.8zM388.9 182.2h1.8v1.8h-1.8zM389.4 182.2h1.8v1.8h-1.8zM400.1 182.4h1.8v1.8h-1.8zM404.0 182.8h1.8v1.8h-1.8zM404.2 182.6h1.8v1.8h-1.8zM406.6 183.0h1.8v1.8h-1.8zM407.5 183.0h1.8v1.8h-1.8zM411.5 182.4h1.8v1.8h-1.8zM413.6 182.7h1.8v1.8h-1.8zM415.5 182.2h1.8v1.8h-1.8zM367.9 183.4h1.8v1.8h-1.8zM387.9 183.7h1.8v1.8h-1.8zM388.8 183.3h1.8v1.8h-1.8zM392.4 183.3h1.8v1.8h-1.8zM396.9 183.2h1.8v1.8h-1.8zM398.9 183.6h1.8v1.8h-1.8zM400.0 183.8h1.8v1.8h-1.8zM401.1 183.2h1.8v1.8h-1.8zM402.0 183.5h1.8v1.8h-1.8zM402.5 184.0h1.8v1.8h-1.8zM403.5 183.6h1.8v1.8h-1.8zM404.1 183.7h1.8v1.8h-1.8zM407.7 183.2h1.8v1.8h-1.8zM410.0 183.3h1.8v1.8h-1.8zM422.4 184.1h1.8v1.8h-1.8zM349.7 184.6h1.8v1.8h-1.8zM359.4 184.5h1.8v1.8h-1.8zM385.9 184.7h1.8v1.8h-1.8zM387.4 184.4h1.8v1.8h-1.8zM390.9 185.1h1.8v1.8h-1.8zM393.5 184.7h1.8v1.8h-1.8zM400.7 184.7h1.8v1.8h-1.8zM402.0 184.7h1.8v1.8h-1.8zM403.2 184.7h1.8v1.8h-1.8zM407.0 184.5h1.8v1.8h-1.8zM407.2 185.0h1.8v1.8h-1.8zM409.4 185.1h1.8v1.8h-1.8zM410.8 184.6h1.8v1.8h-1.8zM414.6 184.3h1.8v1.8h-1.8zM416.4 185.0h1.8v1.8h-1.8zM425.6 184.7h1.8v1.8h-1.8zM344.7 185.4h1.8v1.8h-1.8zM373.7 185.4h1.8v1.8h-1.8zM387.2 185.9h1.8v1.8h-1.8zM392.6 185.8h1.8v1.8h-1.8zM395.3 185.4h1.8v1.8h-1.8zM399.8 185.5h1.8v1.8h-1.8zM400.2 186.0h1.8v1.8h-1.8zM401.2 186.0h1.8v1.8h-1.8zM402.6 185.4h1.8v1.8h-1.8zM406.7 185.8h1.8v1.8h-1.8zM407.9 185.6h1.8v1.8h-1.8zM410.0 185.6h1.8v1.8h-1.8zM412.9 186.1h1.8v1.8h-1.8zM413.9 185.6h1.8v1.8h-1.8zM415.0 185.6h1.8v1.8h-1.8zM362.5 186.7h1.8v1.8h-1.8zM369.9 186.4h1.8v1.8h-1.8zM375.6 186.3h1.8v1.8h-1.8zM386.6 186.6h1.8v1.8h-1.8zM389.8 186.8h1.8v1.8h-1.8zM390.6 186.5h1.8v1.8h-1.8zM393.6 186.3h1.8v1.8h-1.8zM399.1 186.2h1.8v1.8h-1.8zM400.6 186.9h1.8v1.8h-1.8zM401.8 186.3h1.8v1.8h-1.8zM403.1 186.1h1.8v1.8h-1.8zM406.7 187.1h1.8v1.8h-1.8zM408.9 186.9h1.8v1.8h-1.8zM412.2 186.7h1.8v1.8h-1.8zM413.5 186.7h1.8v1.8h-1.8zM414.3 186.3h1.8v1.8h-1.8zM415.7 186.6h1.8v1.8h-1.8zM420.0 186.2h1.8v1.8h-1.8zM421.4 186.3h1.8v1.8h-1.8zM356.2 188.1h1.8v1.8h-1.8zM361.5 187.5h1.8v1.8h-1.8zM366.5 187.2h1.8v1.8h-1.8zM373.6 187.6h1.8v1.8h-1.8zM383.4 187.6h1.8v1.8h-1.8zM387.7 187.9h1.8v1.8h-1.8zM395.3 187.3h1.8v1.8h-1.8zM396.3 187.3h1.8v1.8h-1.8zM399.0 187.3h1.8v1.8h-1.8zM400.0 187.7h1.8v1.8h-1.8zM402.6 187.1h1.8v1.8h-1.8zM404.0 187.5h1.8v1.8h-1.8zM405.5 187.4h1.8v1.8h-1.8zM406.6 187.5h1.8v1.8h-1.8zM408.5 187.6h1.8v1.8h-1.8zM412.2 187.5h1.8v1.8h-1.8zM413.8 187.3h1.8v1.8h-1.8zM415.1 187.5h1.8v1.8h-1.8zM416.9 187.9h1.8v1.8h-1.8zM428.5 187.3h1.8v1.8h-1.8zM356.0 188.8h1.8v1.8h-1.8zM356.6 188.4h1.8v1.8h-1.8zM365.0 189.0h1.8v1.8h-1.8zM380.4 188.3h1.8v1.8h-1.8zM386.1 189.0h1.8v1.8h-1.8zM390.0 188.6h1.8v1.8h-1.8zM396.8 188.7h1.8v1.8h-1.8zM398.5 189.1h1.8v1.8h-1.8zM399.3 188.4h1.8v1.8h-1.8zM400.7 188.4h1.8v1.8h-1.8zM401.2 188.6h1.8v1.8h-1.8zM403.1 188.2h1.8v1.8h-1.8zM404.8 188.8h1.8v1.8h-1.8zM406.7 188.4h1.8v1.8h-1.8zM409.8 188.9h1.8v1.8h-1.8zM410.4 189.0h1.8v1.8h-1.8zM411.8 188.6h1.8v1.8h-1.8zM412.8 188.4h1.8v1.8h-1.8zM414.7 189.0h1.8v1.8h-1.8zM415.7 188.2h1.8v1.8h-1.8zM416.1 188.2h1.8v1.8h-1.8zM418.9 188.2h1.8v1.8h-1.8zM364.9 190.1h1.8v1.8h-1.8zM380.3 189.9h1.8v1.8h-1.8zM382.5 189.9h1.8v1.8h-1.8zM389.4 189.8h1.8v1.8h-1.8zM391.1 189.3h1.8v1.8h-1.8zM393.7 189.2h1.8v1.8h-1.8zM394.1 190.0h1.8v1.8h-1.8zM398.5 189.3h1.8v1.8h-1.8zM399.7 189.7h1.8v1.8h-1.8zM400.8 190.0h1.8v1.8h-1.8zM403.2 189.7h1.8v1.8h-1.8zM405.1 189.2h1.8v1.8h-1.8zM407.0 190.0h1.8v1.8h-1.8zM409.1 189.8h1.8v1.8h-1.8zM411.3 189.6h1.8v1.8h-1.8zM412.5 189.2h1.8v1.8h-1.8zM413.2 190.0h1.8v1.8h-1.8zM415.6 189.6h1.8v1.8h-1.8zM417.0 189.5h1.8v1.8h-1.8zM349.3 190.5h1.8v1.8h-1.8zM366.5 190.4h1.8v1.8h-1.8zM372.6 190.6h1.8v1.8h-1.8zM388.5 191.0h1.8v1.8h-1.8zM390.2 190.7h1.8v1.8h-1.8zM392.6 190.5h1.8v1.8h-1.8zM394.6 190.5h1.8v1.8h-1.8zM395.9 190.8h1.8v1.8h-1.8zM397.1 191.1h1.8v1.8h-1.8zM398.5 190.5h1.8v1.8h-1.8zM400.1 191.1h1.8v1.8h-1.8zM401.8 190.5h1.8v1.8h-1.8zM402.6 190.6h1.8v1.8h-1.8zM403.3 190.4h1.8v1.8h-1.8zM404.2 190.8h1.8v1.8h-1.8zM405.1 190.1h1.8v1.8h-1.8zM406.9 190.3h1.8v1.8h-1.8zM407.8 190.4h1.8v1.8h-1.8zM411.0 190.6h1.8v1.8h-1.8zM411.7 191.0h1.8v1.8h-1.8zM412.5 190.7h1.8v1.8h-1.8zM414.3 191.0h1.8v1.8h-1.8zM415.2 190.1h1.8v1.8h-1.8zM417.2 190.5h1.8v1.8h-1.8zM418.8 190.3h1.8v1.8h-1.8zM365.8 191.9h1.8v1.8h-1.8zM376.5 192.0h1.8v1.8h-1.8zM385.0 191.4h1.8v1.8h-1.8zM390.4 191.9h1.8v1.8h-1.8zM391.9 191.8h1.8v1.8h-1.8zM392.8 191.4h1.8v1.8h-1.8zM394.0 191.8h1.8v1.8h-1.8zM395.2 191.4h1.8v1.8h-1.8zM398.8 191.2h1.8v1.8h-1.8zM399.8 191.8h1.8v1.8h-1.8zM401.1 191.8h1.8v1.8h-1.8zM404.0 191.1h1.8v1.8h-1.8zM405.0 191.2h1.8v1.8h-1.8zM405.2 192.0h1.8v1.8h-1.8zM407.0 191.3h1.8v1.8h-1.8zM407.9 191.3h1.8v1.8h-1.8zM408.6 191.8h1.8v1.8h-1.8zM411.0 191.9h1.8v1.8h-1.8zM414.1 191.4h1.8v1.8h-1.8zM414.5 191.8h1.8v1.8h-1.8zM415.7 191.2h1.8v1.8h-1.8zM416.6 191.8h1.8v1.8h-1.8zM418.0 191.2h1.8v1.8h-1.8zM418.8 191.8h1.8v1.8h-1.8zM427.0 191.5h1.8v1.8h-1.8zM432.9 191.4h1.8v1.8h-1.8zM343.5 192.2h1.8v1.8h-1.8zM360.8 192.9h1.8v1.8h-1.8zM372.4 192.2h1.8v1.8h-1.8zM381.5 192.6h1.8v1.8h-1.8zM384.1 192.9h1.8v1.8h-1.8zM385.5 192.5h1.8v1.8h-1.8zM388.2 192.5h1.8v1.8h-1.8zM392.8 192.4h1.8v1.8h-1.8zM393.3 192.5h1.8v1.8h-1.8zM398.0 192.9h1.8v1.8h-1.8zM398.8 193.0h1.8v1.8h-1.8zM401.3 193.0h1.8v1.8h-1.8zM402.5 193.1h1.8v1.8h-1.8zM404.8 192.8h1.8v1.8h-1.8zM405.5 192.6h1.8v1.8h-1.8zM407.0 192.7h1.8v1.8h-1.8zM407.4 192.8h1.8v1.8h-1.8zM409.1 192.6h1.8v1.8h-1.8zM410.4 192.3h1.8v1.8h-1.8zM413.8 193.0h1.8v1.8h-1.8zM414.5 192.8h1.8v1.8h-1.8zM416.4 192.3h1.8v1.8h-1.8zM422.6 192.8h1.8v1.8h-1.8zM428.4 192.9h1.8v1.8h-1.8zM363.0 193.5h1.8v1.8h-1.8zM372.8 193.2h1.8v1.8h-1.8zM381.1 193.8h1.8v1.8h-1.8zM388.3 193.5h1.8v1.8h-1.8zM389.3 193.3h1.8v1.8h-1.8zM391.6 193.5h1.8v1.8h-1.8zM394.0 193.9h1.8v1.8h-1.8zM394.4 193.3h1.8v1.8h-1.8zM396.1 193.2h1.8v1.8h-1.8zM396.8 193.4h1.8v1.8h-1.8zM398.1 193.9h1.8v1.8h-1.8zM399.1 193.5h1.8v1.8h-1.8zM402.8 193.6h1.8v1.8h-1.8zM403.5 194.0h1.8v1.8h-1.8zM404.9 193.2h1.8v1.8h-1.8zM407.0 194.0h1.8v1.8h-1.8zM409.0 194.1h1.8v1.8h-1.8zM409.1 193.1h1.8v1.8h-1.8zM410.7 193.6h1.8v1.8h-1.8zM412.4 193.6h1.8v1.8h-1.8zM413.3 194.1h1.8v1.8h-1.8zM416.1 193.1h1.8v1.8h-1.8zM417.2 193.4h1.8v1.8h-1.8zM419.0 193.8h1.8v1.8h-1.8zM420.0 193.3h1.8v1.8h-1.8zM426.9 193.8h1.8v1.8h-1.8zM344.6 194.4h1.8v1.8h-1.8zM360.1 194.8h1.8v1.8h-1.8zM379.1 194.4h1.8v1.8h-1.8zM384.0 194.9h1.8v1.8h-1.8zM385.7 194.9h1.8v1.8h-1.8zM391.3 194.9h1.8v1.8h-1.8zM392.3 195.1h1.8v1.8h-1.8zM395.7 195.0h1.8v1.8h-1.8zM396.1 194.3h1.8v1.8h-1.8zM399.0 194.3h1.8v1.8h-1.8zM399.7 194.5h1.8v1.8h-1.8zM400.1 194.3h1.8v1.8h-1.8zM401.5 194.2h1.8v1.8h-1.8zM402.8 195.0h1.8v1.8h-1.8zM403.8 195.0h1.8v1.8h-1.8zM405.7 194.4h1.8v1.8h-1.8zM406.4 194.3h1.8v1.8h-1.8zM407.4 194.6h1.8v1.8h-1.8zM408.3 194.6h1.8v1.8h-1.8zM409.9 194.3h1.8v1.8h-1.8zM410.4 194.5h1.8v1.8h-1.8zM412.5 194.9h1.8v1.8h-1.8zM414.2 194.4h1.8v1.8h-1.8zM416.1 194.6h1.8v1.8h-1.8zM417.5 194.4h1.8v1.8h-1.8zM418.9 194.8h1.8v1.8h-1.8zM421.0 194.4h1.8v1.8h-1.8zM421.6 194.5h1.8v1.8h-1.8zM343.8 195.3h1.8v1.8h-1.8zM355.6 195.5h1.8v1.8h-1.8zM356.9 195.7h1.8v1.8h-1.8zM373.7 195.5h1.8v1.8h-1.8zM386.5 195.2h1.8v1.8h-1.8zM388.3 195.6h1.8v1.8h-1.8zM389.8 195.2h1.8v1.8h-1.8zM391.4 196.1h1.8v1.8h-1.8zM392.2 195.3h1.8v1.8h-1.8zM393.1 195.5h1.8v1.8h-1.8zM394.6 195.8h1.8v1.8h-1.8zM395.1 195.2h1.8v1.8h-1.8zM396.3 195.8h1.8v1.8h-1.8zM399.1 195.5h1.8v1.8h-1.8zM400.5 196.1h1.8v1.8h-1.8zM401.5 195.5h1.8v1.8h-1.8zM403.8 196.1h1.8v1.8h-1.8zM404.3 195.8h1.8v1.8h-1.8zM405.1 195.9h1.8v1.8h-1.8zM406.7 195.4h1.8v1.8h-1.8zM407.3 195.3h1.8v1.8h-1.8zM408.9 195.5h1.8v1.8h-1.8zM411.1 195.6h1.8v1.8h-1.8zM412.8 195.1h1.8v1.8h-1.8zM415.5 195.3h1.8v1.8h-1.8zM417.7 195.9h1.8v1.8h-1.8zM426.7 195.6h1.8v1.8h-1.8zM381.4 197.1h1.8v1.8h-1.8zM383.4 196.4h1.8v1.8h-1.8zM385.6 196.4h1.8v1.8h-1.8zM388.0 196.8h1.8v1.8h-1.8zM389.8 196.2h1.8v1.8h-1.8zM390.9 196.5h1.8v1.8h-1.8zM394.3 196.2h1.8v1.8h-1.8zM395.4 196.8h1.8v1.8h-1.8zM398.8 196.1h1.8v1.8h-1.8zM400.0 196.2h1.8v1.8h-1.8zM400.3 196.7h1.8v1.8h-1.8zM403.0 197.0h1.8v1.8h-1.8zM403.8 196.3h1.8v1.8h-1.8zM405.4 197.1h1.8v1.8h-1.8zM407.8 196.3h1.8v1.8h-1.8zM408.2 196.7h1.8v1.8h-1.8zM409.2 197.1h1.8v1.8h-1.8zM410.3 196.7h1.8v1.8h-1.8zM413.6 196.3h1.8v1.8h-1.8zM418.0 196.5h1.8v1.8h-1.8zM424.1 196.4h1.8v1.8h-1.8zM352.1 197.4h1.8v1.8h-1.8zM354.9 197.7h1.8v1.8h-1.8zM361.2 197.7h1.8v1.8h-1.8zM365.6 197.2h1.8v1.8h-1.8zM371.3 198.0h1.8v1.8h-1.8zM386.8 198.0h1.8v1.8h-1.8zM389.8 198.0h1.8v1.8h-1.8zM390.9 197.5h1.8v1.8h-1.8zM391.8 197.5h1.8v1.8h-1.8zM392.3 197.7h1.8v1.8h-1.8zM394.1 197.7h1.8v1.8h-1.8zM394.8 197.8h1.8v1.8h-1.8zM395.8 198.0h1.8v1.8h-1.8zM398.1 198.0h1.8v1.8h-1.8zM398.8 197.4h1.8v1.8h-1.8zM399.8 197.9h1.8v1.8h-1.8zM400.2 198.1h1.8v1.8h-1.8zM401.9 197.7h1.8v1.8h-1.8zM404.0 198.0h1.8v1.8h-1.8zM404.2 198.0h1.8v1.8h-1.8zM405.5 197.2h1.8v1.8h-1.8zM406.8 197.3h1.8v1.8h-1.8zM407.4 197.2h1.8v1.8h-1.8zM410.6 197.6h1.8v1.8h-1.8zM411.7 197.1h1.8v1.8h-1.8zM419.3 198.0h1.8v1.8h-1.8zM422.4 197.3h1.8v1.8h-1.8zM425.0 198.0h1.8v1.8h-1.8zM346.6 198.6h1.8v1.8h-1.8zM347.8 198.3h1.8v1.8h-1.8zM374.5 198.5h1.8v1.8h-1.8zM390.0 198.6h1.8v1.8h-1.8zM390.3 198.2h1.8v1.8h-1.8zM392.7 198.2h1.8v1.8h-1.8zM393.3 198.2h1.8v1.8h-1.8zM400.3 198.2h1.8v1.8h-1.8zM401.2 198.1h1.8v1.8h-1.8zM402.7 198.4h1.8v1.8h-1.8zM403.3 198.4h1.8v1.8h-1.8zM405.8 198.2h1.8v1.8h-1.8zM406.9 198.1h1.8v1.8h-1.8zM408.0 198.3h1.8v1.8h-1.8zM411.7 199.0h1.8v1.8h-1.8zM412.3 198.9h1.8v1.8h-1.8zM413.8 198.2h1.8v1.8h-1.8zM415.9 198.6h1.8v1.8h-1.8zM420.6 198.2h1.8v1.8h-1.8zM428.7 198.7h1.8v1.8h-1.8zM358.9 199.5h1.8v1.8h-1.8zM368.6 199.6h1.8v1.8h-1.8zM382.9 199.4h1.8v1.8h-1.8zM388.7 200.0h1.8v1.8h-1.8zM390.1 200.0h1.8v1.8h-1.8zM399.5 199.1h1.8v1.8h-1.8zM402.7 199.3h1.8v1.8h-1.8zM404.6 199.6h1.8v1.8h-1.8zM406.7 199.6h1.8v1.8h-1.8zM408.6 200.0h1.8v1.8h-1.8zM412.4 199.9h1.8v1.8h-1.8zM428.8 200.0h1.8v1.8h-1.8zM359.5 200.3h1.8v1.8h-1.8zM360.5 200.9h1.8v1.8h-1.8zM378.7 200.9h1.8v1.8h-1.8zM382.2 200.7h1.8v1.8h-1.8zM386.9 200.5h1.8v1.8h-1.8zM387.3 201.1h1.8v1.8h-1.8zM390.6 200.6h1.8v1.8h-1.8zM391.6 200.5h1.8v1.8h-1.8zM396.1 200.4h1.8v1.8h-1.8zM399.6 200.7h1.8v1.8h-1.8zM404.4 200.5h1.8v1.8h-1.8zM405.5 200.4h1.8v1.8h-1.8zM408.7 200.8h1.8v1.8h-1.8zM411.5 200.4h1.8v1.8h-1.8zM412.3 200.2h1.8v1.8h-1.8zM414.1 200.6h1.8v1.8h-1.8zM417.6 200.6h1.8v1.8h-1.8zM419.0 200.1h1.8v1.8h-1.8zM419.5 200.3h1.8v1.8h-1.8zM427.7 200.7h1.8v1.8h-1.8zM338.4 202.0h1.8v1.8h-1.8zM353.8 202.1h1.8v1.8h-1.8zM373.1 201.3h1.8v1.8h-1.8zM378.2 201.6h1.8v1.8h-1.8zM382.7 202.0h1.8v1.8h-1.8zM384.8 201.7h1.8v1.8h-1.8zM385.8 201.4h1.8v1.8h-1.8zM391.6 201.7h1.8v1.8h-1.8zM393.7 201.3h1.8v1.8h-1.8zM394.6 201.7h1.8v1.8h-1.8zM395.7 201.7h1.8v1.8h-1.8zM396.3 201.6h1.8v1.8h-1.8zM400.0 201.9h1.8v1.8h-1.8zM400.3 201.2h1.8v1.8h-1.8zM401.9 202.1h1.8v1.8h-1.8zM406.3 201.2h1.8v1.8h-1.8zM407.8 202.1h1.8v1.8h-1.8zM408.8 201.4h1.8v1.8h-1.8zM410.5 202.1h1.8v1.8h-1.8zM412.8 201.2h1.8v1.8h-1.8zM413.9 202.1h1.8v1.8h-1.8zM420.8 201.6h1.8v1.8h-1.8zM421.1 202.1h1.8v1.8h-1.8zM369.9 202.7h1.8v1.8h-1.8zM377.0 202.2h1.8v1.8h-1.8zM378.1 203.0h1.8v1.8h-1.8zM387.2 202.4h1.8v1.8h-1.8zM390.9 202.9h1.8v1.8h-1.8zM393.0 202.4h1.8v1.8h-1.8zM394.2 202.8h1.8v1.8h-1.8zM395.3 202.9h1.8v1.8h-1.8zM396.5 202.5h1.8v1.8h-1.8zM398.1 202.3h1.8v1.8h-1.8zM402.7 202.7h1.8v1.8h-1.8zM403.6 202.5h1.8v1.8h-1.8zM406.1 203.1h1.8v1.8h-1.8zM407.3 202.8h1.8v1.8h-1.8zM410.7 202.9h1.8v1.8h-1.8zM412.5 202.7h1.8v1.8h-1.8zM413.4 202.5h1.8v1.8h-1.8zM415.8 202.6h1.8v1.8h-1.8zM416.1 203.1h1.8v1.8h-1.8zM423.7 202.7h1.8v1.8h-1.8zM425.8 203.0h1.8v1.8h-1.8zM363.0 203.9h1.8v1.8h-1.8zM364.6 203.5h1.8v1.8h-1.8zM378.8 203.3h1.8v1.8h-1.8zM386.1 204.0h1.8v1.8h-1.8zM386.5 203.5h1.8v1.8h-1.8zM387.3 203.2h1.8v1.8h-1.8zM389.1 203.2h1.8v1.8h-1.8zM390.4 203.3h1.8v1.8h-1.8zM396.8 204.1h1.8v1.8h-1.8zM401.6 203.2h1.8v1.8h-1.8zM402.8 203.9h1.8v1.8h-1.8zM405.5 203.7h1.8v1.8h-1.8zM408.0 203.3h1.8v1.8h-1.8zM412.7 203.9h1.8v1.8h-1.8zM413.7 203.7h1.8v1.8h-1.8zM418.1 204.0h1.8v1.8h-1.8zM345.1 204.3h1.8v1.8h-1.8zM363.7 204.6h1.8v1.8h-1.8zM366.1 205.1h1.8v1.8h-1.8zM382.2 204.8h1.8v1.8h-1.8zM389.1 204.9h1.8v1.8h-1.8zM392.1 204.9h1.8v1.8h-1.8zM393.6 204.5h1.8v1.8h-1.8zM396.4 204.1h1.8v1.8h-1.8zM401.6 204.6h1.8v1.8h-1.8zM407.4 205.0h1.8v1.8h-1.8zM408.7 204.2h1.8v1.8h-1.8zM409.9 204.2h1.8v1.8h-1.8zM410.4 204.7h1.8v1.8h-1.8zM414.3 204.4h1.8v1.8h-1.8zM415.4 205.0h1.8v1.8h-1.8zM416.4 204.8h1.8v1.8h-1.8zM420.6 205.1h1.8v1.8h-1.8zM422.9 204.7h1.8v1.8h-1.8zM430.7 204.4h1.8v1.8h-1.8zM370.3 205.6h1.8v1.8h-1.8zM382.5 205.2h1.8v1.8h-1.8zM396.0 206.0h1.8v1.8h-1.8zM397.1 206.0h1.8v1.8h-1.8zM398.5 205.9h1.8v1.8h-1.8zM399.7 205.9h1.8v1.8h-1.8zM400.8 205.4h1.8v1.8h-1.8zM403.4 205.5h1.8v1.8h-1.8zM405.9 205.8h1.8v1.8h-1.8zM406.3 205.1h1.8v1.8h-1.8zM407.5 205.3h1.8v1.8h-1.8zM408.2 205.9h1.8v1.8h-1.8zM409.8 205.5h1.8v1.8h-1.8zM411.0 205.8h1.8v1.8h-1.8zM411.4 206.0h1.8v1.8h-1.8zM413.6 206.0h1.8v1.8h-1.8zM319.9 206.7h1.8v1.8h-1.8zM368.2 206.3h1.8v1.8h-1.8zM372.8 206.8h1.8v1.8h-1.8zM379.2 207.0h1.8v1.8h-1.8zM386.4 206.5h1.8v1.8h-1.8zM387.8 206.7h1.8v1.8h-1.8zM393.5 206.2h1.8v1.8h-1.8zM396.7 206.5h1.8v1.8h-1.8zM399.1 206.9h1.8v1.8h-1.8zM401.5 206.2h1.8v1.8h-1.8zM402.3 206.8h1.8v1.8h-1.8zM404.4 206.5h1.8v1.8h-1.8zM406.1 206.2h1.8v1.8h-1.8zM407.7 207.0h1.8v1.8h-1.8zM409.0 206.7h1.8v1.8h-1.8zM409.2 206.6h1.8v1.8h-1.8zM411.1 206.8h1.8v1.8h-1.8zM412.8 206.9h1.8v1.8h-1.8zM426.9 206.6h1.8v1.8h-1.8zM358.9 207.5h1.8v1.8h-1.8zM372.4 207.6h1.8v1.8h-1.8zM378.9 208.1h1.8v1.8h-1.8zM382.0 207.8h1.8v1.8h-1.8zM386.9 207.3h1.8v1.8h-1.8zM387.2 207.6h1.8v1.8h-1.8zM388.9 207.6h1.8v1.8h-1.8zM391.3 207.3h1.8v1.8h-1.8zM392.4 207.6h1.8v1.8h-1.8zM397.6 207.1h1.8v1.8h-1.8zM399.2 207.3h1.8v1.8h-1.8zM401.5 207.5h1.8v1.8h-1.8zM402.3 207.8h1.8v1.8h-1.8zM403.7 207.6h1.8v1.8h-1.8zM404.1 207.5h1.8v1.8h-1.8zM405.4 207.1h1.8v1.8h-1.8zM406.7 208.0h1.8v1.8h-1.8zM408.9 207.5h1.8v1.8h-1.8zM410.5 208.0h1.8v1.8h-1.8zM411.5 207.9h1.8v1.8h-1.8zM412.8 207.4h1.8v1.8h-1.8zM418.9 207.8h1.8v1.8h-1.8zM344.3 208.2h1.8v1.8h-1.8zM356.3 208.8h1.8v1.8h-1.8zM364.6 208.7h1.8v1.8h-1.8zM372.9 208.5h1.8v1.8h-1.8zM386.2 208.6h1.8v1.8h-1.8zM387.6 208.4h1.8v1.8h-1.8zM391.0 208.4h1.8v1.8h-1.8zM397.2 208.5h1.8v1.8h-1.8zM399.1 209.0h1.8v1.8h-1.8zM399.8 208.9h1.8v1.8h-1.8zM401.1 208.2h1.8v1.8h-1.8zM401.1 208.2h1.8v1.8h-1.8zM404.8 208.9h1.8v1.8h-1.8zM407.2 208.9h1.8v1.8h-1.8zM409.1 208.4h1.8v1.8h-1.8zM416.0 208.5h1.8v1.8h-1.8zM418.8 208.7h1.8v1.8h-1.8zM356.6 209.8h1.8v1.8h-1.8zM387.1 210.1h1.8v1.8h-1.8zM391.1 209.5h1.8v1.8h-1.8zM393.4 210.1h1.8v1.8h-1.8zM394.1 209.7h1.8v1.8h-1.8zM396.1 209.5h1.8v1.8h-1.8zM399.1 209.5h1.8v1.8h-1.8zM400.6 209.5h1.8v1.8h-1.8zM401.8 209.7h1.8v1.8h-1.8zM402.9 209.7h1.8v1.8h-1.8zM406.7 209.4h1.8v1.8h-1.8zM407.3 209.4h1.8v1.8h-1.8zM408.6 209.6h1.8v1.8h-1.8zM409.7 209.9h1.8v1.8h-1.8zM410.3 209.8h1.8v1.8h-1.8zM414.6 209.2h1.8v1.8h-1.8zM416.8 210.1h1.8v1.8h-1.8zM418.1 209.5h1.8v1.8h-1.8zM419.8 209.3h1.8v1.8h-1.8zM427.9 209.2h1.8v1.8h-1.8zM372.4 210.8h1.8v1.8h-1.8zM388.7 210.6h1.8v1.8h-1.8zM390.0 210.5h1.8v1.8h-1.8zM392.8 210.1h1.8v1.8h-1.8zM393.3 211.0h1.8v1.8h-1.8zM394.5 210.3h1.8v1.8h-1.8zM397.6 210.2h1.8v1.8h-1.8zM398.6 210.3h1.8v1.8h-1.8zM401.4 210.2h1.8v1.8h-1.8zM403.6 211.1h1.8v1.8h-1.8zM404.3 210.8h1.8v1.8h-1.8zM406.0 210.2h1.8v1.8h-1.8zM406.3 211.0h1.8v1.8h-1.8zM407.2 210.1h1.8v1.8h-1.8zM409.7 210.4h1.8v1.8h-1.8zM410.2 210.2h1.8v1.8h-1.8zM411.8 210.4h1.8v1.8h-1.8zM413.8 210.7h1.8v1.8h-1.8zM414.4 210.7h1.8v1.8h-1.8zM420.5 210.4h1.8v1.8h-1.8zM350.2 211.3h1.8v1.8h-1.8zM353.7 211.7h1.8v1.8h-1.8zM365.8 211.6h1.8v1.8h-1.8zM369.1 211.4h1.8v1.8h-1.8zM371.3 211.4h1.8v1.8h-1.8zM383.3 211.3h1.8v1.8h-1.8zM384.8 211.8h1.8v1.8h-1.8zM388.3 212.1h1.8v1.8h-1.8zM390.3 212.1h1.8v1.8h-1.8zM391.2 211.5h1.8v1.8h-1.8zM392.2 211.4h1.8v1.8h-1.8zM393.8 211.7h1.8v1.8h-1.8zM396.0 211.4h1.8v1.8h-1.8zM397.1 212.1h1.8v1.8h-1.8zM399.6 211.5h1.8v1.8h-1.8zM400.4 211.2h1.8v1.8h-1.8zM402.0 211.9h1.8v1.8h-1.8zM403.9 211.2h1.8v1.8h-1.8zM404.6 211.8h1.8v1.8h-1.8zM406.9 211.7h1.8v1.8h-1.8zM407.7 211.6h1.8v1.8h-1.8zM409.0 211.8h1.8v1.8h-1.8zM409.5 211.6h1.8v1.8h-1.8zM410.7 212.1h1.8v1.8h-1.8zM417.7 211.2h1.8v1.8h-1.8zM422.2 211.2h1.8v1.8h-1.8zM426.8 212.1h1.8v1.8h-1.8zM340.0 213.0h1.8v1.8h-1.8zM372.6 212.4h1.8v1.8h-1.8zM381.1 212.5h1.8v1.8h-1.8zM382.7 212.6h1.8v1.8h-1.8zM392.3 212.3h1.8v1.8h-1.8zM395.0 212.7h1.8v1.8h-1.8zM395.6 212.3h1.8v1.8h-1.8zM396.5 212.4h1.8v1.8h-1.8zM397.8 212.3h1.8v1.8h-1.8zM398.4 212.7h1.8v1.8h-1.8zM401.0 213.0h1.8v1.8h-1.8zM401.9 212.7h1.8v1.8h-1.8zM404.3 212.5h1.8v1.8h-1.8zM406.1 213.0h1.8v1.8h-1.8zM410.8 213.0h1.8v1.8h-1.8zM412.0 213.1h1.8v1.8h-1.8zM412.2 212.7h1.8v1.8h-1.8zM418.6 212.8h1.8v1.8h-1.8zM425.5 213.0h1.8v1.8h-1.8zM380.2 213.4h1.8v1.8h-1.8zM386.4 213.7h1.8v1.8h-1.8zM387.8 214.0h1.8v1.8h-1.8zM389.2 213.2h1.8v1.8h-1.8zM392.5 214.1h1.8v1.8h-1.8zM393.4 213.4h1.8v1.8h-1.8zM394.2 213.7h1.8v1.8h-1.8zM395.3 213.6h1.8v1.8h-1.8zM398.9 213.9h1.8v1.8h-1.8zM402.0 214.0h1.8v1.8h-1.8zM404.0 213.5h1.8v1.8h-1.8zM405.5 213.9h1.8v1.8h-1.8zM408.1 213.6h1.8v1.8h-1.8zM408.7 213.4h1.8v1.8h-1.8zM410.0 213.7h1.8v1.8h-1.8zM411.0 213.6h1.8v1.8h-1.8zM411.2 213.4h1.8v1.8h-1.8zM413.7 213.6h1.8v1.8h-1.8zM414.1 214.0h1.8v1.8h-1.8zM421.2 213.6h1.8v1.8h-1.8zM378.7 214.3h1.8v1.8h-1.8zM380.6 214.9h1.8v1.8h-1.8zM383.3 214.9h1.8v1.8h-1.8zM385.4 214.8h1.8v1.8h-1.8zM388.7 214.4h1.8v1.8h-1.8zM390.9 214.3h1.8v1.8h-1.8zM391.6 214.2h1.8v1.8h-1.8zM395.0 214.6h1.8v1.8h-1.8zM396.2 214.2h1.8v1.8h-1.8zM397.5 214.7h1.8v1.8h-1.8zM400.4 214.7h1.8v1.8h-1.8zM401.4 214.2h1.8v1.8h-1.8zM402.5 215.0h1.8v1.8h-1.8zM403.6 214.5h1.8v1.8h-1.8zM404.9 214.2h1.8v1.8h-1.8zM405.4 215.0h1.8v1.8h-1.8zM406.4 215.0h1.8v1.8h-1.8zM410.1 214.1h1.8v1.8h-1.8zM410.9 215.0h1.8v1.8h-1.8zM412.9 214.9h1.8v1.8h-1.8zM414.7 215.0h1.8v1.8h-1.8zM417.4 214.3h1.8v1.8h-1.8zM418.3 214.6h1.8v1.8h-1.8zM419.5 214.3h1.8v1.8h-1.8zM420.1 214.2h1.8v1.8h-1.8zM425.9 214.4h1.8v1.8h-1.8zM427.3 214.4h1.8v1.8h-1.8zM380.0 216.0h1.8v1.8h-1.8zM383.1 215.5h1.8v1.8h-1.8zM386.4 215.6h1.8v1.8h-1.8zM387.9 215.8h1.8v1.8h-1.8zM388.5 215.2h1.8v1.8h-1.8zM389.4 215.4h1.8v1.8h-1.8zM390.5 215.2h1.8v1.8h-1.8zM391.3 215.4h1.8v1.8h-1.8zM393.6 216.0h1.8v1.8h-1.8zM396.1 215.1h1.8v1.8h-1.8zM403.5 216.0h1.8v1.8h-1.8zM405.0 215.7h1.8v1.8h-1.8zM406.6 215.6h1.8v1.8h-1.8zM407.9 215.8h1.8v1.8h-1.8zM415.9 215.6h1.8v1.8h-1.8zM416.6 215.7h1.8v1.8h-1.8zM418.0 215.6h1.8v1.8h-1.8zM418.9 215.2h1.8v1.8h-1.8zM354.3 216.2h1.8v1.8h-1.8zM357.4 216.9h1.8v1.8h-1.8zM380.7 216.5h1.8v1.8h-1.8zM382.0 216.8h1.8v1.8h-1.8zM382.5 216.9h1.8v1.8h-1.8zM383.8 216.3h1.8v1.8h-1.8zM387.0 216.6h1.8v1.8h-1.8zM387.7 216.5h1.8v1.8h-1.8zM390.7 216.3h1.8v1.8h-1.8zM391.3 216.9h1.8v1.8h-1.8zM392.6 216.7h1.8v1.8h-1.8zM393.5 216.2h1.8v1.8h-1.8zM394.2 216.2h1.8v1.8h-1.8zM395.3 216.2h1.8v1.8h-1.8zM396.6 216.2h1.8v1.8h-1.8zM397.4 216.2h1.8v1.8h-1.8zM398.4 216.4h1.8v1.8h-1.8zM399.6 216.1h1.8v1.8h-1.8zM400.5 216.9h1.8v1.8h-1.8zM401.7 216.6h1.8v1.8h-1.8zM403.1 216.8h1.8v1.8h-1.8zM404.7 217.1h1.8v1.8h-1.8zM405.9 217.1h1.8v1.8h-1.8zM407.9 216.7h1.8v1.8h-1.8zM408.4 216.8h1.8v1.8h-1.8zM410.6 216.9h1.8v1.8h-1.8zM411.9 216.8h1.8v1.8h-1.8zM412.9 216.3h1.8v1.8h-1.8zM413.6 216.9h1.8v1.8h-1.8zM417.8 216.8h1.8v1.8h-1.8zM378.8 217.4h1.8v1.8h-1.8zM380.7 218.1h1.8v1.8h-1.8zM382.0 217.2h1.8v1.8h-1.8zM382.5 217.7h1.8v1.8h-1.8zM386.1 217.4h1.8v1.8h-1.8zM386.4 218.0h1.8v1.8h-1.8zM389.2 217.3h1.8v1.8h-1.8zM393.4 217.1h1.8v1.8h-1.8zM394.2 218.0h1.8v1.8h-1.8zM395.2 218.0h1.8v1.8h-1.8zM396.8 217.9h1.8v1.8h-1.8zM397.9 217.9h1.8v1.8h-1.8zM399.1 217.8h1.8v1.8h-1.8zM400.3 217.6h1.8v1.8h-1.8zM401.8 217.7h1.8v1.8h-1.8zM412.5 217.5h1.8v1.8h-1.8zM415.1 218.1h1.8v1.8h-1.8zM417.0 217.2h1.8v1.8h-1.8zM417.6 217.3h1.8v1.8h-1.8zM438.1 217.9h1.8v1.8h-1.8zM368.4 218.4h1.8v1.8h-1.8zM378.4 218.2h1.8v1.8h-1.8zM382.5 218.8h1.8v1.8h-1.8zM385.0 218.2h1.8v1.8h-1.8zM386.1 219.0h1.8v1.8h-1.8zM387.0 218.2h1.8v1.8h-1.8zM387.7 218.5h1.8v1.8h-1.8zM388.7 219.0h1.8v1.8h-1.8zM389.1 218.6h1.8v1.8h-1.8zM391.3 218.4h1.8v1.8h-1.8zM392.1 218.5h1.8v1.8h-1.8zM393.8 219.0h1.8v1.8h-1.8zM394.9 218.9h1.8v1.8h-1.8zM395.6 218.9h1.8v1.8h-1.8zM399.5 218.3h1.8v1.8h-1.8zM400.2 219.0h1.8v1.8h-1.8zM401.7 219.1h1.8v1.8h-1.8zM402.6 219.1h1.8v1.8h-1.8zM403.7 218.4h1.8v1.8h-1.8zM405.4 218.2h1.8v1.8h-1.8zM406.8 218.4h1.8v1.8h-1.8zM407.6 218.6h1.8v1.8h-1.8zM409.9 218.7h1.8v1.8h-1.8zM411.0 218.1h1.8v1.8h-1.8zM411.4 218.7h1.8v1.8h-1.8zM412.2 218.9h1.8v1.8h-1.8zM414.9 218.4h1.8v1.8h-1.8zM415.5 218.9h1.8v1.8h-1.8zM418.1 218.6h1.8v1.8h-1.8zM418.4 218.7h1.8v1.8h-1.8zM419.5 218.2h1.8v1.8h-1.8zM426.2 218.3h1.8v1.8h-1.8zM381.4 219.9h1.8v1.8h-1.8zM386.0 220.0h1.8v1.8h-1.8zM387.5 219.3h1.8v1.8h-1.8zM389.0 219.6h1.8v1.8h-1.8zM390.8 219.6h1.8v1.8h-1.8zM391.7 219.5h1.8v1.8h-1.8zM392.4 220.0h1.8v1.8h-1.8zM393.9 219.8h1.8v1.8h-1.8zM395.9 219.7h1.8v1.8h-1.8zM397.0 219.9h1.8v1.8h-1.8zM399.0 219.6h1.8v1.8h-1.8zM402.2 219.7h1.8v1.8h-1.8zM403.9 220.0h1.8v1.8h-1.8zM404.6 220.0h1.8v1.8h-1.8zM405.8 220.0h1.8v1.8h-1.8zM406.7 219.7h1.8v1.8h-1.8zM408.2 219.5h1.8v1.8h-1.8zM409.5 219.2h1.8v1.8h-1.8zM410.1 219.9h1.8v1.8h-1.8zM411.4 219.1h1.8v1.8h-1.8zM414.9 219.5h1.8v1.8h-1.8zM415.8 220.0h1.8v1.8h-1.8zM422.9 219.1h1.8v1.8h-1.8zM379.7 220.4h1.8v1.8h-1.8zM381.7 221.0h1.8v1.8h-1.8zM385.5 220.3h1.8v1.8h-1.8zM388.7 221.0h1.8v1.8h-1.8zM389.3 220.6h1.8v1.8h-1.8zM391.4 221.0h1.8v1.8h-1.8zM392.5 220.3h1.8v1.8h-1.8zM393.2 220.2h1.8v1.8h-1.8zM396.8 220.2h1.8v1.8h-1.8zM397.6 220.7h1.8v1.8h-1.8zM398.8 220.4h1.8v1.8h-1.8zM400.2 220.2h1.8v1.8h-1.8zM401.3 221.1h1.8v1.8h-1.8zM402.9 220.4h1.8v1.8h-1.8zM404.5 220.9h1.8v1.8h-1.8zM406.3 220.5h1.8v1.8h-1.8zM407.2 220.6h1.8v1.8h-1.8zM409.6 220.5h1.8v1.8h-1.8zM410.2 220.8h1.8v1.8h-1.8zM411.6 220.9h1.8v1.8h-1.8zM414.5 220.3h1.8v1.8h-1.8zM358.8 221.4h1.8v1.8h-1.8zM373.9 221.3h1.8v1.8h-1.8zM381.5 221.5h1.8v1.8h-1.8zM382.5 221.4h1.8v1.8h-1.8zM384.8 221.8h1.8v1.8h-1.8zM385.2 221.5h1.8v1.8h-1.8zM389.4 221.1h1.8v1.8h-1.8zM391.1 221.6h1.8v1.8h-1.8zM393.4 222.0h1.8v1.8h-1.8zM397.8 221.6h1.8v1.8h-1.8zM399.0 221.7h1.8v1.8h-1.8zM399.2 222.1h1.8v1.8h-1.8zM400.1 221.5h1.8v1.8h-1.8zM403.0 221.3h1.8v1.8h-1.8zM403.2 221.9h1.8v1.8h-1.8zM405.8 222.1h1.8v1.8h-1.8zM406.3 221.3h1.8v1.8h-1.8zM407.3 222.1h1.8v1.8h-1.8zM408.8 221.4h1.8v1.8h-1.8zM409.1 221.6h1.8v1.8h-1.8zM411.1 221.3h1.8v1.8h-1.8zM414.0 221.6h1.8v1.8h-1.8zM415.6 221.4h1.8v1.8h-1.8zM416.9 221.1h1.8v1.8h-1.8zM420.2 221.8h1.8v1.8h-1.8zM351.7 222.6h1.8v1.8h-1.8zM357.1 223.0h1.8v1.8h-1.8zM378.7 222.4h1.8v1.8h-1.8zM382.6 222.1h1.8v1.8h-1.8zM383.1 222.6h1.8v1.8h-1.8zM384.6 222.5h1.8v1.8h-1.8zM386.4 222.8h1.8v1.8h-1.8zM387.1 222.2h1.8v1.8h-1.8zM389.1 222.6h1.8v1.8h-1.8zM389.2 223.1h1.8v1.8h-1.8zM390.6 222.7h1.8v1.8h-1.8zM391.7 222.7h1.8v1.8h-1.8zM392.4 222.3h1.8v1.8h-1.8zM393.9 222.5h1.8v1.8h-1.8zM394.1 222.3h1.8v1.8h-1.8zM395.4 223.0h1.8v1.8h-1.8zM396.5 222.4h1.8v1.8h-1.8zM397.9 222.6h1.8v1.8h-1.8zM398.8 222.2h1.8v1.8h-1.8zM399.4 222.2h1.8v1.8h-1.8zM400.1 222.8h1.8v1.8h-1.8zM402.1 222.7h1.8v1.8h-1.8zM402.7 222.3h1.8v1.8h-1.8zM403.8 222.8h1.8v1.8h-1.8zM404.8 222.8h1.8v1.8h-1.8zM405.9 222.4h1.8v1.8h-1.8zM407.0 222.2h1.8v1.8h-1.8zM407.5 223.0h1.8v1.8h-1.8zM408.3 222.3h1.8v1.8h-1.8zM409.3 222.2h1.8v1.8h-1.8zM411.1 222.1h1.8v1.8h-1.8zM425.8 222.1h1.8v1.8h-1.8zM380.1 223.6h1.8v1.8h-1.8zM381.2 223.7h1.8v1.8h-1.8zM382.1 223.2h1.8v1.8h-1.8zM388.1 224.1h1.8v1.8h-1.8zM389.0 223.3h1.8v1.8h-1.8zM390.9 223.3h1.8v1.8h-1.8zM391.3 223.4h1.8v1.8h-1.8zM393.2 223.5h1.8v1.8h-1.8zM395.4 223.6h1.8v1.8h-1.8zM397.1 223.9h1.8v1.8h-1.8zM398.0 223.3h1.8v1.8h-1.8zM398.7 223.8h1.8v1.8h-1.8zM399.3 223.8h1.8v1.8h-1.8zM400.8 223.3h1.8v1.8h-1.8zM401.1 223.5h1.8v1.8h-1.8zM402.5 223.6h1.8v1.8h-1.8zM404.0 223.2h1.8v1.8h-1.8zM404.2 223.1h1.8v1.8h-1.8zM405.1 223.4h1.8v1.8h-1.8zM406.5 224.0h1.8v1.8h-1.8zM410.0 223.7h1.8v1.8h-1.8zM412.9 223.3h1.8v1.8h-1.8zM413.7 223.7h1.8v1.8h-1.8zM417.6 223.3h1.8v1.8h-1.8zM419.8 223.7h1.8v1.8h-1.8zM424.5 223.1h1.8v1.8h-1.8zM425.2 224.1h1.8v1.8h-1.8zM367.4 224.3h1.8v1.8h-1.8zM379.5 224.9h1.8v1.8h-1.8zM382.2 224.9h1.8v1.8h-1.8zM387.1 224.3h1.8v1.8h-1.8zM390.4 224.3h1.8v1.8h-1.8zM391.4 224.5h1.8v1.8h-1.8zM393.6 224.5h1.8v1.8h-1.8zM396.7 224.9h1.8v1.8h-1.8zM397.8 225.0h1.8v1.8h-1.8zM398.5 225.0h1.8v1.8h-1.8zM400.1 225.1h1.8v1.8h-1.8zM400.1 224.4h1.8v1.8h-1.8zM402.8 225.1h1.8v1.8h-1.8zM403.9 225.0h1.8v1.8h-1.8zM404.7 224.2h1.8v1.8h-1.8zM405.8 224.6h1.8v1.8h-1.8zM406.5 224.4h1.8v1.8h-1.8zM408.9 224.4h1.8v1.8h-1.8zM412.0 224.7h1.8v1.8h-1.8zM412.9 224.6h1.8v1.8h-1.8zM415.5 224.2h1.8v1.8h-1.8zM420.6 224.2h1.8v1.8h-1.8zM423.9 224.7h1.8v1.8h-1.8zM348.2 226.0h1.8v1.8h-1.8zM368.2 225.5h1.8v1.8h-1.8zM382.1 225.6h1.8v1.8h-1.8zM387.4 225.5h1.8v1.8h-1.8zM388.6 225.1h1.8v1.8h-1.8zM390.9 225.3h1.8v1.8h-1.8zM392.1 225.6h1.8v1.8h-1.8zM392.5 225.2h1.8v1.8h-1.8zM395.8 225.9h1.8v1.8h-1.8zM397.4 226.0h1.8v1.8h-1.8zM399.4 225.4h1.8v1.8h-1.8zM400.3 225.9h1.8v1.8h-1.8zM401.9 225.6h1.8v1.8h-1.8zM402.6 225.3h1.8v1.8h-1.8zM403.1 225.9h1.8v1.8h-1.8zM404.6 225.5h1.8v1.8h-1.8zM405.9 225.4h1.8v1.8h-1.8zM406.5 225.8h1.8v1.8h-1.8zM408.8 225.9h1.8v1.8h-1.8zM410.0 225.6h1.8v1.8h-1.8zM412.4 225.3h1.8v1.8h-1.8zM415.8 225.7h1.8v1.8h-1.8zM416.5 225.9h1.8v1.8h-1.8zM418.5 225.1h1.8v1.8h-1.8zM431.3 226.1h1.8v1.8h-1.8zM363.7 226.6h1.8v1.8h-1.8zM365.8 226.9h1.8v1.8h-1.8zM380.1 226.5h1.8v1.8h-1.8zM381.6 226.9h1.8v1.8h-1.8zM383.3 226.3h1.8v1.8h-1.8zM386.4 227.1h1.8v1.8h-1.8zM389.5 226.3h1.8v1.8h-1.8zM391.8 226.2h1.8v1.8h-1.8zM392.5 227.0h1.8v1.8h-1.8zM393.2 226.9h1.8v1.8h-1.8zM395.5 226.7h1.8v1.8h-1.8zM397.7 226.8h1.8v1.8h-1.8zM398.6 226.2h1.8v1.8h-1.8zM399.7 226.3h1.8v1.8h-1.8zM401.4 227.1h1.8v1.8h-1.8zM402.5 226.6h1.8v1.8h-1.8zM403.3 226.1h1.8v1.8h-1.8zM405.1 226.7h1.8v1.8h-1.8zM405.6 226.6h1.8v1.8h-1.8zM406.2 226.6h1.8v1.8h-1.8zM407.9 227.0h1.8v1.8h-1.8zM408.5 226.2h1.8v1.8h-1.8zM410.0 226.7h1.8v1.8h-1.8zM410.3 226.5h1.8v1.8h-1.8zM412.9 226.6h1.8v1.8h-1.8zM413.3 226.1h1.8v1.8h-1.8zM415.3 226.6h1.8v1.8h-1.8zM418.3 226.5h1.8v1.8h-1.8zM425.2 226.2h1.8v1.8h-1.8zM426.7 226.7h1.8v1.8h-1.8zM378.5 227.2h1.8v1.8h-1.8zM380.5 227.6h1.8v1.8h-1.8zM382.0 228.0h1.8v1.8h-1.8zM382.1 227.7h1.8v1.8h-1.8zM383.7 227.7h1.8v1.8h-1.8zM384.4 227.6h1.8v1.8h-1.8zM387.4 227.8h1.8v1.8h-1.8zM388.2 227.3h1.8v1.8h-1.8zM390.5 227.4h1.8v1.8h-1.8zM392.0 227.9h1.8v1.8h-1.8zM392.7 227.2h1.8v1.8h-1.8zM394.4 227.3h1.8v1.8h-1.8zM395.9 227.7h1.8v1.8h-1.8zM396.3 228.0h1.8v1.8h-1.8zM398.3 227.9h1.8v1.8h-1.8zM399.5 227.8h1.8v1.8h-1.8zM401.1 227.9h1.8v1.8h-1.8zM401.2 227.5h1.8v1.8h-1.8zM403.7 227.3h1.8v1.8h-1.8zM404.6 227.3h1.8v1.8h-1.8zM405.6 227.9h1.8v1.8h-1.8zM406.2 227.1h1.8v1.8h-1.8zM407.3 228.0h1.8v1.8h-1.8zM410.8 228.0h1.8v1.8h-1.8zM414.7 227.8h1.8v1.8h-1.8zM420.7 227.9h1.8v1.8h-1.8zM379.5 228.3h1.8v1.8h-1.8zM386.9 229.0h1.8v1.8h-1.8zM390.0 228.6h1.8v1.8h-1.8zM391.0 228.5h1.8v1.8h-1.8zM391.9 228.7h1.8v1.8h-1.8zM393.0 228.9h1.8v1.8h-1.8zM393.5 228.8h1.8v1.8h-1.8zM394.4 228.3h1.8v1.8h-1.8zM396.3 228.2h1.8v1.8h-1.8zM397.6 228.2h1.8v1.8h-1.8zM399.7 228.2h1.8v1.8h-1.8zM400.5 228.2h1.8v1.8h-1.8zM402.1 228.1h1.8v1.8h-1.8zM404.5 228.9h1.8v1.8h-1.8zM406.7 229.0h1.8v1.8h-1.8zM407.8 228.4h1.8v1.8h-1.8zM409.7 228.3h1.8v1.8h-1.8zM411.1 228.9h1.8v1.8h-1.8zM414.0 228.5h1.8v1.8h-1.8zM421.7 228.9h1.8v1.8h-1.8zM350.7 229.3h1.8v1.8h-1.8zM379.8 229.9h1.8v1.8h-1.8zM385.1 229.7h1.8v1.8h-1.8zM386.3 229.5h1.8v1.8h-1.8zM387.3 230.0h1.8v1.8h-1.8zM389.1 229.2h1.8v1.8h-1.8zM391.6 229.4h1.8v1.8h-1.8zM392.3 229.7h1.8v1.8h-1.8zM395.0 229.8h1.8v1.8h-1.8zM395.5 229.6h1.8v1.8h-1.8zM396.2 230.0h1.8v1.8h-1.8zM398.3 229.4h1.8v1.8h-1.8zM399.7 229.6h1.8v1.8h-1.8zM401.0 229.9h1.8v1.8h-1.8zM402.8 229.5h1.8v1.8h-1.8zM403.5 229.3h1.8v1.8h-1.8zM404.6 229.4h1.8v1.8h-1.8zM405.4 229.9h1.8v1.8h-1.8zM406.9 229.3h1.8v1.8h-1.8zM407.2 229.9h1.8v1.8h-1.8zM408.5 229.6h1.8v1.8h-1.8zM409.7 229.3h1.8v1.8h-1.8zM411.0 229.3h1.8v1.8h-1.8zM413.6 229.6h1.8v1.8h-1.8zM415.9 229.2h1.8v1.8h-1.8zM418.3 229.2h1.8v1.8h-1.8zM419.4 230.0h1.8v1.8h-1.8zM353.9 231.1h1.8v1.8h-1.8zM361.7 230.6h1.8v1.8h-1.8zM364.8 230.6h1.8v1.8h-1.8zM374.2 230.6h1.8v1.8h-1.8zM378.2 230.6h1.8v1.8h-1.8zM381.8 230.8h1.8v1.8h-1.8zM384.3 230.6h1.8v1.8h-1.8zM386.4 230.8h1.8v1.8h-1.8zM387.2 230.3h1.8v1.8h-1.8zM388.1 230.8h1.8v1.8h-1.8zM389.1 230.7h1.8v1.8h-1.8zM391.7 230.7h1.8v1.8h-1.8zM394.4 230.9h1.8v1.8h-1.8zM395.6 231.1h1.8v1.8h-1.8zM398.0 230.6h1.8v1.8h-1.8zM399.9 231.0h1.8v1.8h-1.8zM401.0 230.5h1.8v1.8h-1.8zM402.5 230.3h1.8v1.8h-1.8zM403.2 230.3h1.8v1.8h-1.8zM404.3 230.1h1.8v1.8h-1.8zM406.0 230.4h1.8v1.8h-1.8zM406.7 230.9h1.8v1.8h-1.8zM408.3 230.4h1.8v1.8h-1.8zM409.9 230.4h1.8v1.8h-1.8zM410.9 230.2h1.8v1.8h-1.8zM411.9 230.6h1.8v1.8h-1.8zM413.3 230.1h1.8v1.8h-1.8zM415.6 230.8h1.8v1.8h-1.8zM425.5 230.4h1.8v1.8h-1.8zM426.3 231.1h1.8v1.8h-1.8zM374.7 231.7h1.8v1.8h-1.8zM378.2 231.4h1.8v1.8h-1.8zM381.3 231.3h1.8v1.8h-1.8zM384.2 232.1h1.8v1.8h-1.8zM385.8 231.8h1.8v1.8h-1.8zM386.2 231.8h1.8v1.8h-1.8zM387.4 231.7h1.8v1.8h-1.8zM389.0 231.6h1.8v1.8h-1.8zM389.6 231.7h1.8v1.8h-1.8zM391.4 231.5h1.8v1.8h-1.8zM396.0 231.3h1.8v1.8h-1.8zM397.0 232.0h1.8v1.8h-1.8zM398.0 231.5h1.8v1.8h-1.8zM398.7 231.5h1.8v1.8h-1.8zM399.8 231.2h1.8v1.8h-1.8zM400.6 231.9h1.8v1.8h-1.8zM403.9 231.9h1.8v1.8h-1.8zM405.6 231.7h1.8v1.8h-1.8zM407.0 231.7h1.8v1.8h-1.8zM407.9 231.3h1.8v1.8h-1.8zM409.1 231.9h1.8v1.8h-1.8zM409.2 231.2h1.8v1.8h-1.8zM410.5 231.4h1.8v1.8h-1.8zM411.7 231.9h1.8v1.8h-1.8zM413.7 232.1h1.8v1.8h-1.8zM416.5 231.5h1.8v1.8h-1.8zM420.2 231.1h1.8v1.8h-1.8zM421.3 231.5h1.8v1.8h-1.8zM368.1 232.4h1.8v1.8h-1.8zM368.8 232.5h1.8v1.8h-1.8zM378.8 233.0h1.8v1.8h-1.8zM382.5 232.8h1.8v1.8h-1.8zM383.7 232.7h1.8v1.8h-1.8zM384.2 232.3h1.8v1.8h-1.8zM387.3 233.0h1.8v1.8h-1.8zM390.5 232.4h1.8v1.8h-1.8zM392.8 232.5h1.8v1.8h-1.8zM393.2 232.6h1.8v1.8h-1.8zM396.0 232.5h1.8v1.8h-1.8zM397.7 232.4h1.8v1.8h-1.8zM398.7 232.4h1.8v1.8h-1.8zM400.9 232.3h1.8v1.8h-1.8zM401.4 232.9h1.8v1.8h-1.8zM403.2 233.1h1.8v1.8h-1.8zM404.2 232.5h1.8v1.8h-1.8zM406.0 232.5h1.8v1.8h-1.8zM407.6 232.1h1.8v1.8h-1.8zM410.0 232.2h1.8v1.8h-1.8zM410.5 232.3h1.8v1.8h-1.8zM412.0 233.0h1.8v1.8h-1.8zM415.0 232.8h1.8v1.8h-1.8zM423.9 232.6h1.8v1.8h-1.8zM358.9 233.9h1.8v1.8h-1.8zM361.9 233.2h1.8v1.8h-1.8zM366.7 233.8h1.8v1.8h-1.8zM374.1 233.1h1.8v1.8h-1.8zM378.5 233.6h1.8v1.8h-1.8zM382.4 234.0h1.8v1.8h-1.8zM386.0 233.3h1.8v1.8h-1.8zM387.8 234.1h1.8v1.8h-1.8zM388.9 233.8h1.8v1.8h-1.8zM389.6 233.2h1.8v1.8h-1.8zM390.5 233.3h1.8v1.8h-1.8zM391.3 233.8h1.8v1.8h-1.8zM392.9 233.2h1.8v1.8h-1.8zM393.4 233.6h1.8v1.8h-1.8zM395.4 233.8h1.8v1.8h-1.8zM397.6 233.5h1.8v1.8h-1.8zM398.8 233.2h1.8v1.8h-1.8zM399.1 233.7h1.8v1.8h-1.8zM400.2 233.8h1.8v1.8h-1.8zM401.2 233.3h1.8v1.8h-1.8zM402.4 233.1h1.8v1.8h-1.8zM403.3 233.5h1.8v1.8h-1.8zM405.9 233.9h1.8v1.8h-1.8zM407.9 233.4h1.8v1.8h-1.8zM411.5 234.0h1.8v1.8h-1.8zM413.0 234.0h1.8v1.8h-1.8zM415.7 233.2h1.8v1.8h-1.8zM418.1 233.5h1.8v1.8h-1.8zM422.1 233.6h1.8v1.8h-1.8zM352.8 234.6h1.8v1.8h-1.8zM381.6 234.2h1.8v1.8h-1.8zM382.5 234.9h1.8v1.8h-1.8zM383.2 235.0h1.8v1.8h-1.8zM386.0 234.2h1.8v1.8h-1.8zM387.9 234.8h1.8v1.8h-1.8zM389.0 234.2h1.8v1.8h-1.8zM393.6 234.5h1.8v1.8h-1.8zM395.0 234.7h1.8v1.8h-1.8zM397.6 234.5h1.8v1.8h-1.8zM398.8 234.5h1.8v1.8h-1.8zM399.9 234.3h1.8v1.8h-1.8zM400.6 234.4h1.8v1.8h-1.8zM401.2 234.8h1.8v1.8h-1.8zM402.7 234.3h1.8v1.8h-1.8zM403.9 234.7h1.8v1.8h-1.8zM406.7 234.7h1.8v1.8h-1.8zM407.5 234.9h1.8v1.8h-1.8zM408.9 234.9h1.8v1.8h-1.8zM412.3 234.2h1.8v1.8h-1.8zM414.5 234.3h1.8v1.8h-1.8zM419.2 234.9h1.8v1.8h-1.8zM421.1 234.8h1.8v1.8h-1.8zM364.4 235.9h1.8v1.8h-1.8zM379.9 235.8h1.8v1.8h-1.8zM381.0 235.9h1.8v1.8h-1.8zM382.0 235.6h1.8v1.8h-1.8zM382.6 235.7h1.8v1.8h-1.8zM383.5 235.2h1.8v1.8h-1.8zM385.9 235.1h1.8v1.8h-1.8zM388.2 235.7h1.8v1.8h-1.8zM389.7 235.6h1.8v1.8h-1.8zM395.6 235.6h1.8v1.8h-1.8zM396.7 235.2h1.8v1.8h-1.8zM397.6 235.5h1.8v1.8h-1.8zM398.3 235.4h1.8v1.8h-1.8zM399.8 235.3h1.8v1.8h-1.8zM400.6 235.1h1.8v1.8h-1.8zM401.4 235.5h1.8v1.8h-1.8zM402.8 235.2h1.8v1.8h-1.8zM403.2 235.4h1.8v1.8h-1.8zM404.9 236.0h1.8v1.8h-1.8zM405.1 235.6h1.8v1.8h-1.8zM406.6 235.7h1.8v1.8h-1.8zM407.2 236.0h1.8v1.8h-1.8zM408.8 235.9h1.8v1.8h-1.8zM410.3 235.6h1.8v1.8h-1.8zM412.2 235.4h1.8v1.8h-1.8zM413.8 236.1h1.8v1.8h-1.8zM414.7 235.2h1.8v1.8h-1.8zM415.1 235.9h1.8v1.8h-1.8zM359.2 237.0h1.8v1.8h-1.8zM379.0 236.7h1.8v1.8h-1.8zM382.6 236.9h1.8v1.8h-1.8zM386.8 236.8h1.8v1.8h-1.8zM389.3 236.7h1.8v1.8h-1.8zM392.0 236.4h1.8v1.8h-1.8zM395.3 236.3h1.8v1.8h-1.8zM397.1 236.3h1.8v1.8h-1.8zM397.7 236.6h1.8v1.8h-1.8zM399.6 236.7h1.8v1.8h-1.8zM401.2 236.2h1.8v1.8h-1.8zM402.4 237.1h1.8v1.8h-1.8zM404.0 236.7h1.8v1.8h-1.8zM404.1 236.1h1.8v1.8h-1.8zM405.3 236.3h1.8v1.8h-1.8zM406.4 236.4h1.8v1.8h-1.8zM407.6 237.0h1.8v1.8h-1.8zM410.4 236.8h1.8v1.8h-1.8zM411.4 236.8h1.8v1.8h-1.8zM413.8 236.4h1.8v1.8h-1.8zM414.7 236.6h1.8v1.8h-1.8zM416.1 236.6h1.8v1.8h-1.8zM419.5 236.4h1.8v1.8h-1.8zM356.2 237.6h1.8v1.8h-1.8zM364.8 238.1h1.8v1.8h-1.8zM382.5 237.5h1.8v1.8h-1.8zM386.1 237.7h1.8v1.8h-1.8zM387.4 237.2h1.8v1.8h-1.8zM388.9 237.5h1.8v1.8h-1.8zM389.3 238.0h1.8v1.8h-1.8zM390.5 237.7h1.8v1.8h-1.8zM391.1 238.0h1.8v1.8h-1.8zM392.3 237.6h1.8v1.8h-1.8zM393.5 237.4h1.8v1.8h-1.8zM395.1 237.9h1.8v1.8h-1.8zM395.4 237.3h1.8v1.8h-1.8zM396.8 237.2h1.8v1.8h-1.8zM397.2 237.2h1.8v1.8h-1.8zM399.3 237.4h1.8v1.8h-1.8zM400.7 237.1h1.8v1.8h-1.8zM401.6 237.5h1.8v1.8h-1.8zM404.1 237.2h1.8v1.8h-1.8zM406.7 238.0h1.8v1.8h-1.8zM408.9 237.1h1.8v1.8h-1.8zM409.4 237.3h1.8v1.8h-1.8zM412.0 237.4h1.8v1.8h-1.8zM413.1 237.4h1.8v1.8h-1.8zM417.1 237.9h1.8v1.8h-1.8zM417.9 237.9h1.8v1.8h-1.8zM418.9 238.0h1.8v1.8h-1.8zM421.0 237.5h1.8v1.8h-1.8zM424.9 237.1h1.8v1.8h-1.8zM428.3 237.6h1.8v1.8h-1.8zM363.4 238.8h1.8v1.8h-1.8zM380.1 238.3h1.8v1.8h-1.8zM380.8 238.9h1.8v1.8h-1.8zM381.5 238.9h1.8v1.8h-1.8zM387.1 238.4h1.8v1.8h-1.8zM388.2 238.9h1.8v1.8h-1.8zM389.8 238.9h1.8v1.8h-1.8zM391.1 238.2h1.8v1.8h-1.8zM393.5 238.2h1.8v1.8h-1.8zM395.2 238.3h1.8v1.8h-1.8zM398.0 238.6h1.8v1.8h-1.8zM398.8 238.8h1.8v1.8h-1.8zM399.6 238.5h1.8v1.8h-1.8zM401.2 238.3h1.8v1.8h-1.8zM402.3 238.4h1.8v1.8h-1.8zM405.0 238.8h1.8v1.8h-1.8zM405.5 238.1h1.8v1.8h-1.8zM406.7 238.5h1.8v1.8h-1.8zM407.7 238.2h1.8v1.8h-1.8zM408.2 238.4h1.8v1.8h-1.8zM410.9 238.4h1.8v1.8h-1.8zM411.7 238.5h1.8v1.8h-1.8zM412.3 238.8h1.8v1.8h-1.8zM415.3 238.2h1.8v1.8h-1.8zM416.9 238.5h1.8v1.8h-1.8zM424.1 238.5h1.8v1.8h-1.8zM367.4 239.8h1.8v1.8h-1.8zM380.9 239.6h1.8v1.8h-1.8zM381.3 239.9h1.8v1.8h-1.8zM383.4 239.6h1.8v1.8h-1.8zM385.6 240.1h1.8v1.8h-1.8zM387.4 239.9h1.8v1.8h-1.8zM388.2 239.4h1.8v1.8h-1.8zM389.6 239.8h1.8v1.8h-1.8zM390.7 240.0h1.8v1.8h-1.8zM391.8 239.3h1.8v1.8h-1.8zM394.2 239.3h1.8v1.8h-1.8zM395.8 239.7h1.8v1.8h-1.8zM396.6 240.1h1.8v1.8h-1.8zM397.1 239.9h1.8v1.8h-1.8zM399.6 240.0h1.8v1.8h-1.8zM405.3 239.7h1.8v1.8h-1.8zM411.4 239.4h1.8v1.8h-1.8zM413.5 240.0h1.8v1.8h-1.8zM416.5 239.9h1.8v1.8h-1.8zM419.0 239.4h1.8v1.8h-1.8zM424.0 239.8h1.8v1.8h-1.8zM362.7 240.2h1.8v1.8h-1.8zM383.9 240.7h1.8v1.8h-1.8zM385.2 240.1h1.8v1.8h-1.8zM389.2 240.9h1.8v1.8h-1.8zM390.5 241.1h1.8v1.8h-1.8zM392.5 241.1h1.8v1.8h-1.8zM394.3 240.7h1.8v1.8h-1.8zM395.3 240.9h1.8v1.8h-1.8zM396.4 240.8h1.8v1.8h-1.8zM397.1 240.2h1.8v1.8h-1.8zM398.6 240.8h1.8v1.8h-1.8zM399.3 240.2h1.8v1.8h-1.8zM400.5 240.4h1.8v1.8h-1.8zM402.1 240.5h1.8v1.8h-1.8zM403.7 240.9h1.8v1.8h-1.8zM406.7 240.4h1.8v1.8h-1.8zM407.2 240.2h1.8v1.8h-1.8zM408.9 240.6h1.8v1.8h-1.8zM409.6 240.3h1.8v1.8h-1.8zM412.4 240.5h1.8v1.8h-1.8zM417.4 240.9h1.8v1.8h-1.8zM422.8 240.5h1.8v1.8h-1.8zM428.9 240.8h1.8v1.8h-1.8zM371.0 242.1h1.8v1.8h-1.8zM378.3 241.3h1.8v1.8h-1.8zM380.5 241.4h1.8v1.8h-1.8zM381.6 241.7h1.8v1.8h-1.8zM382.3 241.1h1.8v1.8h-1.8zM386.7 241.9h1.8v1.8h-1.8zM387.8 241.7h1.8v1.8h-1.8zM388.2 241.9h1.8v1.8h-1.8zM389.1 241.9h1.8v1.8h-1.8zM392.5 241.3h1.8v1.8h-1.8zM393.9 241.3h1.8v1.8h-1.8zM395.0 241.8h1.8v1.8h-1.8zM395.3 241.4h1.8v1.8h-1.8zM396.4 241.8h1.8v1.8h-1.8zM397.3 242.0h1.8v1.8h-1.8zM398.2 241.4h1.8v1.8h-1.8zM399.3 241.7h1.8v1.8h-1.8zM400.6 241.6h1.8v1.8h-1.8zM401.4 242.0h1.8v1.8h-1.8zM402.8 241.6h1.8v1.8h-1.8zM403.2 241.4h1.8v1.8h-1.8zM404.1 241.4h1.8v1.8h-1.8zM405.6 241.9h1.8v1.8h-1.8zM407.5 241.8h1.8v1.8h-1.8zM409.9 241.8h1.8v1.8h-1.8zM411.3 241.9h1.8v1.8h-1.8zM412.3 241.2h1.8v1.8h-1.8zM415.1 242.0h1.8v1.8h-1.8zM415.7 242.1h1.8v1.8h-1.8zM417.3 241.5h1.8v1.8h-1.8zM418.4 241.9h1.8v1.8h-1.8zM421.3 241.4h1.8v1.8h-1.8zM371.0 243.1h1.8v1.8h-1.8zM373.5 243.1h1.8v1.8h-1.8zM374.8 243.0h1.8v1.8h-1.8zM384.2 242.2h1.8v1.8h-1.8zM385.8 242.5h1.8v1.8h-1.8zM386.8 242.4h1.8v1.8h-1.8zM387.1 242.9h1.8v1.8h-1.8zM388.9 242.9h1.8v1.8h-1.8zM389.9 242.7h1.8v1.8h-1.8zM390.7 242.9h1.8v1.8h-1.8zM392.7 242.9h1.8v1.8h-1.8zM393.1 242.3h1.8v1.8h-1.8zM394.6 242.3h1.8v1.8h-1.8zM395.5 242.9h1.8v1.8h-1.8zM396.3 242.1h1.8v1.8h-1.8zM397.4 242.6h1.8v1.8h-1.8zM398.3 242.3h1.8v1.8h-1.8zM399.2 242.6h1.8v1.8h-1.8zM400.6 242.4h1.8v1.8h-1.8zM401.1 242.9h1.8v1.8h-1.8zM402.9 242.3h1.8v1.8h-1.8zM403.2 242.7h1.8v1.8h-1.8zM405.0 243.0h1.8v1.8h-1.8zM405.4 242.9h1.8v1.8h-1.8zM406.1 243.0h1.8v1.8h-1.8zM407.9 242.9h1.8v1.8h-1.8zM409.4 242.4h1.8v1.8h-1.8zM410.5 242.3h1.8v1.8h-1.8zM411.9 242.5h1.8v1.8h-1.8zM413.1 242.7h1.8v1.8h-1.8zM418.2 242.3h1.8v1.8h-1.8zM421.7 242.6h1.8v1.8h-1.8zM381.2 243.3h1.8v1.8h-1.8zM382.6 243.8h1.8v1.8h-1.8zM384.0 243.9h1.8v1.8h-1.8zM385.3 243.7h1.8v1.8h-1.8zM388.3 243.7h1.8v1.8h-1.8zM389.6 243.1h1.8v1.8h-1.8zM391.0 243.3h1.8v1.8h-1.8zM391.2 243.9h1.8v1.8h-1.8zM392.3 243.9h1.8v1.8h-1.8zM393.9 243.5h1.8v1.8h-1.8zM394.9 244.1h1.8v1.8h-1.8zM395.7 243.9h1.8v1.8h-1.8zM396.5 243.8h1.8v1.8h-1.8zM397.8 243.2h1.8v1.8h-1.8zM398.4 243.9h1.8v1.8h-1.8zM399.8 244.0h1.8v1.8h-1.8zM401.0 243.8h1.8v1.8h-1.8zM401.5 244.0h1.8v1.8h-1.8zM402.3 243.6h1.8v1.8h-1.8zM403.9 243.8h1.8v1.8h-1.8zM404.5 243.4h1.8v1.8h-1.8zM405.7 243.2h1.8v1.8h-1.8zM406.9 243.4h1.8v1.8h-1.8zM407.7 243.9h1.8v1.8h-1.8zM411.1 243.1h1.8v1.8h-1.8zM412.0 243.4h1.8v1.8h-1.8zM412.8 243.7h1.8v1.8h-1.8zM414.7 243.8h1.8v1.8h-1.8zM416.5 243.6h1.8v1.8h-1.8zM417.5 243.5h1.8v1.8h-1.8zM418.2 243.9h1.8v1.8h-1.8zM360.9 244.9h1.8v1.8h-1.8zM372.2 245.1h1.8v1.8h-1.8zM378.5 245.0h1.8v1.8h-1.8zM381.3 244.5h1.8v1.8h-1.8zM389.0 244.2h1.8v1.8h-1.8zM390.0 244.3h1.8v1.8h-1.8zM391.1 244.3h1.8v1.8h-1.8zM392.0 244.8h1.8v1.8h-1.8zM392.2 244.5h1.8v1.8h-1.8zM393.4 244.9h1.8v1.8h-1.8zM394.4 244.8h1.8v1.8h-1.8zM396.3 245.1h1.8v1.8h-1.8zM397.6 245.1h1.8v1.8h-1.8zM400.1 244.4h1.8v1.8h-1.8zM400.6 244.9h1.8v1.8h-1.8zM401.5 244.8h1.8v1.8h-1.8zM402.6 244.3h1.8v1.8h-1.8zM403.2 244.6h1.8v1.8h-1.8zM404.7 245.0h1.8v1.8h-1.8zM406.7 244.4h1.8v1.8h-1.8zM407.9 244.3h1.8v1.8h-1.8zM409.1 244.3h1.8v1.8h-1.8zM410.1 244.1h1.8v1.8h-1.8zM412.1 244.8h1.8v1.8h-1.8zM413.8 244.9h1.8v1.8h-1.8zM424.0 244.1h1.8v1.8h-1.8zM377.1 245.6h1.8v1.8h-1.8zM379.1 245.2h1.8v1.8h-1.8zM381.3 245.4h1.8v1.8h-1.8zM387.8 245.6h1.8v1.8h-1.8zM388.8 245.2h1.8v1.8h-1.8zM390.3 245.8h1.8v1.8h-1.8zM391.1 245.6h1.8v1.8h-1.8zM392.8 246.1h1.8v1.8h-1.8zM394.7 245.4h1.8v1.8h-1.8zM395.6 245.8h1.8v1.8h-1.8zM396.2 245.8h1.8v1.8h-1.8zM398.7 245.9h1.8v1.8h-1.8zM400.0 245.3h1.8v1.8h-1.8zM401.1 245.3h1.8v1.8h-1.8zM402.7 245.7h1.8v1.8h-1.8zM404.6 246.0h1.8v1.8h-1.8zM407.8 245.1h1.8v1.8h-1.8zM408.5 245.6h1.8v1.8h-1.8zM409.2 245.6h1.8v1.8h-1.8zM411.4 246.0h1.8v1.8h-1.8zM413.1 245.4h1.8v1.8h-1.8zM414.8 245.1h1.8v1.8h-1.8zM415.6 245.2h1.8v1.8h-1.8zM384.0 246.9h1.8v1.8h-1.8zM385.0 246.9h1.8v1.8h-1.8zM387.0 246.4h1.8v1.8h-1.8zM389.1 246.7h1.8v1.8h-1.8zM390.0 246.1h1.8v1.8h-1.8zM391.5 246.2h1.8v1.8h-1.8zM392.1 247.0h1.8v1.8h-1.8zM394.9 246.6h1.8v1.8h-1.8zM395.9 246.1h1.8v1.8h-1.8zM396.8 246.1h1.8v1.8h-1.8zM397.7 247.0h1.8v1.8h-1.8zM399.1 247.1h1.8v1.8h-1.8zM400.6 246.3h1.8v1.8h-1.8zM401.4 246.7h1.8v1.8h-1.8zM402.7 246.2h1.8v1.8h-1.8zM403.9 247.1h1.8v1.8h-1.8zM404.9 247.0h1.8v1.8h-1.8zM405.8 247.0h1.8v1.8h-1.8zM406.7 246.7h1.8v1.8h-1.8zM408.5 246.7h1.8v1.8h-1.8zM409.2 246.9h1.8v1.8h-1.8zM412.7 246.2h1.8v1.8h-1.8zM415.0 246.3h1.8v1.8h-1.8zM415.6 246.8h1.8v1.8h-1.8zM422.9 246.7h1.8v1.8h-1.8zM378.8 247.2h1.8v1.8h-1.8zM380.0 247.2h1.8v1.8h-1.8zM381.2 247.3h1.8v1.8h-1.8zM382.5 247.1h1.8v1.8h-1.8zM386.1 247.9h1.8v1.8h-1.8zM388.7 248.1h1.8v1.8h-1.8zM390.1 248.1h1.8v1.8h-1.8zM390.2 247.5h1.8v1.8h-1.8zM391.3 247.5h1.8v1.8h-1.8zM392.7 247.9h1.8v1.8h-1.8zM394.5 247.8h1.8v1.8h-1.8zM395.8 247.2h1.8v1.8h-1.8zM397.1 247.4h1.8v1.8h-1.8zM397.7 247.5h1.8v1.8h-1.8zM398.6 248.0h1.8v1.8h-1.8zM399.6 247.7h1.8v1.8h-1.8zM400.5 247.9h1.8v1.8h-1.8zM401.9 247.7h1.8v1.8h-1.8zM402.8 247.4h1.8v1.8h-1.8zM403.7 247.6h1.8v1.8h-1.8zM405.2 247.4h1.8v1.8h-1.8zM406.4 247.5h1.8v1.8h-1.8zM408.5 247.4h1.8v1.8h-1.8zM411.5 247.6h1.8v1.8h-1.8zM413.0 247.9h1.8v1.8h-1.8zM413.3 247.7h1.8v1.8h-1.8zM414.9 248.1h1.8v1.8h-1.8zM421.9 247.3h1.8v1.8h-1.8zM359.0 248.9h1.8v1.8h-1.8zM371.5 249.1h1.8v1.8h-1.8zM379.7 248.3h1.8v1.8h-1.8zM381.9 248.3h1.8v1.8h-1.8zM383.5 248.2h1.8v1.8h-1.8zM384.1 248.5h1.8v1.8h-1.8zM385.8 248.5h1.8v1.8h-1.8zM387.0 248.8h1.8v1.8h-1.8zM389.4 248.2h1.8v1.8h-1.8zM390.5 248.8h1.8v1.8h-1.8zM393.1 248.6h1.8v1.8h-1.8zM395.2 248.7h1.8v1.8h-1.8zM396.4 248.5h1.8v1.8h-1.8zM397.9 248.4h1.8v1.8h-1.8zM398.2 249.0h1.8v1.8h-1.8zM399.6 249.1h1.8v1.8h-1.8zM400.9 248.2h1.8v1.8h-1.8zM402.7 248.2h1.8v1.8h-1.8zM403.9 248.4h1.8v1.8h-1.8zM404.7 249.0h1.8v1.8h-1.8zM406.0 248.8h1.8v1.8h-1.8zM406.9 249.0h1.8v1.8h-1.8zM407.7 248.8h1.8v1.8h-1.8zM409.0 248.9h1.8v1.8h-1.8zM409.9 248.2h1.8v1.8h-1.8zM410.5 248.8h1.8v1.8h-1.8zM412.3 248.8h1.8v1.8h-1.8zM415.7 248.7h1.8v1.8h-1.8zM419.1 249.0h1.8v1.8h-1.8zM420.8 248.9h1.8v1.8h-1.8zM423.6 248.5h1.8v1.8h-1.8zM381.8 249.9h1.8v1.8h-1.8zM382.1 249.4h1.8v1.8h-1.8zM386.1 249.3h1.8v1.8h-1.8zM387.3 249.7h1.8v1.8h-1.8zM391.8 249.5h1.8v1.8h-1.8zM393.1 249.7h1.8v1.8h-1.8zM393.2 249.6h1.8v1.8h-1.8zM394.7 250.0h1.8v1.8h-1.8zM396.8 249.9h1.8v1.8h-1.8zM397.9 249.6h1.8v1.8h-1.8zM399.1 249.5h1.8v1.8h-1.8zM399.9 249.9h1.8v1.8h-1.8zM400.7 249.1h1.8v1.8h-1.8zM402.6 249.9h1.8v1.8h-1.8zM404.2 249.2h1.8v1.8h-1.8zM405.4 249.2h1.8v1.8h-1.8zM406.3 249.3h1.8v1.8h-1.8zM408.0 249.9h1.8v1.8h-1.8zM409.6 249.6h1.8v1.8h-1.8zM413.3 249.5h1.8v1.8h-1.8zM415.1 249.9h1.8v1.8h-1.8zM382.3 250.5h1.8v1.8h-1.8zM387.4 251.0h1.8v1.8h-1.8zM388.6 250.6h1.8v1.8h-1.8zM389.2 250.7h1.8v1.8h-1.8zM392.0 250.3h1.8v1.8h-1.8zM392.4 250.7h1.8v1.8h-1.8zM393.5 250.3h1.8v1.8h-1.8zM394.9 250.8h1.8v1.8h-1.8zM396.3 250.8h1.8v1.8h-1.8zM397.4 250.8h1.8v1.8h-1.8zM399.6 250.9h1.8v1.8h-1.8zM400.7 250.1h1.8v1.8h-1.8zM401.3 250.4h1.8v1.8h-1.8zM402.7 250.8h1.8v1.8h-1.8zM404.1 250.2h1.8v1.8h-1.8zM406.1 250.9h1.8v1.8h-1.8zM407.5 250.1h1.8v1.8h-1.8zM408.8 250.5h1.8v1.8h-1.8zM409.4 250.9h1.8v1.8h-1.8zM411.4 250.6h1.8v1.8h-1.8zM412.9 251.0h1.8v1.8h-1.8zM414.0 250.3h1.8v1.8h-1.8zM417.1 251.0h1.8v1.8h-1.8zM425.0 250.2h1.8v1.8h-1.8zM378.7 251.2h1.8v1.8h-1.8zM381.2 252.1h1.8v1.8h-1.8zM383.1 251.8h1.8v1.8h-1.8zM384.8 251.8h1.8v1.8h-1.8zM387.1 251.6h1.8v1.8h-1.8zM388.7 251.7h1.8v1.8h-1.8zM389.6 251.7h1.8v1.8h-1.8zM390.7 251.4h1.8v1.8h-1.8zM391.5 251.3h1.8v1.8h-1.8zM392.5 251.6h1.8v1.8h-1.8zM393.6 251.3h1.8v1.8h-1.8zM394.8 251.7h1.8v1.8h-1.8zM396.2 251.9h1.8v1.8h-1.8zM398.5 251.7h1.8v1.8h-1.8zM399.9 251.6h1.8v1.8h-1.8zM400.7 251.1h1.8v1.8h-1.8zM403.9 252.0h1.8v1.8h-1.8zM405.8 251.9h1.8v1.8h-1.8zM406.9 251.8h1.8v1.8h-1.8zM407.2 252.0h1.8v1.8h-1.8zM410.1 252.0h1.8v1.8h-1.8zM411.7 251.4h1.8v1.8h-1.8zM412.2 251.7h1.8v1.8h-1.8zM413.8 251.4h1.8v1.8h-1.8zM414.9 251.5h1.8v1.8h-1.8zM419.6 251.8h1.8v1.8h-1.8zM381.3 252.4h1.8v1.8h-1.8zM382.9 252.9h1.8v1.8h-1.8zM385.4 252.5h1.8v1.8h-1.8zM387.2 253.1h1.8v1.8h-1.8zM389.4 252.6h1.8v1.8h-1.8zM391.0 252.6h1.8v1.8h-1.8zM392.3 252.8h1.8v1.8h-1.8zM394.1 252.9h1.8v1.8h-1.8zM394.7 252.5h1.8v1.8h-1.8zM395.4 252.1h1.8v1.8h-1.8zM396.2 252.7h1.8v1.8h-1.8zM397.5 252.6h1.8v1.8h-1.8zM398.3 252.6h1.8v1.8h-1.8zM400.5 252.8h1.8v1.8h-1.8zM401.5 252.7h1.8v1.8h-1.8zM402.4 252.8h1.8v1.8h-1.8zM403.2 252.5h1.8v1.8h-1.8zM404.7 252.2h1.8v1.8h-1.8zM405.5 252.4h1.8v1.8h-1.8zM406.1 252.8h1.8v1.8h-1.8zM407.2 253.1h1.8v1.8h-1.8zM408.2 252.4h1.8v1.8h-1.8zM409.2 252.4h1.8v1.8h-1.8zM410.6 252.9h1.8v1.8h-1.8zM411.6 252.8h1.8v1.8h-1.8zM414.8 252.9h1.8v1.8h-1.8zM416.6 253.1h1.8v1.8h-1.8zM418.9 252.4h1.8v1.8h-1.8zM421.8 252.6h1.8v1.8h-1.8zM387.3 253.2h1.8v1.8h-1.8zM390.1 253.8h1.8v1.8h-1.8zM394.3 253.3h1.8v1.8h-1.8zM396.9 253.5h1.8v1.8h-1.8zM398.3 253.7h1.8v1.8h-1.8zM399.7 253.2h1.8v1.8h-1.8zM400.2 253.8h1.8v1.8h-1.8zM403.3 253.6h1.8v1.8h-1.8zM406.8 253.2h1.8v1.8h-1.8zM407.5 253.4h1.8v1.8h-1.8zM409.0 253.4h1.8v1.8h-1.8zM412.1 253.4h1.8v1.8h-1.8zM412.2 253.8h1.8v1.8h-1.8zM419.8 253.7h1.8v1.8h-1.8zM420.3 253.5h1.8v1.8h-1.8zM440.9 49.1h1.8v1.8h-1.8zM464.9 60.3h1.8v1.8h-1.8zM455.1 63.1h1.8v1.8h-1.8zM463.1 88.1h1.8v1.8h-1.8zM424.9 78.1h1.8v1.8h-1.8zM334.1 239.1h1.8v1.8h-1.8zM329.1 199.1h1.8v1.8h-1.8zM450.5 149.1h1.8v1.8h-1.8zM438.1 154.1h1.8v1.8h-1.8zM324.1 249.1h1.8v1.8h-1.8zM364.9 109.9h1.8v1.8h-1.8zM344.1 130.1h1.8v1.8h-1.8zM393.1 121.1h1.8v1.8h-1.8z"/>
</g>
<g stroke="#000" fill="none">
<rect x="36.6" y="48" width="206.9" height="209" stroke-width="1.6"/>
<rect x="296.4" y="47.6" width="207.4" height="209.8" stroke-width="1.5"/>
<line x1="37" y1="190" x2="243" y2="190" stroke-width="1.7" stroke="#333"/>
<line x1="120.3" y1="48" x2="120.3" y2="257" stroke-width="1.5" stroke="#333"/>
<line x1="297" y1="191.1" x2="504" y2="191.1" stroke-width="1.8" stroke="#111"/>
<line x1="380.1" y1="48" x2="380.1" y2="257" stroke-width="2" stroke="#777"/>
<line x1="66.5" y1="58.4" x2="66.5" y2="95.7" stroke-width="1.3"/>
<line x1="43" y1="78" x2="84.6" y2="78" stroke-width="1.4"/>
<line x1="328.2" y1="56.4" x2="328.2" y2="92.8" stroke-width="1.3"/>
<line x1="305.4" y1="75.7" x2="346.6" y2="75.7" stroke-width="1.4"/>
<path d="M207.9 4.3h6M210.8 1.2v6.3M142.8 23.3h6.2M145.9 20v6.7M404.6 23.5h6.4M407.8 20.2v6.7M470 5.8h5.7" stroke-width="1.1"/>
<path d="M34.4 241.3h1.8M34.4 232.1h1.8M34.4 225.5h1.8M34.4 220.5h1.8M34.4 216.3h1.8M34.4 212.8h1.8M34.4 209.8h1.8M34.4 207.1h1.8M34.4 189.0h1.8M34.4 179.8h1.8M34.4 173.3h1.8M34.4 168.2h1.8M34.4 164.1h1.8M34.4 160.6h1.8M34.4 157.6h1.8M34.4 154.9h1.8M34.4 136.8h1.8M34.4 127.6h1.8M34.4 121.0h1.8M34.4 116.0h1.8M34.4 111.8h1.8M34.4 108.3h1.8M34.4 105.3h1.8M34.4 102.6h1.8M34.4 84.5h1.8M34.4 75.3h1.8M34.4 68.8h1.8M34.4 63.7h1.8M34.4 59.6h1.8M34.4 56.1h1.8M34.4 53.1h1.8M34.4 50.4h1.8M294.4 241.3h1.8M294.4 232.1h1.8M294.4 225.5h1.8M294.4 220.5h1.8M294.4 216.3h1.8M294.4 212.8h1.8M294.4 209.8h1.8M294.4 207.1h1.8M294.4 189.0h1.8M294.4 179.8h1.8M294.4 173.3h1.8M294.4 168.2h1.8M294.4 164.1h1.8M294.4 160.6h1.8M294.4 157.6h1.8M294.4 154.9h1.8M294.4 136.8h1.8M294.4 127.6h1.8M294.4 121.0h1.8M294.4 116.0h1.8M294.4 111.8h1.8M294.4 108.3h1.8M294.4 105.3h1.8M294.4 102.6h1.8M294.4 84.5h1.8M294.4 75.3h1.8M294.4 68.8h1.8M294.4 63.7h1.8M294.4 59.6h1.8M294.4 56.1h1.8M294.4 53.1h1.8M294.4 50.4h1.8M52.5 258.2v1.6M61.6 258.2v1.6M68.0 258.2v1.6M73.0 258.2v1.6M77.1 258.2v1.6M80.5 258.2v1.6M83.5 258.2v1.6M86.1 258.2v1.6M104.0 258.2v1.6M113.1 258.2v1.6M119.5 258.2v1.6M124.5 258.2v1.6M128.6 258.2v1.6M132.0 258.2v1.6M135.0 258.2v1.6M137.6 258.2v1.6M155.5 258.2v1.6M164.6 258.2v1.6M171.0 258.2v1.6M176.0 258.2v1.6M180.1 258.2v1.6M183.5 258.2v1.6M186.5 258.2v1.6M189.1 258.2v1.6M207.0 258.2v1.6M216.1 258.2v1.6M222.5 258.2v1.6M227.5 258.2v1.6M231.6 258.2v1.6M235.0 258.2v1.6M238.0 258.2v1.6M240.6 258.2v1.6M312.7 258.2v1.6M321.8 258.2v1.6M328.3 258.2v1.6M333.3 258.2v1.6M337.5 258.2v1.6M340.9 258.2v1.6M344.0 258.2v1.6M346.6 258.2v1.6M364.7 258.2v1.6M373.8 258.2v1.6M380.3 258.2v1.6M385.3 258.2v1.6M389.5 258.2v1.6M392.9 258.2v1.6M396.0 258.2v1.6M398.6 258.2v1.6M416.7 258.2v1.6M425.8 258.2v1.6M432.3 258.2v1.6M437.3 258.2v1.6M441.5 258.2v1.6M444.9 258.2v1.6M448.0 258.2v1.6M450.6 258.2v1.6M468.7 258.2v1.6M477.8 258.2v1.6M484.3 258.2v1.6M489.3 258.2v1.6M493.5 258.2v1.6M496.9 258.2v1.6M500.0 258.2v1.6M502.6 258.2v1.6" stroke="#777" stroke-width="0.9"/>
<line x1="38.8" y1="283.4" x2="209.2" y2="283.4" stroke-width="3"/>
<line x1="324.8" y1="282.3" x2="490" y2="282.3" stroke-width="3"/>
<line x1="9.3" y1="54" x2="9.3" y2="108" stroke-width="2.4"/>
<line x1="9.8" y1="198.6" x2="9.8" y2="256" stroke-width="2.4"/>
</g>
<g fill="#111">
<path d="M9.2 39.6 L16.7 56.8 L9.3 55.3 L1.8 56.8 Z"/>
<path d="M504 282.1 L487 275.2 L488.3 282.2 L487 289.2 Z"/>
</g>
<text class="tt" x="68.2" y="15.6">Initiated with c-kit</text>
<text class="tt" x="41" y="39">Early CD45R</text><text class="tt" x="154.6" y="39">Pro-B Cells</text>
<text class="tt" x="331" y="15.6">Initiated with c-kit</text>
<text class="tt" x="303.3" y="39">Early CD45R</text><text class="tt" x="416.9" y="39">Pro-B Cells</text>
<text class="tt" x="233.6" y="290.5" style="font-size:19px">c&#956;</text><text class="tt" x="258" y="290.5" style="font-size:19px" textLength="42.2" lengthAdjust="spacingAndGlyphs">FITC</text>
<text class="tt" transform="translate(13.8 187.2) rotate(-90)" style="font-size:19px">sIgM PE</text>
<text class="qn" x="62.3" y="73.9" text-anchor="end">1</text><text class="qn" x="67.2" y="73.9">22</text>
<text class="qn" x="62.3" y="90.6" text-anchor="end">14</text><text class="qn" x="68.4" y="90.6">63</text>
<text class="qn" x="323.6" y="71.5" text-anchor="end">2</text><text class="qn" x="329.2" y="71.5">34</text>
<text class="qn" x="323.6" y="87.4" text-anchor="end">4</text><text class="qn" x="329.5" y="87.4">60</text>
<text x="37.4" y="270.4" class="tk" textLength="9.4" lengthAdjust="spacingAndGlyphs">10</text><text x="48.4" y="265.79999999999995" class="tks">0</text><text x="89" y="270.4" class="tk" textLength="9.4" lengthAdjust="spacingAndGlyphs">10</text><text x="100.0" y="265.79999999999995" class="tks">1</text><text x="141.5" y="270.4" class="tk" textLength="9.4" lengthAdjust="spacingAndGlyphs">10</text><text x="152.5" y="265.79999999999995" class="tks">2</text><text x="192.5" y="270.4" class="tk" textLength="9.4" lengthAdjust="spacingAndGlyphs">10</text><text x="203.5" y="265.79999999999995" class="tks">3</text><text x="243" y="270.4" class="tk" textLength="9.4" lengthAdjust="spacingAndGlyphs">10</text><text x="254.0" y="265.79999999999995" class="tks">4</text><text x="298" y="270.4" class="tk" textLength="9.4" lengthAdjust="spacingAndGlyphs">10</text><text x="309.0" y="265.79999999999995" class="tks">0</text><text x="350" y="270.4" class="tk" textLength="9.4" lengthAdjust="spacingAndGlyphs">10</text><text x="361.0" y="265.79999999999995" class="tks">1</text><text x="402" y="270.4" class="tk" textLength="9.4" lengthAdjust="spacingAndGlyphs">10</text><text x="413.0" y="265.79999999999995" class="tks">2</text><text x="453.5" y="270.4" class="tk" textLength="9.4" lengthAdjust="spacingAndGlyphs">10</text><text x="464.5" y="265.79999999999995" class="tks">3</text><text x="504.5" y="270.4" class="tk" textLength="9.4" lengthAdjust="spacingAndGlyphs">10</text><text x="515.5" y="265.79999999999995" class="tks">4</text>
<g transform="translate(32.8 256.4) rotate(-90)"><text x="0" y="0" class="tk" style="font-size:10.8px" textLength="9.4" lengthAdjust="spacingAndGlyphs">10</text><text x="12.0" y="-3.3" class="tks" style="font-size:6.8px">0</text></g><g transform="translate(32.8 204.4) rotate(-90)"><text x="0" y="0" class="tk" style="font-size:10.8px" textLength="9.4" lengthAdjust="spacingAndGlyphs">10</text><text x="12.0" y="-3.3" class="tks" style="font-size:6.8px">1</text></g><g transform="translate(32.8 151.9) rotate(-90)"><text x="0" y="0" class="tk" style="font-size:10.8px" textLength="9.4" lengthAdjust="spacingAndGlyphs">10</text><text x="12.0" y="-3.3" class="tks" style="font-size:6.8px">2</text></g><g transform="translate(32.8 99.9) rotate(-90)"><text x="0" y="0" class="tk" style="font-size:10.8px" textLength="9.4" lengthAdjust="spacingAndGlyphs">10</text><text x="12.0" y="-3.3" class="tks" style="font-size:6.8px">3</text></g><g transform="translate(32.8 47.4) rotate(-90)"><text x="0" y="0" class="tk" style="font-size:10.8px" textLength="9.4" lengthAdjust="spacingAndGlyphs">10</text><text x="12.0" y="-3.3" class="tks" style="font-size:6.8px">4</text></g><g transform="translate(293.2 255.4) rotate(-90)"><text x="0" y="0" class="tk" style="font-size:10.8px" textLength="9.4" lengthAdjust="spacingAndGlyphs">10</text><text x="12.0" y="-3.3" class="tks" style="font-size:6.8px">0</text></g><g transform="translate(293.2 204.9) rotate(-90)"><text x="0" y="0" class="tk" style="font-size:10.8px" textLength="9.4" lengthAdjust="spacingAndGlyphs">10</text><text x="12.0" y="-3.3" class="tks" style="font-size:6.8px">1</text></g><g transform="translate(293.2 151.9) rotate(-90)"><text x="0" y="0" class="tk" style="font-size:10.8px" textLength="9.4" lengthAdjust="spacingAndGlyphs">10</text><text x="12.0" y="-3.3" class="tks" style="font-size:6.8px">2</text></g><g transform="translate(293.2 101.9) rotate(-90)"><text x="0" y="0" class="tk" style="font-size:10.8px" textLength="9.4" lengthAdjust="spacingAndGlyphs">10</text><text x="12.0" y="-3.3" class="tks" style="font-size:6.8px">3</text></g><g transform="translate(293.2 47.4) rotate(-90)"><text x="0" y="0" class="tk" style="font-size:10.8px" textLength="9.4" lengthAdjust="spacingAndGlyphs">10</text><text x="12.0" y="-3.3" class="tks" style="font-size:6.8px">4</text></g>
</svg>
</body></html>
